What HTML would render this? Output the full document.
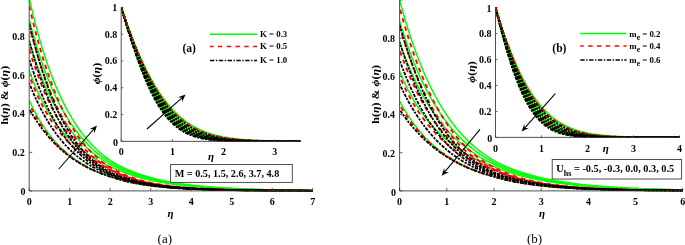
<!DOCTYPE html>
<html><head><meta charset="utf-8"><title>figure</title>
<style>
html,body{margin:0;padding:0;background:#fff;}
body{width:685px;height:245px;overflow:hidden;}
svg{display:block;}
text{font-family:"Liberation Serif","DejaVu Serif",serif;fill:#000;}
.tk{font-weight:bold;}
.it{font-style:italic;font-weight:bold;}
</style></head><body>
<svg width="685" height="245" viewBox="0 0 685 245">
<rect width="685" height="245" fill="#fff"/>
<defs>
<clipPath id="cA"><rect x="29.2" y="-5" width="284" height="196.6"/></clipPath>
<clipPath id="cB"><rect x="399.6" y="-5" width="283.7" height="196.6"/></clipPath>
<clipPath id="cAi"><rect x="121.2" y="0" width="179.4" height="142"/></clipPath>
<clipPath id="cBi"><rect x="495.5" y="0" width="184.2" height="138.1"/></clipPath>
</defs>
<g clip-path="url(#cA)">
<path d="M29.2 -1.7 L30.98 6.02 L32.77 13.43 L34.55 20.54 L36.33 27.36 L38.12 33.91 L39.9 40.19 L41.68 46.21 L43.46 51.99 L45.25 57.54 L47.03 62.87 L48.81 67.98 L50.6 72.88 L52.38 77.59 L54.16 82.11 L55.95 86.44 L57.73 90.6 L59.51 94.6 L61.29 98.43 L63.08 102.12 L64.86 105.65 L66.64 109.04 L68.43 112.3 L70.21 115.42 L71.99 118.42 L73.78 121.3 L75.56 124.07 L77.34 126.73 L79.12 129.28 L80.91 131.72 L82.69 134.07 L84.47 136.33 L86.26 138.5 L88.04 140.58 L89.82 142.57 L91.61 144.49 L93.39 146.33 L95.17 148.1 L96.95 149.8 L98.74 151.43 L100.52 153 L102.3 154.5 L104.09 155.94 L105.87 157.33 L107.65 158.66 L109.44 159.94 L111.22 161.1 L113 162.17 L114.78 163.2 L116.57 164.19 L118.35 165.15 L120.13 166.07 L121.92 166.97 L123.7 167.82 L125.48 168.65 L127.27 169.45 L129.05 170.22 L130.83 170.96 L132.62 171.68 L134.4 172.37 L136.18 173.03 L137.96 173.67 L139.75 174.29 L141.53 174.89 L143.31 175.46 L145.1 176.02 L146.88 176.55 L148.66 177.06 L150.45 177.56 L152.23 178.04 L154.01 178.5 L155.79 178.95 L157.58 179.38 L159.36 179.79 L161.14 180.19 L162.93 180.57 L164.71 180.94 L166.49 181.3 L168.28 181.64 L170.06 181.98 L171.84 182.3 L173.62 182.61 L175.41 182.9 L177.19 183.19 L178.97 183.47 L180.76 183.73 L182.54 183.99 L184.32 184.24 L186.11 184.48 L187.89 184.71 L189.67 184.93 L191.45 185.14 L193.24 185.35 L195.02 185.55 L196.8 185.74 L198.59 185.93 L200.37 186.11 L202.15 186.28 L203.94 186.44 L205.72 186.6 L207.5 186.76 L209.28 186.91 L211.07 187.05 L212.85 187.19 L214.63 187.32 L216.42 187.45 L218.2 187.57 L219.98 187.69 L221.77 187.81 L223.55 187.92 L225.33 188.03 L227.12 188.13 L228.9 188.23 L230.68 188.32 L232.46 188.42 L234.25 188.51 L236.03 188.59 L237.81 188.67 L239.6 188.75 L241.38 188.83 L243.16 188.91 L244.95 188.98 L246.73 189.05 L248.51 189.11 L250.29 189.18 L252.08 189.24 L253.86 189.3 L255.64 189.36 L257.43 189.41 L259.21 189.46 L260.99 189.52 L262.78 189.57 L264.56 189.61 L266.34 189.66 L268.12 189.7 L269.91 189.75 L271.69 189.79 L273.47 189.83 L275.26 189.87 L277.04 189.9 L278.82 189.94 L280.61 189.97 L282.39 190.01 L284.17 190.04 L285.95 190.07 L287.74 190.1 L289.52 190.13 L291.3 190.16 L293.09 190.18 L294.87 190.21 L296.65 190.23 L298.44 190.26 L300.22 190.28 L302 190.3 L303.78 190.32 L305.57 190.34 L307.35 190.36 L309.13 190.38 L310.92 190.4 L312.7 190.42" stroke="#00ff00" stroke-width="1.45" fill="none"/>
<path d="M29.2 19.49 L30.98 26.35 L32.77 32.93 L34.55 39.23 L36.33 45.26 L38.12 51.04 L39.9 56.57 L41.68 61.88 L43.46 66.97 L45.25 71.84 L47.03 76.52 L48.81 81 L50.6 85.3 L52.38 89.43 L54.16 93.39 L55.95 97.19 L57.73 100.83 L59.51 104.33 L61.29 107.69 L63.08 110.92 L64.86 114.01 L66.64 116.98 L68.43 119.84 L70.21 122.58 L71.99 125.21 L73.78 127.74 L75.56 130.17 L77.34 132.5 L79.12 134.74 L80.91 136.9 L82.69 138.97 L84.47 140.96 L86.26 142.87 L88.04 144.71 L89.82 146.47 L91.61 148.17 L93.39 149.8 L95.17 151.37 L96.95 152.87 L98.74 154.32 L100.52 155.72 L102.3 157.06 L104.09 158.34 L105.87 159.58 L107.65 160.77 L109.44 161.92 L111.22 162.98 L113 163.99 L114.78 164.95 L116.57 165.88 L118.35 166.78 L120.13 167.65 L121.92 168.48 L123.7 169.28 L125.48 170.06 L127.27 170.81 L129.05 171.53 L130.83 172.22 L132.62 172.89 L134.4 173.54 L136.18 174.16 L137.96 174.76 L139.75 175.34 L141.53 175.9 L143.31 176.44 L145.1 176.96 L146.88 177.46 L148.66 177.94 L150.45 178.41 L152.23 178.85 L154.01 179.29 L155.79 179.7 L157.58 180.1 L159.36 180.49 L161.14 180.87 L162.93 181.23 L164.71 181.57 L166.49 181.91 L168.28 182.23 L170.06 182.54 L171.84 182.84 L173.62 183.13 L175.41 183.41 L177.19 183.68 L178.97 183.94 L180.76 184.19 L182.54 184.43 L184.32 184.66 L186.11 184.88 L187.89 185.1 L189.67 185.31 L191.45 185.51 L193.24 185.7 L195.02 185.89 L196.8 186.07 L198.59 186.24 L200.37 186.41 L202.15 186.57 L203.94 186.73 L205.72 186.87 L207.5 187.02 L209.28 187.16 L211.07 187.29 L212.85 187.42 L214.63 187.55 L216.42 187.67 L218.2 187.78 L219.98 187.9 L221.77 188 L223.55 188.11 L225.33 188.21 L227.12 188.3 L228.9 188.4 L230.68 188.49 L232.46 188.57 L234.25 188.66 L236.03 188.74 L237.81 188.81 L239.6 188.89 L241.38 188.96 L243.16 189.03 L244.95 189.1 L246.73 189.16 L248.51 189.23 L250.29 189.29 L252.08 189.34 L253.86 189.4 L255.64 189.45 L257.43 189.51 L259.21 189.56 L260.99 189.6 L262.78 189.65 L264.56 189.69 L266.34 189.74 L268.12 189.78 L269.91 189.82 L271.69 189.86 L273.47 189.9 L275.26 189.93 L277.04 189.97 L278.82 190 L280.61 190.03 L282.39 190.06 L284.17 190.09 L285.95 190.12 L287.74 190.15 L289.52 190.18 L291.3 190.2 L293.09 190.23 L294.87 190.25 L296.65 190.28 L298.44 190.3 L300.22 190.32 L302 190.34 L303.78 190.36 L305.57 190.38 L307.35 190.4 L309.13 190.42 L310.92 190.43 L312.7 190.45" stroke="#00ff00" stroke-width="1.45" fill="none"/>
<path d="M29.2 40.67 L30.98 46.68 L32.77 52.42 L34.55 57.91 L36.33 63.16 L38.12 68.17 L39.9 72.97 L41.68 77.56 L43.46 81.95 L45.25 86.16 L47.03 90.19 L48.81 94.06 L50.6 97.76 L52.38 101.31 L54.16 104.71 L55.95 107.97 L57.73 111.1 L59.51 114.11 L61.29 116.99 L63.08 119.76 L64.86 122.42 L66.64 124.97 L68.43 127.43 L70.21 129.78 L71.99 132.05 L73.78 134.22 L75.56 136.31 L77.34 138.32 L79.12 140.26 L80.91 142.11 L82.69 143.9 L84.47 145.62 L86.26 147.28 L88.04 148.87 L89.82 150.4 L91.61 151.87 L93.39 153.29 L95.17 154.66 L96.95 155.97 L98.74 157.24 L100.52 158.45 L102.3 159.63 L104.09 160.76 L105.87 161.84 L107.65 162.89 L109.44 163.9 L111.22 164.87 L113 165.8 L114.78 166.7 L116.57 167.57 L118.35 168.41 L120.13 169.22 L121.92 170 L123.7 170.75 L125.48 171.47 L127.27 172.17 L129.05 172.84 L130.83 173.49 L132.62 174.11 L134.4 174.71 L136.18 175.29 L137.96 175.85 L139.75 176.39 L141.53 176.91 L143.31 177.42 L145.1 177.9 L146.88 178.37 L148.66 178.82 L150.45 179.25 L152.23 179.67 L154.01 180.07 L155.79 180.46 L157.58 180.83 L159.36 181.2 L161.14 181.54 L162.93 181.88 L164.71 182.2 L166.49 182.51 L168.28 182.82 L170.06 183.11 L171.84 183.39 L173.62 183.66 L175.41 183.92 L177.19 184.17 L178.97 184.41 L180.76 184.64 L182.54 184.86 L184.32 185.08 L186.11 185.29 L187.89 185.49 L189.67 185.69 L191.45 185.87 L193.24 186.05 L195.02 186.23 L196.8 186.39 L198.59 186.56 L200.37 186.71 L202.15 186.86 L203.94 187.01 L205.72 187.15 L207.5 187.28 L209.28 187.41 L211.07 187.54 L212.85 187.66 L214.63 187.77 L216.42 187.89 L218.2 187.99 L219.98 188.1 L221.77 188.2 L223.55 188.3 L225.33 188.39 L227.12 188.48 L228.9 188.57 L230.68 188.65 L232.46 188.73 L234.25 188.81 L236.03 188.88 L237.81 188.96 L239.6 189.03 L241.38 189.09 L243.16 189.16 L244.95 189.22 L246.73 189.28 L248.51 189.34 L250.29 189.39 L252.08 189.45 L253.86 189.5 L255.64 189.55 L257.43 189.6 L259.21 189.65 L260.99 189.69 L262.78 189.73 L264.56 189.78 L266.34 189.82 L268.12 189.86 L269.91 189.89 L271.69 189.93 L273.47 189.96 L275.26 190 L277.04 190.03 L278.82 190.06 L280.61 190.09 L282.39 190.12 L284.17 190.15 L285.95 190.18 L287.74 190.2 L289.52 190.23 L291.3 190.25 L293.09 190.27 L294.87 190.3 L296.65 190.32 L298.44 190.34 L300.22 190.36 L302 190.38 L303.78 190.4 L305.57 190.42 L307.35 190.43 L309.13 190.45 L310.92 190.47 L312.7 190.48" stroke="#00ff00" stroke-width="1.45" fill="none"/>
<path d="M29.2 70.53 L30.98 75.43 L32.77 80.07 L34.55 84.48 L36.33 88.67 L38.12 92.64 L39.9 96.43 L41.68 100.03 L43.46 103.46 L45.25 106.73 L47.03 109.85 L48.81 112.83 L50.6 115.67 L52.38 118.39 L54.16 120.99 L55.95 123.47 L57.73 125.85 L59.51 128.13 L61.29 130.32 L63.08 132.42 L64.86 134.43 L66.64 136.36 L68.43 138.21 L70.21 139.99 L71.99 141.7 L73.78 143.34 L75.56 144.92 L77.34 146.44 L79.12 147.91 L80.91 149.32 L82.69 150.67 L84.47 151.98 L86.26 153.24 L88.04 154.46 L89.82 155.63 L91.61 156.76 L93.39 157.85 L95.17 158.9 L96.95 159.91 L98.74 160.89 L100.52 161.84 L102.3 162.75 L104.09 163.63 L105.87 164.49 L107.65 165.31 L109.44 166.11 L111.22 166.95 L113 167.8 L114.78 168.63 L116.57 169.43 L118.35 170.2 L120.13 170.95 L121.92 171.66 L123.7 172.35 L125.48 173.02 L127.27 173.66 L129.05 174.28 L130.83 174.87 L132.62 175.45 L134.4 176 L136.18 176.54 L137.96 177.05 L139.75 177.55 L141.53 178.03 L143.31 178.49 L145.1 178.94 L146.88 179.37 L148.66 179.78 L150.45 180.18 L152.23 180.56 L154.01 180.93 L155.79 181.29 L157.58 181.64 L159.36 181.97 L161.14 182.29 L162.93 182.6 L164.71 182.9 L166.49 183.18 L168.28 183.46 L170.06 183.73 L171.84 183.98 L173.62 184.23 L175.41 184.47 L177.19 184.7 L178.97 184.92 L180.76 185.14 L182.54 185.35 L184.32 185.55 L186.11 185.74 L187.89 185.92 L189.67 186.1 L191.45 186.27 L193.24 186.44 L195.02 186.6 L196.8 186.75 L198.59 186.9 L200.37 187.05 L202.15 187.18 L203.94 187.32 L205.72 187.45 L207.5 187.57 L209.28 187.69 L211.07 187.8 L212.85 187.92 L214.63 188.02 L216.42 188.13 L218.2 188.23 L219.98 188.32 L221.77 188.41 L223.55 188.5 L225.33 188.59 L227.12 188.67 L228.9 188.75 L230.68 188.83 L232.46 188.9 L234.25 188.98 L236.03 189.04 L237.81 189.11 L239.6 189.18 L241.38 189.24 L243.16 189.3 L244.95 189.35 L246.73 189.41 L248.51 189.46 L250.29 189.51 L252.08 189.56 L253.86 189.61 L255.64 189.66 L257.43 189.7 L259.21 189.75 L260.99 189.79 L262.78 189.83 L264.56 189.87 L266.34 189.9 L268.12 189.94 L269.91 189.97 L271.69 190.01 L273.47 190.04 L275.26 190.07 L277.04 190.1 L278.82 190.13 L280.61 190.16 L282.39 190.18 L284.17 190.21 L285.95 190.23 L287.74 190.26 L289.52 190.28 L291.3 190.3 L293.09 190.32 L294.87 190.34 L296.65 190.36 L298.44 190.38 L300.22 190.4 L302 190.42 L303.78 190.44 L305.57 190.45 L307.35 190.47 L309.13 190.49 L310.92 190.5 L312.7 190.51" stroke="#00ff00" stroke-width="1.45" fill="none"/>
<path d="M29.2 100.38 L30.98 104.19 L32.77 107.83 L34.55 111.3 L36.33 114.61 L38.12 117.77 L39.9 120.79 L41.68 123.67 L43.46 126.43 L45.25 129.06 L47.03 131.58 L48.81 133.99 L50.6 136.3 L52.38 138.5 L54.16 140.61 L55.95 142.63 L57.73 144.56 L59.51 146.41 L61.29 148.19 L63.08 149.89 L64.86 151.51 L66.64 153.08 L68.43 154.57 L70.21 156 L71.99 157.38 L73.78 158.7 L75.56 159.96 L77.34 161.18 L79.12 162.34 L80.91 163.45 L82.69 164.53 L84.47 165.55 L86.26 166.54 L88.04 167.49 L89.82 168.4 L91.61 169.27 L93.39 170.11 L95.17 170.91 L96.95 171.69 L98.74 172.43 L100.52 173.14 L102.3 173.83 L104.09 174.49 L105.87 175.12 L107.65 175.72 L109.44 176.31 L111.22 176.91 L113 177.51 L114.78 178.09 L116.57 178.64 L118.35 179.17 L120.13 179.67 L121.92 180.16 L123.7 180.62 L125.48 181.06 L127.27 181.49 L129.05 181.89 L130.83 182.28 L132.62 182.65 L134.4 183.01 L136.18 183.35 L137.96 183.67 L139.75 183.98 L141.53 184.28 L143.31 184.57 L145.1 184.84 L146.88 185.1 L148.66 185.35 L150.45 185.59 L152.23 185.82 L154.01 186.04 L155.79 186.25 L157.58 186.45 L159.36 186.64 L161.14 186.82 L162.93 187 L164.71 187.17 L166.49 187.33 L168.28 187.48 L170.06 187.63 L171.84 187.77 L173.62 187.9 L175.41 188.03 L177.19 188.16 L178.97 188.27 L180.76 188.39 L182.54 188.5 L184.32 188.6 L186.11 188.7 L187.89 188.79 L189.67 188.88 L191.45 188.97 L193.24 189.05 L195.02 189.13 L196.8 189.21 L198.59 189.28 L200.37 189.35 L202.15 189.42 L203.94 189.48 L205.72 189.54 L207.5 189.6 L209.28 189.66 L211.07 189.71 L212.85 189.76 L214.63 189.81 L216.42 189.86 L218.2 189.9 L219.98 189.95 L221.77 189.99 L223.55 190.03 L225.33 190.06 L227.12 190.1 L228.9 190.13 L230.68 190.17 L232.46 190.2 L234.25 190.23 L236.03 190.26 L237.81 190.29 L239.6 190.31 L241.38 190.34 L243.16 190.36 L244.95 190.38 L246.73 190.41 L248.51 190.43 L250.29 190.45 L252.08 190.47 L253.86 190.49 L255.64 190.5 L257.43 190.52 L259.21 190.54 L260.99 190.55 L262.78 190.57 L264.56 190.58 L266.34 190.6 L268.12 190.61 L269.91 190.62 L271.69 190.63 L273.47 190.65 L275.26 190.66 L277.04 190.67 L278.82 190.68 L280.61 190.69 L282.39 190.7 L284.17 190.7 L285.95 190.71 L287.74 190.72 L289.52 190.73 L291.3 190.74 L293.09 190.74 L294.87 190.75 L296.65 190.76 L298.44 190.76 L300.22 190.77 L302 190.77 L303.78 190.78 L305.57 190.78 L307.35 190.79 L309.13 190.79 L310.92 190.8 L312.7 190.8" stroke="#00ff00" stroke-width="1.45" fill="none"/>
<path d="M29.2 6 L30.98 13.6 L32.77 20.93 L34.55 28 L36.33 34.82 L38.12 41.38 L39.9 47.7 L41.68 53.78 L43.46 59.63 L45.25 65.25 L47.03 70.66 L48.81 75.86 L50.6 80.84 L52.38 85.63 L54.16 90.23 L55.95 94.64 L57.73 98.87 L59.51 102.93 L61.29 106.82 L63.08 110.55 L64.86 114.12 L66.64 117.54 L68.43 120.82 L70.21 123.95 L71.99 126.96 L73.78 129.83 L75.56 132.58 L77.34 135.21 L79.12 137.73 L80.91 140.14 L82.69 142.44 L84.47 144.64 L86.26 146.75 L88.04 148.76 L89.82 150.68 L91.61 152.52 L93.39 154.27 L95.17 155.95 L96.95 157.55 L98.74 159.08 L100.52 160.54 L102.3 161.94 L104.09 163.27 L105.87 164.55 L107.65 165.76 L109.44 166.92 L111.22 168.02 L113 169.05 L114.78 170.04 L116.57 170.98 L118.35 171.88 L120.13 172.74 L121.92 173.56 L123.7 174.34 L125.48 175.09 L127.27 175.8 L129.05 176.49 L130.83 177.14 L132.62 177.76 L134.4 178.35 L136.18 178.92 L137.96 179.46 L139.75 179.98 L141.53 180.47 L143.31 180.94 L145.1 181.39 L146.88 181.82 L148.66 182.23 L150.45 182.62 L152.23 183 L154.01 183.35 L155.79 183.69 L157.58 184.02 L159.36 184.33 L161.14 184.63 L162.93 184.91 L164.71 185.18 L166.49 185.44 L168.28 185.69 L170.06 185.92 L171.84 186.15 L173.62 186.36 L175.41 186.57 L177.19 186.76 L178.97 186.95 L180.76 187.13 L182.54 187.3 L184.32 187.46 L186.11 187.62 L187.89 187.76 L189.67 187.91 L191.45 188.04 L193.24 188.17 L195.02 188.29 L196.8 188.41 L198.59 188.52 L200.37 188.63 L202.15 188.73 L203.94 188.83 L205.72 188.93 L207.5 189.01 L209.28 189.1 L211.07 189.18 L212.85 189.26 L214.63 189.33 L216.42 189.4 L218.2 189.47 L219.98 189.54 L221.77 189.6 L223.55 189.66 L225.33 189.71 L227.12 189.77 L228.9 189.82 L230.68 189.87 L232.46 189.91 L234.25 189.96 L236.03 190 L237.81 190.04 L239.6 190.08 L241.38 190.12 L243.16 190.15 L244.95 190.19 L246.73 190.22 L248.51 190.25 L250.29 190.28 L252.08 190.31 L253.86 190.33 L255.64 190.36 L257.43 190.38 L259.21 190.41 L260.99 190.43 L262.78 190.45 L264.56 190.47 L266.34 190.49 L268.12 190.51 L269.91 190.53 L271.69 190.54 L273.47 190.56 L275.26 190.57 L277.04 190.59 L278.82 190.6 L280.61 190.62 L282.39 190.63 L284.17 190.64 L285.95 190.65 L287.74 190.66 L289.52 190.68 L291.3 190.69 L293.09 190.69 L294.87 190.7 L296.65 190.71 L298.44 190.72 L300.22 190.73 L302 190.74 L303.78 190.74 L305.57 190.75 L307.35 190.76 L309.13 190.76 L310.92 190.77 L312.7 190.78" stroke="#ff0000" stroke-width="1.9" fill="none" stroke-dasharray="4.4 4.3" stroke-dashoffset="0.06"/>
<path d="M29.2 25.26 L30.98 32.13 L32.77 38.75 L34.55 45.11 L36.33 51.23 L38.12 57.12 L39.9 62.78 L41.68 68.21 L43.46 73.44 L45.25 78.45 L47.03 83.27 L48.81 87.89 L50.6 92.33 L52.38 96.58 L54.16 100.67 L55.95 104.58 L57.73 108.33 L59.51 111.93 L61.29 115.38 L63.08 118.68 L64.86 121.85 L66.64 124.88 L68.43 127.78 L70.21 130.56 L71.99 133.22 L73.78 135.77 L75.56 138.21 L77.34 140.54 L79.12 142.78 L80.91 144.91 L82.69 146.96 L84.47 148.91 L86.26 150.78 L88.04 152.57 L89.82 154.28 L91.61 155.92 L93.39 157.49 L95.17 158.98 L96.95 160.41 L98.74 161.78 L100.52 163.09 L102.3 164.33 L104.09 165.53 L105.87 166.67 L107.65 167.76 L109.44 168.8 L111.22 169.8 L113 170.75 L114.78 171.66 L116.57 172.53 L118.35 173.36 L120.13 174.15 L121.92 174.91 L123.7 175.63 L125.48 176.32 L127.27 176.98 L129.05 177.61 L130.83 178.21 L132.62 178.78 L134.4 179.33 L136.18 179.85 L137.96 180.35 L139.75 180.83 L141.53 181.28 L143.31 181.72 L145.1 182.13 L146.88 182.53 L148.66 182.91 L150.45 183.27 L152.23 183.61 L154.01 183.94 L155.79 184.26 L157.58 184.56 L159.36 184.84 L161.14 185.12 L162.93 185.38 L164.71 185.63 L166.49 185.87 L168.28 186.09 L170.06 186.31 L171.84 186.52 L173.62 186.72 L175.41 186.9 L177.19 187.08 L178.97 187.26 L180.76 187.42 L182.54 187.58 L184.32 187.73 L186.11 187.87 L187.89 188.01 L189.67 188.14 L191.45 188.26 L193.24 188.38 L195.02 188.5 L196.8 188.61 L198.59 188.71 L200.37 188.81 L202.15 188.9 L203.94 188.99 L205.72 189.08 L207.5 189.16 L209.28 189.24 L211.07 189.31 L212.85 189.39 L214.63 189.45 L216.42 189.52 L218.2 189.58 L219.98 189.64 L221.77 189.7 L223.55 189.75 L225.33 189.8 L227.12 189.85 L228.9 189.9 L230.68 189.95 L232.46 189.99 L234.25 190.03 L236.03 190.07 L237.81 190.11 L239.6 190.14 L241.38 190.18 L243.16 190.21 L244.95 190.24 L246.73 190.27 L248.51 190.3 L250.29 190.33 L252.08 190.35 L253.86 190.38 L255.64 190.4 L257.43 190.42 L259.21 190.44 L260.99 190.47 L262.78 190.49 L264.56 190.5 L266.34 190.52 L268.12 190.54 L269.91 190.56 L271.69 190.57 L273.47 190.59 L275.26 190.6 L277.04 190.61 L278.82 190.63 L280.61 190.64 L282.39 190.65 L284.17 190.66 L285.95 190.67 L287.74 190.68 L289.52 190.69 L291.3 190.7 L293.09 190.71 L294.87 190.72 L296.65 190.73 L298.44 190.74 L300.22 190.74 L302 190.75 L303.78 190.76 L305.57 190.76 L307.35 190.77 L309.13 190.78 L310.92 190.78 L312.7 190.79" stroke="#ff0000" stroke-width="1.9" fill="none" stroke-dasharray="4.4 4.3" stroke-dashoffset="1.92"/>
<path d="M29.2 48.95 L30.98 54.83 L32.77 60.45 L34.55 65.84 L36.33 71 L38.12 75.95 L39.9 80.69 L41.68 85.23 L43.46 89.59 L45.25 93.76 L47.03 97.76 L48.81 101.59 L50.6 105.26 L52.38 108.78 L54.16 112.16 L55.95 115.39 L57.73 118.49 L59.51 121.46 L61.29 124.31 L63.08 127.04 L64.86 129.66 L66.64 132.17 L68.43 134.58 L70.21 136.88 L71.99 139.1 L73.78 141.22 L75.56 143.25 L77.34 145.2 L79.12 147.07 L80.91 148.86 L82.69 150.58 L84.47 152.23 L86.26 153.81 L88.04 155.33 L89.82 156.78 L91.61 158.18 L93.39 159.51 L95.17 160.8 L96.95 162.03 L98.74 163.2 L100.52 164.34 L102.3 165.42 L104.09 166.46 L105.87 167.46 L107.65 168.41 L109.44 169.33 L111.22 170.27 L113 171.2 L114.78 172.09 L116.57 172.94 L118.35 173.75 L120.13 174.52 L121.92 175.26 L123.7 175.97 L125.48 176.64 L127.27 177.29 L129.05 177.9 L130.83 178.49 L132.62 179.05 L134.4 179.59 L136.18 180.1 L137.96 180.59 L139.75 181.05 L141.53 181.5 L143.31 181.92 L145.1 182.33 L146.88 182.71 L148.66 183.08 L150.45 183.44 L152.23 183.77 L154.01 184.1 L155.79 184.4 L157.58 184.7 L159.36 184.98 L161.14 185.24 L162.93 185.5 L164.71 185.74 L166.49 185.98 L168.28 186.2 L170.06 186.41 L171.84 186.61 L173.62 186.81 L175.41 186.99 L177.19 187.17 L178.97 187.34 L180.76 187.5 L182.54 187.65 L184.32 187.8 L186.11 187.94 L187.89 188.07 L189.67 188.2 L191.45 188.32 L193.24 188.44 L195.02 188.55 L196.8 188.66 L198.59 188.76 L200.37 188.85 L202.15 188.95 L203.94 189.04 L205.72 189.12 L207.5 189.2 L209.28 189.28 L211.07 189.35 L212.85 189.42 L214.63 189.49 L216.42 189.55 L218.2 189.61 L219.98 189.67 L221.77 189.73 L223.55 189.78 L225.33 189.83 L227.12 189.88 L228.9 189.92 L230.68 189.97 L232.46 190.01 L234.25 190.05 L236.03 190.09 L237.81 190.13 L239.6 190.16 L241.38 190.19 L243.16 190.23 L244.95 190.26 L246.73 190.29 L248.51 190.31 L250.29 190.34 L252.08 190.36 L253.86 190.39 L255.64 190.41 L257.43 190.43 L259.21 190.46 L260.99 190.48 L262.78 190.49 L264.56 190.51 L266.34 190.53 L268.12 190.55 L269.91 190.56 L271.69 190.58 L273.47 190.59 L275.26 190.61 L277.04 190.62 L278.82 190.63 L280.61 190.64 L282.39 190.66 L284.17 190.67 L285.95 190.68 L287.74 190.69 L289.52 190.7 L291.3 190.71 L293.09 190.72 L294.87 190.72 L296.65 190.73 L298.44 190.74 L300.22 190.75 L302 190.75 L303.78 190.76 L305.57 190.77 L307.35 190.77 L309.13 190.78 L310.92 190.78 L312.7 190.79" stroke="#ff0000" stroke-width="1.9" fill="none" stroke-dasharray="4.4 4.3" stroke-dashoffset="8.06"/>
<path d="M29.2 75.34 L30.98 80.06 L32.77 84.55 L34.55 88.83 L36.33 92.91 L38.12 96.81 L39.9 100.53 L41.68 104.08 L43.46 107.47 L45.25 110.71 L47.03 113.81 L48.81 116.78 L50.6 119.62 L52.38 122.33 L54.16 124.94 L55.95 127.43 L57.73 129.82 L59.51 132.11 L61.29 134.3 L63.08 136.41 L64.86 138.43 L66.64 140.37 L68.43 142.23 L70.21 144.02 L71.99 145.74 L73.78 147.39 L75.56 148.97 L77.34 150.49 L79.12 151.96 L80.91 153.37 L82.69 154.72 L84.47 156.02 L86.26 157.27 L88.04 158.48 L89.82 159.64 L91.61 160.75 L93.39 161.83 L95.17 162.86 L96.95 163.86 L98.74 164.82 L100.52 165.74 L102.3 166.63 L104.09 167.49 L105.87 168.31 L107.65 169.11 L109.44 169.88 L111.22 170.74 L113 171.65 L114.78 172.52 L116.57 173.35 L118.35 174.14 L120.13 174.9 L121.92 175.62 L123.7 176.31 L125.48 176.97 L127.27 177.6 L129.05 178.2 L130.83 178.77 L132.62 179.32 L134.4 179.84 L136.18 180.34 L137.96 180.82 L139.75 181.28 L141.53 181.71 L143.31 182.13 L145.1 182.52 L146.88 182.9 L148.66 183.26 L150.45 183.61 L152.23 183.94 L154.01 184.25 L155.79 184.55 L157.58 184.84 L159.36 185.11 L161.14 185.37 L162.93 185.62 L164.71 185.86 L166.49 186.09 L168.28 186.31 L170.06 186.51 L171.84 186.71 L173.62 186.9 L175.41 187.08 L177.19 187.25 L178.97 187.42 L180.76 187.58 L182.54 187.73 L184.32 187.87 L186.11 188.01 L187.89 188.14 L189.67 188.26 L191.45 188.38 L193.24 188.5 L195.02 188.6 L196.8 188.71 L198.59 188.81 L200.37 188.9 L202.15 188.99 L203.94 189.08 L205.72 189.16 L207.5 189.24 L209.28 189.31 L211.07 189.39 L212.85 189.45 L214.63 189.52 L216.42 189.58 L218.2 189.64 L219.98 189.7 L221.77 189.75 L223.55 189.8 L225.33 189.85 L227.12 189.9 L228.9 189.95 L230.68 189.99 L232.46 190.03 L234.25 190.07 L236.03 190.11 L237.81 190.14 L239.6 190.18 L241.38 190.21 L243.16 190.24 L244.95 190.27 L246.73 190.3 L248.51 190.33 L250.29 190.35 L252.08 190.38 L253.86 190.4 L255.64 190.42 L257.43 190.44 L259.21 190.47 L260.99 190.48 L262.78 190.5 L264.56 190.52 L266.34 190.54 L268.12 190.55 L269.91 190.57 L271.69 190.59 L273.47 190.6 L275.26 190.61 L277.04 190.63 L278.82 190.64 L280.61 190.65 L282.39 190.66 L284.17 190.67 L285.95 190.68 L287.74 190.69 L289.52 190.7 L291.3 190.71 L293.09 190.72 L294.87 190.73 L296.65 190.74 L298.44 190.74 L300.22 190.75 L302 190.76 L303.78 190.76 L305.57 190.77 L307.35 190.78 L309.13 190.78 L310.92 190.79 L312.7 190.79" stroke="#ff0000" stroke-width="1.9" fill="none" stroke-dasharray="4.4 4.3" stroke-dashoffset="4.37"/>
<path d="M29.2 104.23 L30.98 107.67 L32.77 110.96 L34.55 114.12 L36.33 117.15 L38.12 120.06 L39.9 122.85 L41.68 125.52 L43.46 128.09 L45.25 130.55 L47.03 132.92 L48.81 135.19 L50.6 137.36 L52.38 139.45 L54.16 141.46 L55.95 143.39 L57.73 145.23 L59.51 147.01 L61.29 148.72 L63.08 150.35 L64.86 151.93 L66.64 153.44 L68.43 154.89 L70.21 156.28 L71.99 157.62 L73.78 158.91 L75.56 160.15 L77.34 161.34 L79.12 162.48 L80.91 163.57 L82.69 164.63 L84.47 165.64 L86.26 166.61 L88.04 167.55 L89.82 168.45 L91.61 169.31 L93.39 170.14 L95.17 170.94 L96.95 171.71 L98.74 172.45 L100.52 173.15 L102.3 173.84 L104.09 174.49 L105.87 175.12 L107.65 175.73 L109.44 176.31 L111.22 176.91 L113 177.51 L114.78 178.09 L116.57 178.64 L118.35 179.17 L120.13 179.67 L121.92 180.16 L123.7 180.62 L125.48 181.06 L127.27 181.49 L129.05 181.89 L130.83 182.28 L132.62 182.65 L134.4 183.01 L136.18 183.35 L137.96 183.67 L139.75 183.98 L141.53 184.28 L143.31 184.57 L145.1 184.84 L146.88 185.1 L148.66 185.35 L150.45 185.59 L152.23 185.82 L154.01 186.04 L155.79 186.25 L157.58 186.45 L159.36 186.64 L161.14 186.82 L162.93 187 L164.71 187.17 L166.49 187.33 L168.28 187.48 L170.06 187.63 L171.84 187.77 L173.62 187.9 L175.41 188.03 L177.19 188.16 L178.97 188.27 L180.76 188.39 L182.54 188.5 L184.32 188.6 L186.11 188.7 L187.89 188.79 L189.67 188.88 L191.45 188.97 L193.24 189.05 L195.02 189.13 L196.8 189.21 L198.59 189.28 L200.37 189.35 L202.15 189.42 L203.94 189.48 L205.72 189.54 L207.5 189.6 L209.28 189.66 L211.07 189.71 L212.85 189.76 L214.63 189.81 L216.42 189.86 L218.2 189.9 L219.98 189.95 L221.77 189.99 L223.55 190.03 L225.33 190.06 L227.12 190.1 L228.9 190.13 L230.68 190.17 L232.46 190.2 L234.25 190.23 L236.03 190.26 L237.81 190.29 L239.6 190.31 L241.38 190.34 L243.16 190.36 L244.95 190.38 L246.73 190.41 L248.51 190.43 L250.29 190.45 L252.08 190.47 L253.86 190.49 L255.64 190.5 L257.43 190.52 L259.21 190.54 L260.99 190.55 L262.78 190.57 L264.56 190.58 L266.34 190.6 L268.12 190.61 L269.91 190.62 L271.69 190.63 L273.47 190.65 L275.26 190.66 L277.04 190.67 L278.82 190.68 L280.61 190.69 L282.39 190.7 L284.17 190.7 L285.95 190.71 L287.74 190.72 L289.52 190.73 L291.3 190.74 L293.09 190.74 L294.87 190.75 L296.65 190.76 L298.44 190.76 L300.22 190.77 L302 190.77 L303.78 190.78 L305.57 190.78 L307.35 190.79 L309.13 190.79 L310.92 190.8 L312.7 190.8" stroke="#ff0000" stroke-width="1.9" fill="none" stroke-dasharray="4.4 4.3" stroke-dashoffset="4.2"/>
<path d="M29.2 23.34 L30.98 30.58 L32.77 37.56 L34.55 44.28 L36.33 50.74 L38.12 56.96 L39.9 62.94 L41.68 68.68 L43.46 74.19 L45.25 79.48 L47.03 84.55 L48.81 89.41 L50.6 94.07 L52.38 98.54 L54.16 102.81 L55.95 106.9 L57.73 110.82 L59.51 114.57 L61.29 118.15 L63.08 121.57 L64.86 124.85 L66.64 127.97 L68.43 130.96 L70.21 133.81 L71.99 136.53 L73.78 139.13 L75.56 141.61 L77.34 143.98 L79.12 146.24 L80.91 148.39 L82.69 150.44 L84.47 152.4 L86.26 154.26 L88.04 156.04 L89.82 157.74 L91.61 159.35 L93.39 160.89 L95.17 162.35 L96.95 163.75 L98.74 165.08 L100.52 166.34 L102.3 167.54 L104.09 168.69 L105.87 169.78 L107.65 170.82 L109.44 171.81 L111.22 172.68 L113 173.47 L114.78 174.22 L116.57 174.94 L118.35 175.62 L120.13 176.28 L121.92 176.91 L123.7 177.51 L125.48 178.09 L127.27 178.64 L129.05 179.17 L130.83 179.68 L132.62 180.16 L134.4 180.62 L136.18 181.06 L137.96 181.49 L139.75 181.89 L141.53 182.28 L143.31 182.65 L145.1 183.01 L146.88 183.35 L148.66 183.67 L150.45 183.98 L152.23 184.28 L154.01 184.57 L155.79 184.84 L157.58 185.1 L159.36 185.35 L161.14 185.59 L162.93 185.82 L164.71 186.04 L166.49 186.25 L168.28 186.45 L170.06 186.64 L171.84 186.82 L173.62 187 L175.41 187.17 L177.19 187.33 L178.97 187.48 L180.76 187.63 L182.54 187.77 L184.32 187.9 L186.11 188.03 L187.89 188.16 L189.67 188.27 L191.45 188.39 L193.24 188.5 L195.02 188.6 L196.8 188.7 L198.59 188.79 L200.37 188.88 L202.15 188.97 L203.94 189.05 L205.72 189.13 L207.5 189.21 L209.28 189.28 L211.07 189.35 L212.85 189.42 L214.63 189.48 L216.42 189.54 L218.2 189.6 L219.98 189.66 L221.77 189.71 L223.55 189.76 L225.33 189.81 L227.12 189.86 L228.9 189.9 L230.68 189.95 L232.46 189.99 L234.25 190.03 L236.03 190.06 L237.81 190.1 L239.6 190.13 L241.38 190.17 L243.16 190.2 L244.95 190.23 L246.73 190.26 L248.51 190.29 L250.29 190.31 L252.08 190.34 L253.86 190.36 L255.64 190.39 L257.43 190.41 L259.21 190.43 L260.99 190.45 L262.78 190.47 L264.56 190.49 L266.34 190.5 L268.12 190.52 L269.91 190.54 L271.69 190.55 L273.47 190.57 L275.26 190.58 L277.04 190.6 L278.82 190.61 L280.61 190.62 L282.39 190.63 L284.17 190.65 L285.95 190.66 L287.74 190.67 L289.52 190.68 L291.3 190.69 L293.09 190.7 L294.87 190.7 L296.65 190.71 L298.44 190.72 L300.22 190.73 L302 190.74 L303.78 190.74 L305.57 190.75 L307.35 190.76 L309.13 190.76 L310.92 190.77 L312.7 190.77" stroke="#000000" stroke-width="1.8" fill="none" stroke-dasharray="3.4 1.2 2.2 1.2" stroke-dashoffset="0"/>
<path d="M29.2 40.67 L30.98 47.16 L32.77 53.4 L34.55 59.39 L36.33 65.15 L38.12 70.68 L39.9 75.99 L41.68 81.09 L43.46 85.97 L45.25 90.66 L47.03 95.15 L48.81 99.46 L50.6 103.58 L52.38 107.53 L54.16 111.31 L55.95 114.93 L57.73 118.39 L59.51 121.71 L61.29 124.88 L63.08 127.91 L64.86 130.81 L66.64 133.58 L68.43 136.22 L70.21 138.75 L71.99 141.17 L73.78 143.48 L75.56 145.69 L77.34 147.79 L79.12 149.8 L80.91 151.72 L82.69 153.55 L84.47 155.3 L86.26 156.97 L88.04 158.57 L89.82 160.08 L91.61 161.53 L93.39 162.92 L95.17 164.24 L96.95 165.49 L98.74 166.69 L100.52 167.84 L102.3 168.93 L104.09 169.97 L105.87 170.96 L107.65 171.91 L109.44 172.81 L111.22 173.62 L113 174.37 L114.78 175.08 L116.57 175.76 L118.35 176.41 L120.13 177.04 L121.92 177.63 L123.7 178.2 L125.48 178.75 L127.27 179.27 L129.05 179.77 L130.83 180.25 L132.62 180.71 L134.4 181.15 L136.18 181.57 L137.96 181.97 L139.75 182.36 L141.53 182.73 L143.31 183.08 L145.1 183.41 L146.88 183.74 L148.66 184.05 L150.45 184.34 L152.23 184.62 L154.01 184.89 L155.79 185.15 L157.58 185.4 L159.36 185.64 L161.14 185.86 L162.93 186.08 L164.71 186.29 L166.49 186.49 L168.28 186.68 L170.06 186.86 L171.84 187.03 L173.62 187.2 L175.41 187.36 L177.19 187.51 L178.97 187.66 L180.76 187.8 L182.54 187.93 L184.32 188.06 L186.11 188.18 L187.89 188.3 L189.67 188.41 L191.45 188.52 L193.24 188.62 L195.02 188.72 L196.8 188.81 L198.59 188.9 L200.37 188.99 L202.15 189.07 L203.94 189.15 L205.72 189.22 L207.5 189.3 L209.28 189.37 L211.07 189.43 L212.85 189.49 L214.63 189.56 L216.42 189.61 L218.2 189.67 L219.98 189.72 L221.77 189.77 L223.55 189.82 L225.33 189.87 L227.12 189.91 L228.9 189.95 L230.68 190 L232.46 190.03 L234.25 190.07 L236.03 190.11 L237.81 190.14 L239.6 190.17 L241.38 190.21 L243.16 190.24 L244.95 190.26 L246.73 190.29 L248.51 190.32 L250.29 190.34 L252.08 190.37 L253.86 190.39 L255.64 190.41 L257.43 190.43 L259.21 190.45 L260.99 190.47 L262.78 190.49 L264.56 190.51 L266.34 190.52 L268.12 190.54 L269.91 190.56 L271.69 190.57 L273.47 190.59 L275.26 190.6 L277.04 190.61 L278.82 190.62 L280.61 190.64 L282.39 190.65 L284.17 190.66 L285.95 190.67 L287.74 190.68 L289.52 190.69 L291.3 190.7 L293.09 190.71 L294.87 190.71 L296.65 190.72 L298.44 190.73 L300.22 190.74 L302 190.74 L303.78 190.75 L305.57 190.76 L307.35 190.76 L309.13 190.77 L310.92 190.78 L312.7 190.78" stroke="#000000" stroke-width="1.8" fill="none" stroke-dasharray="3.4 1.2 2.2 1.2" stroke-dashoffset="1.7"/>
<path d="M29.2 58.97 L30.98 64.66 L32.77 70.11 L34.55 75.35 L36.33 80.36 L38.12 85.17 L39.9 89.78 L41.68 94.19 L43.46 98.42 L45.25 102.47 L47.03 106.35 L48.81 110.07 L50.6 113.62 L52.38 117.03 L54.16 120.29 L55.95 123.41 L57.73 126.39 L59.51 129.25 L61.29 131.98 L63.08 134.6 L64.86 137.1 L66.64 139.49 L68.43 141.78 L70.21 143.97 L71.99 146.06 L73.78 148.06 L75.56 149.98 L77.34 151.8 L79.12 153.55 L80.91 155.22 L82.69 156.82 L84.47 158.35 L86.26 159.81 L88.04 161.2 L89.82 162.54 L91.61 163.81 L93.39 165.03 L95.17 166.19 L96.95 167.3 L98.74 168.36 L100.52 169.38 L102.3 170.35 L104.09 171.27 L105.87 172.16 L107.65 173 L109.44 173.81 L111.22 174.56 L113 175.26 L114.78 175.94 L116.57 176.58 L118.35 177.2 L120.13 177.79 L121.92 178.35 L123.7 178.89 L125.48 179.41 L127.27 179.91 L129.05 180.38 L130.83 180.83 L132.62 181.27 L134.4 181.68 L136.18 182.08 L137.96 182.46 L139.75 182.82 L141.53 183.17 L143.31 183.5 L145.1 183.82 L146.88 184.13 L148.66 184.42 L150.45 184.7 L152.23 184.96 L154.01 185.22 L155.79 185.46 L157.58 185.7 L159.36 185.92 L161.14 186.14 L162.93 186.34 L164.71 186.54 L166.49 186.73 L168.28 186.91 L170.06 187.08 L171.84 187.24 L173.62 187.4 L175.41 187.55 L177.19 187.7 L178.97 187.83 L180.76 187.97 L182.54 188.09 L184.32 188.21 L186.11 188.33 L187.89 188.44 L189.67 188.55 L191.45 188.65 L193.24 188.74 L195.02 188.84 L196.8 188.93 L198.59 189.01 L200.37 189.09 L202.15 189.17 L203.94 189.24 L205.72 189.32 L207.5 189.38 L209.28 189.45 L211.07 189.51 L212.85 189.57 L214.63 189.63 L216.42 189.68 L218.2 189.74 L219.98 189.79 L221.77 189.83 L223.55 189.88 L225.33 189.92 L227.12 189.97 L228.9 190.01 L230.68 190.04 L232.46 190.08 L234.25 190.12 L236.03 190.15 L237.81 190.18 L239.6 190.21 L241.38 190.24 L243.16 190.27 L244.95 190.3 L246.73 190.32 L248.51 190.35 L250.29 190.37 L252.08 190.4 L253.86 190.42 L255.64 190.44 L257.43 190.46 L259.21 190.48 L260.99 190.5 L262.78 190.51 L264.56 190.53 L266.34 190.55 L268.12 190.56 L269.91 190.58 L271.69 190.59 L273.47 190.6 L275.26 190.62 L277.04 190.63 L278.82 190.64 L280.61 190.65 L282.39 190.66 L284.17 190.67 L285.95 190.68 L287.74 190.69 L289.52 190.7 L291.3 190.71 L293.09 190.72 L294.87 190.72 L296.65 190.73 L298.44 190.74 L300.22 190.75 L302 190.75 L303.78 190.76 L305.57 190.77 L307.35 190.77 L309.13 190.78 L310.92 190.78 L312.7 190.79" stroke="#000000" stroke-width="1.8" fill="none" stroke-dasharray="3.4 1.2 2.2 1.2" stroke-dashoffset="3.4"/>
<path d="M29.2 83.04 L30.98 87.46 L32.77 91.71 L34.55 95.78 L36.33 99.68 L38.12 103.43 L39.9 107.03 L41.68 110.48 L43.46 113.79 L45.25 116.97 L47.03 120.02 L48.81 122.94 L50.6 125.75 L52.38 128.44 L54.16 131.02 L55.95 133.5 L57.73 135.87 L59.51 138.15 L61.29 140.33 L63.08 142.42 L64.86 144.43 L66.64 146.36 L68.43 148.2 L70.21 149.97 L71.99 151.67 L73.78 153.3 L75.56 154.86 L77.34 156.35 L79.12 157.79 L80.91 159.16 L82.69 160.48 L84.47 161.74 L86.26 162.96 L88.04 164.12 L89.82 165.23 L91.61 166.3 L93.39 167.32 L95.17 168.3 L96.95 169.24 L98.74 170.14 L100.52 171.01 L102.3 171.83 L104.09 172.63 L105.87 173.39 L107.65 174.12 L109.44 174.82 L111.22 175.5 L113 176.16 L114.78 176.8 L116.57 177.4 L118.35 177.99 L120.13 178.54 L121.92 179.07 L123.7 179.58 L125.48 180.07 L127.27 180.54 L129.05 180.98 L130.83 181.41 L132.62 181.82 L134.4 182.21 L136.18 182.58 L137.96 182.94 L139.75 183.29 L141.53 183.61 L143.31 183.93 L145.1 184.23 L146.88 184.52 L148.66 184.79 L150.45 185.05 L152.23 185.31 L154.01 185.55 L155.79 185.78 L157.58 186 L159.36 186.21 L161.14 186.41 L162.93 186.6 L164.71 186.79 L166.49 186.97 L168.28 187.14 L170.06 187.3 L171.84 187.45 L173.62 187.6 L175.41 187.74 L177.19 187.88 L178.97 188.01 L180.76 188.13 L182.54 188.25 L184.32 188.37 L186.11 188.48 L187.89 188.58 L189.67 188.68 L191.45 188.78 L193.24 188.87 L195.02 188.96 L196.8 189.04 L198.59 189.12 L200.37 189.2 L202.15 189.27 L203.94 189.34 L205.72 189.41 L207.5 189.47 L209.28 189.53 L211.07 189.59 L212.85 189.65 L214.63 189.7 L216.42 189.75 L218.2 189.8 L219.98 189.85 L221.77 189.9 L223.55 189.94 L225.33 189.98 L227.12 190.02 L228.9 190.06 L230.68 190.09 L232.46 190.13 L234.25 190.16 L236.03 190.19 L237.81 190.22 L239.6 190.25 L241.38 190.28 L243.16 190.31 L244.95 190.33 L246.73 190.36 L248.51 190.38 L250.29 190.4 L252.08 190.42 L253.86 190.45 L255.64 190.46 L257.43 190.48 L259.21 190.5 L260.99 190.52 L262.78 190.53 L264.56 190.55 L266.34 190.57 L268.12 190.58 L269.91 190.59 L271.69 190.61 L273.47 190.62 L275.26 190.63 L277.04 190.64 L278.82 190.65 L280.61 190.66 L282.39 190.68 L284.17 190.68 L285.95 190.69 L287.74 190.7 L289.52 190.71 L291.3 190.72 L293.09 190.73 L294.87 190.73 L296.65 190.74 L298.44 190.75 L300.22 190.76 L302 190.76 L303.78 190.77 L305.57 190.77 L307.35 190.78 L309.13 190.78 L310.92 190.79 L312.7 190.79" stroke="#000000" stroke-width="1.8" fill="none" stroke-dasharray="3.4 1.2 2.2 1.2" stroke-dashoffset="5.1"/>
<path d="M29.2 109.05 L30.98 112.09 L32.77 115.02 L34.55 117.85 L36.33 120.57 L38.12 123.19 L39.9 125.72 L41.68 128.15 L43.46 130.5 L45.25 132.76 L47.03 134.93 L48.81 137.03 L50.6 139.05 L52.38 140.99 L54.16 142.86 L55.95 144.67 L57.73 146.4 L59.51 148.07 L61.29 149.68 L63.08 151.23 L64.86 152.72 L66.64 154.16 L68.43 155.54 L70.21 156.88 L71.99 158.16 L73.78 159.39 L75.56 160.58 L77.34 161.72 L79.12 162.82 L80.91 163.88 L82.69 164.9 L84.47 165.88 L86.26 166.83 L88.04 167.74 L89.82 168.61 L91.61 169.45 L93.39 170.26 L95.17 171.04 L96.95 171.79 L98.74 172.52 L100.52 173.21 L102.3 173.88 L104.09 174.52 L105.87 175.14 L107.65 175.74 L109.44 176.31 L111.22 176.91 L113 177.51 L114.78 178.09 L116.57 178.64 L118.35 179.17 L120.13 179.67 L121.92 180.16 L123.7 180.62 L125.48 181.06 L127.27 181.49 L129.05 181.89 L130.83 182.28 L132.62 182.65 L134.4 183.01 L136.18 183.35 L137.96 183.67 L139.75 183.98 L141.53 184.28 L143.31 184.57 L145.1 184.84 L146.88 185.1 L148.66 185.35 L150.45 185.59 L152.23 185.82 L154.01 186.04 L155.79 186.25 L157.58 186.45 L159.36 186.64 L161.14 186.82 L162.93 187 L164.71 187.17 L166.49 187.33 L168.28 187.48 L170.06 187.63 L171.84 187.77 L173.62 187.9 L175.41 188.03 L177.19 188.16 L178.97 188.27 L180.76 188.39 L182.54 188.5 L184.32 188.6 L186.11 188.7 L187.89 188.79 L189.67 188.88 L191.45 188.97 L193.24 189.05 L195.02 189.13 L196.8 189.21 L198.59 189.28 L200.37 189.35 L202.15 189.42 L203.94 189.48 L205.72 189.54 L207.5 189.6 L209.28 189.66 L211.07 189.71 L212.85 189.76 L214.63 189.81 L216.42 189.86 L218.2 189.9 L219.98 189.95 L221.77 189.99 L223.55 190.03 L225.33 190.06 L227.12 190.1 L228.9 190.13 L230.68 190.17 L232.46 190.2 L234.25 190.23 L236.03 190.26 L237.81 190.29 L239.6 190.31 L241.38 190.34 L243.16 190.36 L244.95 190.38 L246.73 190.41 L248.51 190.43 L250.29 190.45 L252.08 190.47 L253.86 190.49 L255.64 190.5 L257.43 190.52 L259.21 190.54 L260.99 190.55 L262.78 190.57 L264.56 190.58 L266.34 190.6 L268.12 190.61 L269.91 190.62 L271.69 190.63 L273.47 190.65 L275.26 190.66 L277.04 190.67 L278.82 190.68 L280.61 190.69 L282.39 190.7 L284.17 190.7 L285.95 190.71 L287.74 190.72 L289.52 190.73 L291.3 190.74 L293.09 190.74 L294.87 190.75 L296.65 190.76 L298.44 190.76 L300.22 190.77 L302 190.77 L303.78 190.78 L305.57 190.78 L307.35 190.79 L309.13 190.79 L310.92 190.8 L312.7 190.8" stroke="#000000" stroke-width="1.8" fill="none" stroke-dasharray="3.4 1.2 2.2 1.2" stroke-dashoffset="6.8"/>
<path d="M162.85 186.6 L165.39 186.86 L167.93 187.1 L170.47 187.33 L173.01 187.55 L175.55 187.75 L178.09 187.95 L180.63 188.13 L183.17 188.29 L185.71 188.45 L188.25 188.6 L190.79 188.74 L193.33 188.87 L195.87 189 L198.41 189.11 L200.95 189.22 L203.49 189.32 L206.03 189.42 L208.57 189.51 L211.11 189.59 L213.65 189.67 L216.19 189.75 L218.73 189.82 L221.27 189.88 L223.81 189.94 L226.35 190 L228.89 190.06 L231.43 190.11 L233.97 190.16 L236.51 190.2 L239.04 190.24 L241.58 190.28 L244.12 190.32 L246.66 190.36 L249.2 190.39 L251.74 190.42 L254.28 190.45 L256.82 190.48 L259.36 190.5 L261.9 190.53 L264.44 190.55 L266.98 190.57 L269.52 190.59 L272.06 190.61 L274.6 190.63 L277.14 190.64 L279.68 190.66 L282.22 190.67 L284.76 190.69 L287.3 190.7 L289.84 190.71 L292.38 190.72 L294.92 190.73 L297.46 190.74 L300 190.75 L302.54 190.76 L305.08 190.77 L307.62 190.78 L310.16 190.79 L312.7 190.79" stroke="#000" stroke-width="1.7" fill="none"/>
</g>
<g clip-path="url(#cB)">
<path d="M399.6 0 L401.38 6.58 L403.16 12.93 L404.94 19.06 L406.72 24.98 L408.51 30.69 L410.29 36.2 L412.07 41.52 L413.85 46.65 L415.63 51.61 L417.41 56.39 L419.19 61.01 L420.97 65.47 L422.75 69.77 L424.54 73.92 L426.32 77.93 L428.1 81.81 L429.88 85.54 L431.66 89.15 L433.44 92.64 L435.22 96 L437 99.25 L438.78 102.39 L440.57 105.41 L442.35 108.34 L444.13 111.16 L445.91 113.89 L447.69 116.52 L449.47 119.06 L451.25 121.52 L453.03 123.89 L454.82 126.18 L456.6 128.39 L458.38 130.52 L460.16 132.58 L461.94 134.58 L463.72 136.5 L465.5 138.35 L467.28 140.15 L469.06 141.88 L470.85 143.55 L472.63 145.17 L474.41 146.73 L476.19 148.23 L477.97 149.69 L479.75 151.09 L481.53 152.45 L483.31 153.76 L485.09 155.03 L486.88 156.25 L488.66 157.43 L490.44 158.57 L492.22 159.67 L494 160.74 L495.78 161.67 L497.56 162.57 L499.34 163.44 L501.12 164.29 L502.91 165.11 L504.69 165.91 L506.47 166.68 L508.25 167.42 L510.03 168.15 L511.81 168.85 L513.59 169.53 L515.37 170.19 L517.15 170.83 L518.94 171.45 L520.72 172.04 L522.5 172.63 L524.28 173.19 L526.06 173.74 L527.84 174.27 L529.62 174.78 L531.4 175.28 L533.18 175.76 L534.97 176.22 L536.75 176.68 L538.53 177.12 L540.31 177.54 L542.09 177.95 L543.87 178.35 L545.65 178.74 L547.43 179.11 L549.22 179.48 L551 179.83 L552.78 180.17 L554.56 180.5 L556.34 180.82 L558.12 181.13 L559.9 181.43 L561.68 181.73 L563.46 182.01 L565.25 182.28 L567.03 182.55 L568.81 182.81 L570.59 183.06 L572.37 183.3 L574.15 183.53 L575.93 183.76 L577.71 183.98 L579.49 184.19 L581.28 184.4 L583.06 184.6 L584.84 184.79 L586.62 184.98 L588.4 185.16 L590.18 185.34 L591.96 185.51 L593.74 185.68 L595.52 185.84 L597.31 186 L599.09 186.15 L600.87 186.29 L602.65 186.44 L604.43 186.57 L606.21 186.71 L607.99 186.84 L609.77 186.96 L611.55 187.08 L613.34 187.2 L615.12 187.31 L616.9 187.43 L618.68 187.53 L620.46 187.64 L622.24 187.74 L624.02 187.83 L625.8 187.93 L627.58 188.02 L629.37 188.11 L631.15 188.2 L632.93 188.28 L634.71 188.36 L636.49 188.44 L638.27 188.51 L640.05 188.59 L641.83 188.66 L643.62 188.73 L645.4 188.79 L647.18 188.86 L648.96 188.92 L650.74 188.98 L652.52 189.04 L654.3 189.1 L656.08 189.16 L657.86 189.21 L659.65 189.26 L661.43 189.31 L663.21 189.36 L664.99 189.41 L666.77 189.45 L668.55 189.5 L670.33 189.54 L672.11 189.58 L673.89 189.62 L675.68 189.66 L677.46 189.7 L679.24 189.74 L681.02 189.77 L682.8 189.81" stroke="#00ff00" stroke-width="1.45" fill="none"/>
<path d="M399.6 21 L401.38 26.85 L403.16 32.49 L404.94 37.92 L406.72 43.16 L408.51 48.2 L410.29 53.07 L412.07 57.76 L413.85 62.28 L415.63 66.64 L417.41 70.85 L419.19 74.9 L420.97 78.82 L422.75 82.59 L424.54 86.24 L426.32 89.75 L428.1 93.15 L429.88 96.42 L431.66 99.58 L433.44 102.63 L435.22 105.58 L437 108.43 L438.78 111.17 L440.57 113.83 L442.35 116.39 L444.13 118.86 L445.91 121.25 L447.69 123.56 L449.47 125.79 L451.25 127.94 L453.03 130.03 L454.82 132.04 L456.6 133.98 L458.38 135.86 L460.16 137.67 L461.94 139.43 L463.72 141.12 L465.5 142.76 L467.28 144.34 L469.06 145.87 L470.85 147.35 L472.63 148.78 L474.41 150.16 L476.19 151.5 L477.97 152.79 L479.75 154.04 L481.53 155.24 L483.31 156.41 L485.09 157.54 L486.88 158.63 L488.66 159.69 L490.44 160.71 L492.22 161.69 L494 162.65 L495.78 163.52 L497.56 164.36 L499.34 165.18 L501.12 165.97 L502.91 166.74 L504.69 167.49 L506.47 168.21 L508.25 168.91 L510.03 169.59 L511.81 170.24 L513.59 170.88 L515.37 171.5 L517.15 172.1 L518.94 172.68 L520.72 173.24 L522.5 173.78 L524.28 174.31 L526.06 174.82 L527.84 175.32 L529.62 175.8 L531.4 176.26 L533.18 176.72 L534.97 177.15 L536.75 177.58 L538.53 177.99 L540.31 178.39 L542.09 178.77 L543.87 179.15 L545.65 179.51 L547.43 179.86 L549.22 180.2 L551 180.53 L552.78 180.85 L554.56 181.16 L556.34 181.46 L558.12 181.75 L559.9 182.03 L561.68 182.31 L563.46 182.57 L565.25 182.83 L567.03 183.08 L568.81 183.32 L570.59 183.55 L572.37 183.78 L574.15 184 L575.93 184.21 L577.71 184.42 L579.49 184.62 L581.28 184.81 L583.06 185 L584.84 185.18 L586.62 185.36 L588.4 185.53 L590.18 185.69 L591.96 185.85 L593.74 186.01 L595.52 186.16 L597.31 186.31 L599.09 186.45 L600.87 186.59 L602.65 186.72 L604.43 186.85 L606.21 186.97 L607.99 187.09 L609.77 187.21 L611.55 187.32 L613.34 187.43 L615.12 187.54 L616.9 187.65 L618.68 187.75 L620.46 187.84 L622.24 187.94 L624.02 188.03 L625.8 188.12 L627.58 188.2 L629.37 188.29 L631.15 188.37 L632.93 188.44 L634.71 188.52 L636.49 188.59 L638.27 188.67 L640.05 188.73 L641.83 188.8 L643.62 188.87 L645.4 188.93 L647.18 188.99 L648.96 189.05 L650.74 189.11 L652.52 189.16 L654.3 189.21 L656.08 189.27 L657.86 189.32 L659.65 189.37 L661.43 189.41 L663.21 189.46 L664.99 189.5 L666.77 189.55 L668.55 189.59 L670.33 189.63 L672.11 189.67 L673.89 189.71 L675.68 189.74 L677.46 189.78 L679.24 189.81 L681.02 189.85 L682.8 189.88" stroke="#00ff00" stroke-width="1.45" fill="none"/>
<path d="M399.6 42 L401.38 47.12 L403.16 52.05 L404.94 56.78 L406.72 61.34 L408.51 65.73 L410.29 69.95 L412.07 74.01 L413.85 77.92 L415.63 81.69 L417.41 85.32 L419.19 88.82 L420.97 92.19 L422.75 95.45 L424.54 98.58 L426.32 101.6 L428.1 104.52 L429.88 107.34 L431.66 110.05 L433.44 112.67 L435.22 115.2 L437 117.65 L438.78 120 L440.57 122.28 L442.35 124.48 L444.13 126.61 L445.91 128.66 L447.69 130.65 L449.47 132.56 L451.25 134.42 L453.03 136.21 L454.82 137.94 L456.6 139.62 L458.38 141.24 L460.16 142.8 L461.94 144.32 L463.72 145.78 L465.5 147.2 L467.28 148.57 L469.06 149.9 L470.85 151.18 L472.63 152.42 L474.41 153.62 L476.19 154.79 L477.97 155.91 L479.75 157 L481.53 158.06 L483.31 159.08 L485.09 160.07 L486.88 161.02 L488.66 161.95 L490.44 162.85 L492.22 163.71 L494 164.56 L495.78 165.37 L497.56 166.16 L499.34 166.92 L501.12 167.66 L502.91 168.37 L504.69 169.07 L506.47 169.74 L508.25 170.39 L510.03 171.03 L511.81 171.64 L513.59 172.23 L515.37 172.81 L517.15 173.37 L518.94 173.91 L520.72 174.43 L522.5 174.94 L524.28 175.43 L526.06 175.91 L527.84 176.37 L529.62 176.82 L531.4 177.25 L533.18 177.67 L534.97 178.08 L536.75 178.48 L538.53 178.86 L540.31 179.23 L542.09 179.59 L543.87 179.94 L545.65 180.28 L547.43 180.61 L549.22 180.92 L551 181.23 L552.78 181.53 L554.56 181.82 L556.34 182.1 L558.12 182.37 L559.9 182.63 L561.68 182.89 L563.46 183.13 L565.25 183.37 L567.03 183.61 L568.81 183.83 L570.59 184.05 L572.37 184.26 L574.15 184.46 L575.93 184.66 L577.71 184.86 L579.49 185.04 L581.28 185.22 L583.06 185.4 L584.84 185.57 L586.62 185.73 L588.4 185.89 L590.18 186.05 L591.96 186.2 L593.74 186.34 L595.52 186.48 L597.31 186.62 L599.09 186.75 L600.87 186.88 L602.65 187 L604.43 187.12 L606.21 187.24 L607.99 187.35 L609.77 187.46 L611.55 187.57 L613.34 187.67 L615.12 187.77 L616.9 187.87 L618.68 187.96 L620.46 188.05 L622.24 188.14 L624.02 188.22 L625.8 188.31 L627.58 188.39 L629.37 188.46 L631.15 188.54 L632.93 188.61 L634.71 188.68 L636.49 188.75 L638.27 188.82 L640.05 188.88 L641.83 188.94 L643.62 189 L645.4 189.06 L647.18 189.12 L648.96 189.17 L650.74 189.23 L652.52 189.28 L654.3 189.33 L656.08 189.38 L657.86 189.42 L659.65 189.47 L661.43 189.51 L663.21 189.56 L664.99 189.6 L666.77 189.64 L668.55 189.68 L670.33 189.71 L672.11 189.75 L673.89 189.79 L675.68 189.82 L677.46 189.85 L679.24 189.89 L681.02 189.92 L682.8 189.95" stroke="#00ff00" stroke-width="1.45" fill="none"/>
<path d="M399.6 71.59 L401.38 75.77 L403.16 79.76 L404.94 83.57 L406.72 87.22 L408.51 90.72 L410.29 94.06 L412.07 97.26 L413.85 100.33 L415.63 103.28 L417.41 106.1 L419.19 108.82 L420.97 111.42 L422.75 113.93 L424.54 116.33 L426.32 118.65 L428.1 120.88 L429.88 123.03 L431.66 125.09 L433.44 127.08 L435.22 129 L437 130.86 L438.78 132.64 L440.57 134.36 L442.35 136.03 L444.13 137.63 L445.91 139.18 L447.69 140.68 L449.47 142.13 L451.25 143.53 L453.03 144.89 L454.82 146.2 L456.6 147.46 L458.38 148.69 L460.16 149.88 L461.94 151.03 L463.72 152.14 L465.5 153.22 L467.28 154.27 L469.06 155.28 L470.85 156.26 L472.63 157.21 L474.41 158.14 L476.19 159.03 L477.97 159.9 L479.75 160.74 L481.53 161.56 L483.31 162.36 L485.09 163.13 L486.88 163.87 L488.66 164.6 L490.44 165.31 L492.22 165.99 L494 166.66 L495.78 167.4 L497.56 168.13 L499.34 168.83 L501.12 169.51 L502.91 170.17 L504.69 170.81 L506.47 171.43 L508.25 172.03 L510.03 172.61 L511.81 173.18 L513.59 173.72 L515.37 174.25 L517.15 174.76 L518.94 175.26 L520.72 175.74 L522.5 176.21 L524.28 176.66 L526.06 177.1 L527.84 177.53 L529.62 177.94 L531.4 178.34 L533.18 178.73 L534.97 179.1 L536.75 179.47 L538.53 179.82 L540.31 180.16 L542.09 180.49 L543.87 180.81 L545.65 181.12 L547.43 181.43 L549.22 181.72 L551 182 L552.78 182.28 L554.56 182.54 L556.34 182.8 L558.12 183.05 L559.9 183.29 L561.68 183.53 L563.46 183.75 L565.25 183.97 L567.03 184.19 L568.81 184.39 L570.59 184.59 L572.37 184.79 L574.15 184.98 L575.93 185.16 L577.71 185.34 L579.49 185.51 L581.28 185.67 L583.06 185.84 L584.84 185.99 L586.62 186.14 L588.4 186.29 L590.18 186.43 L591.96 186.57 L593.74 186.7 L595.52 186.83 L597.31 186.96 L599.09 187.08 L600.87 187.2 L602.65 187.31 L604.43 187.42 L606.21 187.53 L607.99 187.63 L609.77 187.73 L611.55 187.83 L613.34 187.93 L615.12 188.02 L616.9 188.11 L618.68 188.19 L620.46 188.28 L622.24 188.36 L624.02 188.44 L625.8 188.51 L627.58 188.59 L629.37 188.66 L631.15 188.73 L632.93 188.79 L634.71 188.86 L636.49 188.92 L638.27 188.98 L640.05 189.04 L641.83 189.1 L643.62 189.15 L645.4 189.21 L647.18 189.26 L648.96 189.31 L650.74 189.36 L652.52 189.41 L654.3 189.45 L656.08 189.5 L657.86 189.54 L659.65 189.58 L661.43 189.62 L663.21 189.66 L664.99 189.7 L666.77 189.74 L668.55 189.77 L670.33 189.81 L672.11 189.84 L673.89 189.87 L675.68 189.91 L677.46 189.94 L679.24 189.97 L681.02 190 L682.8 190.02" stroke="#00ff00" stroke-width="1.45" fill="none"/>
<path d="M399.6 101.18 L401.38 104.43 L403.16 107.55 L404.94 110.55 L406.72 113.43 L408.51 116.19 L410.29 118.85 L412.07 121.41 L413.85 123.87 L415.63 126.23 L417.41 128.51 L419.19 130.69 L420.97 132.8 L422.75 134.83 L424.54 136.78 L426.32 138.66 L428.1 140.47 L429.88 142.21 L431.66 143.89 L433.44 145.5 L435.22 147.06 L437 148.56 L438.78 150.01 L440.57 151.41 L442.35 152.75 L444.13 154.05 L445.91 155.3 L447.69 156.51 L449.47 157.68 L451.25 158.8 L453.03 159.88 L454.82 160.93 L456.6 161.94 L458.38 162.91 L460.16 163.85 L461.94 164.76 L463.72 165.64 L465.5 166.48 L467.28 167.3 L469.06 168.09 L470.85 168.85 L472.63 169.58 L474.41 170.29 L476.19 170.98 L477.97 171.64 L479.75 172.28 L481.53 172.9 L483.31 173.5 L485.09 174.07 L486.88 174.63 L488.66 175.17 L490.44 175.69 L492.22 176.19 L494 176.68 L495.78 177.2 L497.56 177.71 L499.34 178.2 L501.12 178.67 L502.91 179.12 L504.69 179.56 L506.47 179.98 L508.25 180.38 L510.03 180.77 L511.81 181.15 L513.59 181.51 L515.37 181.86 L517.15 182.19 L518.94 182.51 L520.72 182.83 L522.5 183.12 L524.28 183.41 L526.06 183.69 L527.84 183.96 L529.62 184.21 L531.4 184.46 L533.18 184.7 L534.97 184.93 L536.75 185.15 L538.53 185.36 L540.31 185.57 L542.09 185.77 L543.87 185.96 L545.65 186.14 L547.43 186.32 L549.22 186.49 L551 186.65 L552.78 186.81 L554.56 186.96 L556.34 187.1 L558.12 187.24 L559.9 187.38 L561.68 187.51 L563.46 187.64 L565.25 187.76 L567.03 187.87 L568.81 187.98 L570.59 188.09 L572.37 188.2 L574.15 188.3 L575.93 188.39 L577.71 188.49 L579.49 188.58 L581.28 188.66 L583.06 188.74 L584.84 188.82 L586.62 188.9 L588.4 188.98 L590.18 189.05 L591.96 189.12 L593.74 189.18 L595.52 189.24 L597.31 189.31 L599.09 189.37 L600.87 189.42 L602.65 189.48 L604.43 189.53 L606.21 189.58 L607.99 189.63 L609.77 189.68 L611.55 189.72 L613.34 189.77 L615.12 189.81 L616.9 189.85 L618.68 189.89 L620.46 189.92 L622.24 189.96 L624.02 190 L625.8 190.03 L627.58 190.06 L629.37 190.09 L631.15 190.12 L632.93 190.15 L634.71 190.18 L636.49 190.21 L638.27 190.23 L640.05 190.26 L641.83 190.28 L643.62 190.3 L645.4 190.32 L647.18 190.35 L648.96 190.37 L650.74 190.39 L652.52 190.41 L654.3 190.42 L656.08 190.44 L657.86 190.46 L659.65 190.47 L661.43 190.49 L663.21 190.51 L664.99 190.52 L666.77 190.53 L668.55 190.55 L670.33 190.56 L672.11 190.57 L673.89 190.59 L675.68 190.6 L677.46 190.61 L679.24 190.62 L681.02 190.63 L682.8 190.64" stroke="#00ff00" stroke-width="1.45" fill="none"/>
<path d="M399.6 7.64 L401.38 14.11 L403.16 20.38 L404.94 26.47 L406.72 32.36 L408.51 38.08 L410.29 43.61 L412.07 48.96 L413.85 54.14 L415.63 59.15 L417.41 64 L419.19 68.69 L420.97 73.21 L422.75 77.59 L424.54 81.82 L426.32 85.9 L428.1 89.84 L429.88 93.64 L431.66 97.31 L433.44 100.85 L435.22 104.27 L437 107.56 L438.78 110.74 L440.57 113.8 L442.35 116.75 L444.13 119.6 L445.91 122.34 L447.69 124.98 L449.47 127.52 L451.25 129.97 L453.03 132.33 L454.82 134.6 L456.6 136.79 L458.38 138.89 L460.16 140.92 L461.94 142.87 L463.72 144.74 L465.5 146.55 L467.28 148.29 L469.06 149.96 L470.85 151.56 L472.63 153.11 L474.41 154.6 L476.19 156.03 L477.97 157.4 L479.75 158.72 L481.53 159.99 L483.31 161.21 L485.09 162.39 L486.88 163.52 L488.66 164.6 L490.44 165.65 L492.22 166.65 L494 167.61 L495.78 168.51 L497.56 169.38 L499.34 170.22 L501.12 171.02 L502.91 171.8 L504.69 172.54 L506.47 173.25 L508.25 173.94 L510.03 174.6 L511.81 175.23 L513.59 175.84 L515.37 176.42 L517.15 176.99 L518.94 177.53 L520.72 178.05 L522.5 178.55 L524.28 179.03 L526.06 179.49 L527.84 179.93 L529.62 180.36 L531.4 180.77 L533.18 181.16 L534.97 181.54 L536.75 181.9 L538.53 182.25 L540.31 182.59 L542.09 182.91 L543.87 183.22 L545.65 183.52 L547.43 183.81 L549.22 184.08 L551 184.35 L552.78 184.6 L554.56 184.85 L556.34 185.08 L558.12 185.31 L559.9 185.52 L561.68 185.73 L563.46 185.93 L565.25 186.13 L567.03 186.31 L568.81 186.49 L570.59 186.66 L572.37 186.83 L574.15 186.98 L575.93 187.14 L577.71 187.28 L579.49 187.42 L581.28 187.56 L583.06 187.69 L584.84 187.81 L586.62 187.93 L588.4 188.05 L590.18 188.16 L591.96 188.27 L593.74 188.37 L595.52 188.47 L597.31 188.56 L599.09 188.65 L600.87 188.74 L602.65 188.82 L604.43 188.9 L606.21 188.98 L607.99 189.06 L609.77 189.13 L611.55 189.2 L613.34 189.26 L615.12 189.33 L616.9 189.39 L618.68 189.45 L620.46 189.5 L622.24 189.56 L624.02 189.61 L625.8 189.66 L627.58 189.71 L629.37 189.75 L631.15 189.8 L632.93 189.84 L634.71 189.88 L636.49 189.92 L638.27 189.96 L640.05 190 L641.83 190.03 L643.62 190.06 L645.4 190.1 L647.18 190.13 L648.96 190.16 L650.74 190.19 L652.52 190.22 L654.3 190.24 L656.08 190.27 L657.86 190.29 L659.65 190.32 L661.43 190.34 L663.21 190.36 L664.99 190.38 L666.77 190.4 L668.55 190.42 L670.33 190.44 L672.11 190.46 L673.89 190.47 L675.68 190.49 L677.46 190.51 L679.24 190.52 L681.02 190.54 L682.8 190.55" stroke="#ff0000" stroke-width="1.9" fill="none" stroke-dasharray="4.4 4.3" stroke-dashoffset="6.46"/>
<path d="M399.6 26.73 L401.38 32.58 L403.16 38.24 L404.94 43.72 L406.72 49.03 L408.51 54.16 L410.29 59.11 L412.07 63.91 L413.85 68.54 L415.63 73.02 L417.41 77.34 L419.19 81.52 L420.97 85.55 L422.75 89.44 L424.54 93.2 L426.32 96.82 L428.1 100.32 L429.88 103.7 L431.66 106.96 L433.44 110.1 L435.22 113.12 L437 116.04 L438.78 118.86 L440.57 121.57 L442.35 124.19 L444.13 126.71 L445.91 129.14 L447.69 131.48 L449.47 133.73 L451.25 135.9 L453.03 137.99 L454.82 140.01 L456.6 141.95 L458.38 143.82 L460.16 145.61 L461.94 147.35 L463.72 149.01 L465.5 150.62 L467.28 152.16 L469.06 153.65 L470.85 155.08 L472.63 156.46 L474.41 157.78 L476.19 159.06 L477.97 160.28 L479.75 161.46 L481.53 162.6 L483.31 163.69 L485.09 164.74 L486.88 165.75 L488.66 166.72 L490.44 167.66 L492.22 168.56 L494 169.42 L495.78 170.26 L497.56 171.06 L499.34 171.83 L501.12 172.57 L502.91 173.28 L504.69 173.97 L506.47 174.63 L508.25 175.26 L510.03 175.87 L511.81 176.45 L513.59 177.01 L515.37 177.55 L517.15 178.07 L518.94 178.57 L520.72 179.05 L522.5 179.51 L524.28 179.95 L526.06 180.38 L527.84 180.78 L529.62 181.18 L531.4 181.55 L533.18 181.92 L534.97 182.27 L536.75 182.6 L538.53 182.92 L540.31 183.23 L542.09 183.53 L543.87 183.82 L545.65 184.09 L547.43 184.36 L549.22 184.61 L551 184.86 L552.78 185.09 L554.56 185.32 L556.34 185.53 L558.12 185.74 L559.9 185.94 L561.68 186.14 L563.46 186.32 L565.25 186.5 L567.03 186.67 L568.81 186.83 L570.59 186.99 L572.37 187.14 L574.15 187.29 L575.93 187.43 L577.71 187.56 L579.49 187.69 L581.28 187.82 L583.06 187.94 L584.84 188.05 L586.62 188.16 L588.4 188.27 L590.18 188.37 L591.96 188.47 L593.74 188.56 L595.52 188.66 L597.31 188.74 L599.09 188.83 L600.87 188.91 L602.65 188.98 L604.43 189.06 L606.21 189.13 L607.99 189.2 L609.77 189.27 L611.55 189.33 L613.34 189.39 L615.12 189.45 L616.9 189.5 L618.68 189.56 L620.46 189.61 L622.24 189.66 L624.02 189.71 L625.8 189.76 L627.58 189.8 L629.37 189.84 L631.15 189.88 L632.93 189.92 L634.71 189.96 L636.49 190 L638.27 190.03 L640.05 190.07 L641.83 190.1 L643.62 190.13 L645.4 190.16 L647.18 190.19 L648.96 190.22 L650.74 190.24 L652.52 190.27 L654.3 190.29 L656.08 190.32 L657.86 190.34 L659.65 190.36 L661.43 190.38 L663.21 190.4 L664.99 190.42 L666.77 190.44 L668.55 190.46 L670.33 190.48 L672.11 190.49 L673.89 190.51 L675.68 190.52 L677.46 190.54 L679.24 190.55 L681.02 190.56 L682.8 190.58" stroke="#ff0000" stroke-width="1.9" fill="none" stroke-dasharray="4.4 4.3" stroke-dashoffset="0.33"/>
<path d="M399.6 50.21 L401.38 55.21 L403.16 60.03 L404.94 64.68 L406.72 69.16 L408.51 73.49 L410.29 77.65 L412.07 81.66 L413.85 85.54 L415.63 89.27 L417.41 92.87 L419.19 96.34 L420.97 99.68 L422.75 102.91 L424.54 106.02 L426.32 109.02 L428.1 111.91 L429.88 114.7 L431.66 117.39 L433.44 119.98 L435.22 122.48 L437 124.9 L438.78 127.22 L440.57 129.47 L442.35 131.63 L444.13 133.72 L445.91 135.74 L447.69 137.68 L449.47 139.55 L451.25 141.36 L453.03 143.1 L454.82 144.79 L456.6 146.41 L458.38 147.97 L460.16 149.48 L461.94 150.94 L463.72 152.34 L465.5 153.7 L467.28 155.01 L469.06 156.27 L470.85 157.48 L472.63 158.66 L474.41 159.79 L476.19 160.88 L477.97 161.94 L479.75 162.95 L481.53 163.93 L483.31 164.88 L485.09 165.79 L486.88 166.68 L488.66 167.53 L490.44 168.35 L492.22 169.14 L494 169.9 L495.78 170.72 L497.56 171.5 L499.34 172.25 L501.12 172.98 L502.91 173.68 L504.69 174.34 L506.47 174.99 L508.25 175.61 L510.03 176.2 L511.81 176.77 L513.59 177.32 L515.37 177.85 L517.15 178.35 L518.94 178.84 L520.72 179.31 L522.5 179.76 L524.28 180.19 L526.06 180.61 L527.84 181.01 L529.62 181.39 L531.4 181.76 L533.18 182.12 L534.97 182.46 L536.75 182.79 L538.53 183.1 L540.31 183.4 L542.09 183.7 L543.87 183.98 L545.65 184.24 L547.43 184.5 L549.22 184.75 L551 184.99 L552.78 185.22 L554.56 185.44 L556.34 185.65 L558.12 185.86 L559.9 186.05 L561.68 186.24 L563.46 186.42 L565.25 186.6 L567.03 186.76 L568.81 186.92 L570.59 187.08 L572.37 187.23 L574.15 187.37 L575.93 187.51 L577.71 187.64 L579.49 187.77 L581.28 187.89 L583.06 188 L584.84 188.12 L586.62 188.22 L588.4 188.33 L590.18 188.43 L591.96 188.52 L593.74 188.62 L595.52 188.71 L597.31 188.79 L599.09 188.87 L600.87 188.95 L602.65 189.03 L604.43 189.1 L606.21 189.17 L607.99 189.24 L609.77 189.3 L611.55 189.36 L613.34 189.42 L615.12 189.48 L616.9 189.54 L618.68 189.59 L620.46 189.64 L622.24 189.69 L624.02 189.74 L625.8 189.78 L627.58 189.82 L629.37 189.87 L631.15 189.91 L632.93 189.95 L634.71 189.98 L636.49 190.02 L638.27 190.05 L640.05 190.09 L641.83 190.12 L643.62 190.15 L645.4 190.18 L647.18 190.2 L648.96 190.23 L650.74 190.26 L652.52 190.28 L654.3 190.31 L656.08 190.33 L657.86 190.35 L659.65 190.37 L661.43 190.39 L663.21 190.41 L664.99 190.43 L666.77 190.45 L668.55 190.47 L670.33 190.48 L672.11 190.5 L673.89 190.52 L675.68 190.53 L677.46 190.55 L679.24 190.56 L681.02 190.57 L682.8 190.59" stroke="#ff0000" stroke-width="1.9" fill="none" stroke-dasharray="4.4 4.3" stroke-dashoffset="7.43"/>
<path d="M399.6 76.36 L401.38 80.38 L403.16 84.24 L404.94 87.94 L406.72 91.49 L408.51 94.9 L410.29 98.18 L412.07 101.33 L413.85 104.35 L415.63 107.26 L417.41 110.06 L419.19 112.75 L420.97 115.35 L422.75 117.84 L424.54 120.25 L426.32 122.56 L428.1 124.79 L429.88 126.94 L431.66 129.02 L433.44 131.01 L435.22 132.94 L437 134.8 L438.78 136.6 L440.57 138.33 L442.35 140 L444.13 141.62 L445.91 143.17 L447.69 144.68 L449.47 146.13 L451.25 147.54 L453.03 148.9 L454.82 150.21 L456.6 151.48 L458.38 152.71 L460.16 153.89 L461.94 155.04 L463.72 156.15 L465.5 157.22 L467.28 158.26 L469.06 159.26 L470.85 160.23 L472.63 161.18 L474.41 162.09 L476.19 162.97 L477.97 163.82 L479.75 164.65 L481.53 165.44 L483.31 166.22 L485.09 166.97 L486.88 167.69 L488.66 168.4 L490.44 169.08 L492.22 169.74 L494 170.38 L495.78 171.18 L497.56 171.94 L499.34 172.68 L501.12 173.39 L502.91 174.07 L504.69 174.72 L506.47 175.35 L508.25 175.95 L510.03 176.53 L511.81 177.09 L513.59 177.63 L515.37 178.14 L517.15 178.64 L518.94 179.12 L520.72 179.57 L522.5 180.01 L524.28 180.44 L526.06 180.84 L527.84 181.23 L529.62 181.61 L531.4 181.97 L533.18 182.32 L534.97 182.65 L536.75 182.97 L538.53 183.28 L540.31 183.57 L542.09 183.86 L543.87 184.13 L545.65 184.4 L547.43 184.65 L549.22 184.89 L551 185.12 L552.78 185.35 L554.56 185.56 L556.34 185.77 L558.12 185.97 L559.9 186.16 L561.68 186.35 L563.46 186.52 L565.25 186.69 L567.03 186.86 L568.81 187.01 L570.59 187.17 L572.37 187.31 L574.15 187.45 L575.93 187.58 L577.71 187.71 L579.49 187.84 L581.28 187.96 L583.06 188.07 L584.84 188.18 L586.62 188.29 L588.4 188.39 L590.18 188.48 L591.96 188.58 L593.74 188.67 L595.52 188.76 L597.31 188.84 L599.09 188.92 L600.87 189 L602.65 189.07 L604.43 189.14 L606.21 189.21 L607.99 189.27 L609.77 189.34 L611.55 189.4 L613.34 189.46 L615.12 189.51 L616.9 189.57 L618.68 189.62 L620.46 189.67 L622.24 189.72 L624.02 189.76 L625.8 189.81 L627.58 189.85 L629.37 189.89 L631.15 189.93 L632.93 189.97 L634.71 190 L636.49 190.04 L638.27 190.07 L640.05 190.1 L641.83 190.13 L643.62 190.16 L645.4 190.19 L647.18 190.22 L648.96 190.25 L650.74 190.27 L652.52 190.3 L654.3 190.32 L656.08 190.34 L657.86 190.36 L659.65 190.38 L661.43 190.4 L663.21 190.42 L664.99 190.44 L666.77 190.46 L668.55 190.48 L670.33 190.49 L672.11 190.51 L673.89 190.52 L675.68 190.54 L677.46 190.55 L679.24 190.57 L681.02 190.58 L682.8 190.59" stroke="#ff0000" stroke-width="1.9" fill="none" stroke-dasharray="4.4 4.3" stroke-dashoffset="4.98"/>
<path d="M399.6 105 L401.38 107.92 L403.16 110.75 L404.94 113.47 L406.72 116.1 L408.51 118.64 L410.29 121.09 L412.07 123.45 L413.85 125.73 L415.63 127.93 L417.41 130.05 L419.19 132.1 L420.97 134.08 L422.75 135.99 L424.54 137.83 L426.32 139.62 L428.1 141.34 L429.88 143 L431.66 144.6 L433.44 146.15 L435.22 147.64 L437 149.09 L438.78 150.48 L440.57 151.83 L442.35 153.14 L444.13 154.39 L445.91 155.61 L447.69 156.78 L449.47 157.92 L451.25 159.01 L453.03 160.07 L454.82 161.1 L456.6 162.09 L458.38 163.04 L460.16 163.97 L461.94 164.86 L463.72 165.72 L465.5 166.56 L467.28 167.36 L469.06 168.14 L470.85 168.89 L472.63 169.62 L474.41 170.33 L476.19 171.01 L477.97 171.66 L479.75 172.3 L481.53 172.91 L483.31 173.51 L485.09 174.08 L486.88 174.64 L488.66 175.17 L490.44 175.69 L492.22 176.19 L494 176.68 L495.78 177.2 L497.56 177.71 L499.34 178.2 L501.12 178.67 L502.91 179.12 L504.69 179.56 L506.47 179.98 L508.25 180.38 L510.03 180.77 L511.81 181.15 L513.59 181.51 L515.37 181.86 L517.15 182.19 L518.94 182.51 L520.72 182.83 L522.5 183.12 L524.28 183.41 L526.06 183.69 L527.84 183.96 L529.62 184.21 L531.4 184.46 L533.18 184.7 L534.97 184.93 L536.75 185.15 L538.53 185.36 L540.31 185.57 L542.09 185.77 L543.87 185.96 L545.65 186.14 L547.43 186.32 L549.22 186.49 L551 186.65 L552.78 186.81 L554.56 186.96 L556.34 187.1 L558.12 187.24 L559.9 187.38 L561.68 187.51 L563.46 187.64 L565.25 187.76 L567.03 187.87 L568.81 187.98 L570.59 188.09 L572.37 188.2 L574.15 188.3 L575.93 188.39 L577.71 188.49 L579.49 188.58 L581.28 188.66 L583.06 188.74 L584.84 188.82 L586.62 188.9 L588.4 188.98 L590.18 189.05 L591.96 189.12 L593.74 189.18 L595.52 189.24 L597.31 189.31 L599.09 189.37 L600.87 189.42 L602.65 189.48 L604.43 189.53 L606.21 189.58 L607.99 189.63 L609.77 189.68 L611.55 189.72 L613.34 189.77 L615.12 189.81 L616.9 189.85 L618.68 189.89 L620.46 189.92 L622.24 189.96 L624.02 190 L625.8 190.03 L627.58 190.06 L629.37 190.09 L631.15 190.12 L632.93 190.15 L634.71 190.18 L636.49 190.21 L638.27 190.23 L640.05 190.26 L641.83 190.28 L643.62 190.3 L645.4 190.32 L647.18 190.35 L648.96 190.37 L650.74 190.39 L652.52 190.41 L654.3 190.42 L656.08 190.44 L657.86 190.46 L659.65 190.47 L661.43 190.49 L663.21 190.51 L664.99 190.52 L666.77 190.53 L668.55 190.55 L670.33 190.56 L672.11 190.57 L673.89 190.59 L675.68 190.6 L677.46 190.61 L679.24 190.62 L681.02 190.63 L682.8 190.64" stroke="#ff0000" stroke-width="1.9" fill="none" stroke-dasharray="4.4 4.3" stroke-dashoffset="6.15"/>
<path d="M399.6 24.82 L401.38 30.99 L403.16 36.96 L404.94 42.75 L406.72 48.35 L408.51 53.77 L410.29 59 L412.07 64.07 L413.85 68.96 L415.63 73.68 L417.41 78.24 L419.19 82.64 L420.97 86.89 L422.75 90.98 L424.54 94.93 L426.32 98.73 L428.1 102.4 L429.88 105.93 L431.66 109.33 L433.44 112.61 L435.22 115.76 L437 118.79 L438.78 121.71 L440.57 124.52 L442.35 127.22 L444.13 129.81 L445.91 132.31 L447.69 134.71 L449.47 137.01 L451.25 139.23 L453.03 141.36 L454.82 143.4 L456.6 145.36 L458.38 147.25 L460.16 149.06 L461.94 150.8 L463.72 152.47 L465.5 154.07 L467.28 155.6 L469.06 157.08 L470.85 158.49 L472.63 159.85 L474.41 161.15 L476.19 162.4 L477.97 163.6 L479.75 164.75 L481.53 165.85 L483.31 166.9 L485.09 167.92 L486.88 168.89 L488.66 169.82 L490.44 170.71 L492.22 171.56 L494 172.38 L495.78 173.07 L497.56 173.73 L499.34 174.36 L501.12 174.98 L502.91 175.57 L504.69 176.13 L506.47 176.68 L508.25 177.21 L510.03 177.71 L511.81 178.2 L513.59 178.67 L515.37 179.13 L517.15 179.56 L518.94 179.98 L520.72 180.39 L522.5 180.78 L524.28 181.15 L526.06 181.51 L527.84 181.86 L529.62 182.19 L531.4 182.52 L533.18 182.83 L534.97 183.13 L536.75 183.41 L538.53 183.69 L540.31 183.96 L542.09 184.22 L543.87 184.46 L545.65 184.7 L547.43 184.93 L549.22 185.15 L551 185.36 L552.78 185.57 L554.56 185.77 L556.34 185.96 L558.12 186.14 L559.9 186.32 L561.68 186.49 L563.46 186.65 L565.25 186.81 L567.03 186.96 L568.81 187.1 L570.59 187.25 L572.37 187.38 L574.15 187.51 L575.93 187.64 L577.71 187.76 L579.49 187.87 L581.28 187.99 L583.06 188.09 L584.84 188.2 L586.62 188.3 L588.4 188.39 L590.18 188.49 L591.96 188.58 L593.74 188.66 L595.52 188.75 L597.31 188.82 L599.09 188.9 L600.87 188.98 L602.65 189.05 L604.43 189.12 L606.21 189.18 L607.99 189.25 L609.77 189.31 L611.55 189.37 L613.34 189.42 L615.12 189.48 L616.9 189.53 L618.68 189.58 L620.46 189.63 L622.24 189.68 L624.02 189.72 L625.8 189.77 L627.58 189.81 L629.37 189.85 L631.15 189.89 L632.93 189.92 L634.71 189.96 L636.49 190 L638.27 190.03 L640.05 190.06 L641.83 190.09 L643.62 190.12 L645.4 190.15 L647.18 190.18 L648.96 190.21 L650.74 190.23 L652.52 190.26 L654.3 190.28 L656.08 190.3 L657.86 190.32 L659.65 190.35 L661.43 190.37 L663.21 190.39 L664.99 190.41 L666.77 190.42 L668.55 190.44 L670.33 190.46 L672.11 190.47 L673.89 190.49 L675.68 190.51 L677.46 190.52 L679.24 190.53 L681.02 190.55 L682.8 190.56" stroke="#000000" stroke-width="1.8" fill="none" stroke-dasharray="3.4 1.2 2.2 1.2" stroke-dashoffset="0"/>
<path d="M399.6 42 L401.38 47.52 L403.16 52.87 L404.94 58.04 L406.72 63.03 L408.51 67.85 L410.29 72.51 L412.07 77.01 L413.85 81.35 L415.63 85.54 L417.41 89.58 L419.19 93.48 L420.97 97.24 L422.75 100.86 L424.54 104.35 L426.32 107.72 L428.1 110.96 L429.88 114.08 L431.66 117.09 L433.44 119.99 L435.22 122.78 L437 125.46 L438.78 128.04 L440.57 130.53 L442.35 132.92 L444.13 135.22 L445.91 137.43 L447.69 139.56 L449.47 141.61 L451.25 143.58 L453.03 145.47 L454.82 147.29 L456.6 149.04 L458.38 150.72 L460.16 152.33 L461.94 153.88 L463.72 155.37 L465.5 156.81 L467.28 158.18 L469.06 159.5 L470.85 160.77 L472.63 161.99 L474.41 163.16 L476.19 164.29 L477.97 165.37 L479.75 166.41 L481.53 167.4 L483.31 168.36 L485.09 169.27 L486.88 170.15 L488.66 171 L490.44 171.81 L492.22 172.59 L494 173.34 L495.78 173.99 L497.56 174.61 L499.34 175.22 L501.12 175.8 L502.91 176.36 L504.69 176.9 L506.47 177.41 L508.25 177.91 L510.03 178.39 L511.81 178.86 L513.59 179.3 L515.37 179.73 L517.15 180.15 L518.94 180.54 L520.72 180.93 L522.5 181.3 L524.28 181.65 L526.06 182 L527.84 182.33 L529.62 182.64 L531.4 182.95 L533.18 183.24 L534.97 183.53 L536.75 183.8 L538.53 184.06 L540.31 184.32 L542.09 184.56 L543.87 184.79 L545.65 185.02 L547.43 185.24 L549.22 185.45 L551 185.65 L552.78 185.84 L554.56 186.03 L556.34 186.21 L558.12 186.39 L559.9 186.55 L561.68 186.71 L563.46 186.87 L565.25 187.02 L567.03 187.16 L568.81 187.3 L570.59 187.43 L572.37 187.56 L574.15 187.69 L575.93 187.8 L577.71 187.92 L579.49 188.03 L581.28 188.14 L583.06 188.24 L584.84 188.34 L586.62 188.43 L588.4 188.52 L590.18 188.61 L591.96 188.7 L593.74 188.78 L595.52 188.86 L597.31 188.93 L599.09 189 L600.87 189.07 L602.65 189.14 L604.43 189.21 L606.21 189.27 L607.99 189.33 L609.77 189.39 L611.55 189.44 L613.34 189.5 L615.12 189.55 L616.9 189.6 L618.68 189.65 L620.46 189.69 L622.24 189.74 L624.02 189.78 L625.8 189.82 L627.58 189.86 L629.37 189.9 L631.15 189.94 L632.93 189.97 L634.71 190.01 L636.49 190.04 L638.27 190.07 L640.05 190.1 L641.83 190.13 L643.62 190.16 L645.4 190.19 L647.18 190.22 L648.96 190.24 L650.74 190.27 L652.52 190.29 L654.3 190.31 L656.08 190.33 L657.86 190.35 L659.65 190.37 L661.43 190.39 L663.21 190.41 L664.99 190.43 L666.77 190.45 L668.55 190.46 L670.33 190.48 L672.11 190.5 L673.89 190.51 L675.68 190.53 L677.46 190.54 L679.24 190.55 L681.02 190.57 L682.8 190.58" stroke="#000000" stroke-width="1.8" fill="none" stroke-dasharray="3.4 1.2 2.2 1.2" stroke-dashoffset="1.7"/>
<path d="M399.6 60.13 L401.38 64.98 L403.16 69.66 L404.94 74.17 L406.72 78.52 L408.51 82.72 L410.29 86.77 L412.07 90.67 L413.85 94.43 L415.63 98.06 L417.41 101.55 L419.19 104.92 L420.97 108.17 L422.75 111.29 L424.54 114.31 L426.32 117.21 L428.1 120 L429.88 122.7 L431.66 125.29 L433.44 127.79 L435.22 130.19 L437 132.5 L438.78 134.73 L440.57 136.88 L442.35 138.94 L444.13 140.93 L445.91 142.84 L447.69 144.69 L449.47 146.46 L451.25 148.16 L453.03 149.8 L454.82 151.38 L456.6 152.9 L458.38 154.36 L460.16 155.77 L461.94 157.12 L463.72 158.42 L465.5 159.68 L467.28 160.88 L469.06 162.04 L470.85 163.15 L472.63 164.22 L474.41 165.26 L476.19 166.25 L477.97 167.2 L479.75 168.12 L481.53 169 L483.31 169.85 L485.09 170.66 L486.88 171.45 L488.66 172.2 L490.44 172.92 L492.22 173.62 L494 174.29 L495.78 174.91 L497.56 175.5 L499.34 176.07 L501.12 176.62 L502.91 177.15 L504.69 177.66 L506.47 178.15 L508.25 178.62 L510.03 179.07 L511.81 179.51 L513.59 179.93 L515.37 180.34 L517.15 180.73 L518.94 181.11 L520.72 181.47 L522.5 181.82 L524.28 182.16 L526.06 182.48 L527.84 182.79 L529.62 183.09 L531.4 183.38 L533.18 183.66 L534.97 183.93 L536.75 184.19 L538.53 184.43 L540.31 184.67 L542.09 184.9 L543.87 185.13 L545.65 185.34 L547.43 185.55 L549.22 185.74 L551 185.94 L552.78 186.12 L554.56 186.3 L556.34 186.47 L558.12 186.63 L559.9 186.79 L561.68 186.94 L563.46 187.09 L565.25 187.23 L567.03 187.36 L568.81 187.5 L570.59 187.62 L572.37 187.74 L574.15 187.86 L575.93 187.97 L577.71 188.08 L579.49 188.19 L581.28 188.29 L583.06 188.38 L584.84 188.48 L586.62 188.57 L588.4 188.65 L590.18 188.74 L591.96 188.82 L593.74 188.89 L595.52 188.97 L597.31 189.04 L599.09 189.11 L600.87 189.17 L602.65 189.24 L604.43 189.3 L606.21 189.36 L607.99 189.42 L609.77 189.47 L611.55 189.52 L613.34 189.57 L615.12 189.62 L616.9 189.67 L618.68 189.72 L620.46 189.76 L622.24 189.8 L624.02 189.84 L625.8 189.88 L627.58 189.92 L629.37 189.96 L631.15 189.99 L632.93 190.02 L634.71 190.06 L636.49 190.09 L638.27 190.12 L640.05 190.15 L641.83 190.18 L643.62 190.2 L645.4 190.23 L647.18 190.25 L648.96 190.28 L650.74 190.3 L652.52 190.32 L654.3 190.34 L656.08 190.36 L657.86 190.38 L659.65 190.4 L661.43 190.42 L663.21 190.44 L664.99 190.46 L666.77 190.47 L668.55 190.49 L670.33 190.5 L672.11 190.52 L673.89 190.53 L675.68 190.55 L677.46 190.56 L679.24 190.57 L681.02 190.58 L682.8 190.6" stroke="#000000" stroke-width="1.8" fill="none" stroke-dasharray="3.4 1.2 2.2 1.2" stroke-dashoffset="3.4"/>
<path d="M399.6 84 L401.38 87.76 L403.16 91.4 L404.94 94.91 L406.72 98.3 L408.51 101.57 L410.29 104.72 L412.07 107.77 L413.85 110.71 L415.63 113.55 L417.41 116.29 L419.19 118.93 L420.97 121.49 L422.75 123.95 L424.54 126.32 L426.32 128.62 L428.1 130.83 L429.88 132.96 L431.66 135.02 L433.44 137.01 L435.22 138.93 L437 140.78 L438.78 142.56 L440.57 144.28 L442.35 145.94 L444.13 147.54 L445.91 149.09 L447.69 150.58 L449.47 152.02 L451.25 153.4 L453.03 154.74 L454.82 156.03 L456.6 157.27 L458.38 158.47 L460.16 159.63 L461.94 160.75 L463.72 161.83 L465.5 162.86 L467.28 163.87 L469.06 164.83 L470.85 165.76 L472.63 166.66 L474.41 167.53 L476.19 168.36 L477.97 169.17 L479.75 169.95 L481.53 170.7 L483.31 171.42 L485.09 172.12 L486.88 172.79 L488.66 173.44 L490.44 174.06 L492.22 174.66 L494 175.25 L495.78 175.83 L497.56 176.38 L499.34 176.92 L501.12 177.44 L502.91 177.94 L504.69 178.42 L506.47 178.88 L508.25 179.33 L510.03 179.75 L511.81 180.17 L513.59 180.56 L515.37 180.95 L517.15 181.32 L518.94 181.67 L520.72 182.01 L522.5 182.34 L524.28 182.66 L526.06 182.96 L527.84 183.26 L529.62 183.54 L531.4 183.81 L533.18 184.08 L534.97 184.33 L536.75 184.57 L538.53 184.81 L540.31 185.03 L542.09 185.25 L543.87 185.46 L545.65 185.66 L547.43 185.85 L549.22 186.04 L551 186.22 L552.78 186.39 L554.56 186.56 L556.34 186.72 L558.12 186.88 L559.9 187.03 L561.68 187.17 L563.46 187.31 L565.25 187.44 L567.03 187.57 L568.81 187.69 L570.59 187.81 L572.37 187.92 L574.15 188.03 L575.93 188.14 L577.71 188.24 L579.49 188.34 L581.28 188.44 L583.06 188.53 L584.84 188.62 L586.62 188.7 L588.4 188.78 L590.18 188.86 L591.96 188.94 L593.74 189.01 L595.52 189.08 L597.31 189.15 L599.09 189.21 L600.87 189.27 L602.65 189.33 L604.43 189.39 L606.21 189.45 L607.99 189.5 L609.77 189.55 L611.55 189.6 L613.34 189.65 L615.12 189.7 L616.9 189.74 L618.68 189.78 L620.46 189.83 L622.24 189.87 L624.02 189.9 L625.8 189.94 L627.58 189.98 L629.37 190.01 L631.15 190.04 L632.93 190.08 L634.71 190.11 L636.49 190.14 L638.27 190.16 L640.05 190.19 L641.83 190.22 L643.62 190.24 L645.4 190.27 L647.18 190.29 L648.96 190.31 L650.74 190.33 L652.52 190.36 L654.3 190.38 L656.08 190.4 L657.86 190.41 L659.65 190.43 L661.43 190.45 L663.21 190.47 L664.99 190.48 L666.77 190.5 L668.55 190.51 L670.33 190.53 L672.11 190.54 L673.89 190.55 L675.68 190.57 L677.46 190.58 L679.24 190.59 L681.02 190.6 L682.8 190.61" stroke="#000000" stroke-width="1.8" fill="none" stroke-dasharray="3.4 1.2 2.2 1.2" stroke-dashoffset="5.1"/>
<path d="M399.6 109.77 L401.38 112.36 L403.16 114.87 L404.94 117.3 L406.72 119.66 L408.51 121.94 L410.29 124.15 L412.07 126.29 L413.85 128.37 L415.63 130.38 L417.41 132.32 L419.19 134.2 L420.97 136.03 L422.75 137.8 L424.54 139.51 L426.32 141.16 L428.1 142.76 L429.88 144.32 L431.66 145.82 L433.44 147.27 L435.22 148.68 L437 150.05 L438.78 151.37 L440.57 152.65 L442.35 153.88 L444.13 155.08 L445.91 156.24 L447.69 157.36 L449.47 158.45 L451.25 159.5 L453.03 160.51 L454.82 161.5 L456.6 162.45 L458.38 163.37 L460.16 164.27 L461.94 165.13 L463.72 165.97 L465.5 166.77 L467.28 167.56 L469.06 168.32 L470.85 169.05 L472.63 169.76 L474.41 170.44 L476.19 171.11 L477.97 171.75 L479.75 172.37 L481.53 172.98 L483.31 173.56 L485.09 174.12 L486.88 174.67 L488.66 175.2 L490.44 175.71 L492.22 176.2 L494 176.68 L495.78 177.2 L497.56 177.71 L499.34 178.2 L501.12 178.67 L502.91 179.12 L504.69 179.56 L506.47 179.98 L508.25 180.38 L510.03 180.77 L511.81 181.15 L513.59 181.51 L515.37 181.86 L517.15 182.19 L518.94 182.51 L520.72 182.83 L522.5 183.12 L524.28 183.41 L526.06 183.69 L527.84 183.96 L529.62 184.21 L531.4 184.46 L533.18 184.7 L534.97 184.93 L536.75 185.15 L538.53 185.36 L540.31 185.57 L542.09 185.77 L543.87 185.96 L545.65 186.14 L547.43 186.32 L549.22 186.49 L551 186.65 L552.78 186.81 L554.56 186.96 L556.34 187.1 L558.12 187.24 L559.9 187.38 L561.68 187.51 L563.46 187.64 L565.25 187.76 L567.03 187.87 L568.81 187.98 L570.59 188.09 L572.37 188.2 L574.15 188.3 L575.93 188.39 L577.71 188.49 L579.49 188.58 L581.28 188.66 L583.06 188.74 L584.84 188.82 L586.62 188.9 L588.4 188.98 L590.18 189.05 L591.96 189.12 L593.74 189.18 L595.52 189.24 L597.31 189.31 L599.09 189.37 L600.87 189.42 L602.65 189.48 L604.43 189.53 L606.21 189.58 L607.99 189.63 L609.77 189.68 L611.55 189.72 L613.34 189.77 L615.12 189.81 L616.9 189.85 L618.68 189.89 L620.46 189.92 L622.24 189.96 L624.02 190 L625.8 190.03 L627.58 190.06 L629.37 190.09 L631.15 190.12 L632.93 190.15 L634.71 190.18 L636.49 190.21 L638.27 190.23 L640.05 190.26 L641.83 190.28 L643.62 190.3 L645.4 190.32 L647.18 190.35 L648.96 190.37 L650.74 190.39 L652.52 190.41 L654.3 190.42 L656.08 190.44 L657.86 190.46 L659.65 190.47 L661.43 190.49 L663.21 190.51 L664.99 190.52 L666.77 190.53 L668.55 190.55 L670.33 190.56 L672.11 190.57 L673.89 190.59 L675.68 190.6 L677.46 190.61 L679.24 190.62 L681.02 190.63 L682.8 190.64" stroke="#000000" stroke-width="1.8" fill="none" stroke-dasharray="3.4 1.2 2.2 1.2" stroke-dashoffset="6.8"/>
<path d="M555.36 186.63 L557.52 186.82 L559.68 187.01 L561.84 187.18 L564 187.35 L566.16 187.51 L568.32 187.66 L570.48 187.8 L572.64 187.94 L574.8 188.07 L576.96 188.2 L579.12 188.32 L581.28 188.44 L583.44 188.55 L585.6 188.65 L587.76 188.75 L589.92 188.85 L592.08 188.94 L594.24 189.03 L596.4 189.11 L598.56 189.19 L600.72 189.27 L602.88 189.34 L605.04 189.41 L607.2 189.48 L609.36 189.54 L611.52 189.6 L613.68 189.66 L615.84 189.72 L618 189.77 L620.16 189.82 L622.32 189.87 L624.48 189.91 L626.64 189.96 L628.8 190 L630.96 190.04 L633.12 190.08 L635.28 190.12 L637.44 190.15 L639.6 190.18 L641.76 190.22 L643.92 190.25 L646.08 190.28 L648.24 190.3 L650.4 190.33 L652.56 190.36 L654.72 190.38 L656.88 190.4 L659.04 190.43 L661.2 190.45 L663.36 190.47 L665.52 190.49 L667.68 190.51 L669.84 190.52 L672 190.54 L674.16 190.56 L676.32 190.57 L678.48 190.59 L680.64 190.6 L682.8 190.61" stroke="#000" stroke-width="1.7" fill="none"/>
</g>
<path d="M29.2 -2 V190.9 H312.7" stroke="#3c3c3c" stroke-width="0.9" fill="none"/>
<path d="M29.2 190.9 v-3 M69.7 190.9 v-3 M110.2 190.9 v-3 M150.7 190.9 v-3 M191.2 190.9 v-3 M231.7 190.9 v-3 M272.2 190.9 v-3 M312.7 190.9 v-3 M29.2 190.9 h3 M29.2 152.38 h3 M29.2 113.86 h3 M29.2 75.34 h3 M29.2 36.82 h3 M29.2 -1.7 h3 " stroke="#3c3c3c" stroke-width="0.8" fill="none"/>
<text x="29.2" y="204.5" text-anchor="middle" class="tk" font-size="10">0</text>
<text x="69.7" y="204.5" text-anchor="middle" class="tk" font-size="10">1</text>
<text x="110.2" y="204.5" text-anchor="middle" class="tk" font-size="10">2</text>
<text x="150.7" y="204.5" text-anchor="middle" class="tk" font-size="10">3</text>
<text x="191.2" y="204.5" text-anchor="middle" class="tk" font-size="10">4</text>
<text x="231.7" y="204.5" text-anchor="middle" class="tk" font-size="10">5</text>
<text x="272.2" y="204.5" text-anchor="middle" class="tk" font-size="10">6</text>
<text x="312.7" y="204.5" text-anchor="middle" class="tk" font-size="10">7</text>
<text x="25.5" y="195.1" text-anchor="end" class="tk" font-size="10">0</text>
<text x="24.7" y="155.78" text-anchor="end" class="tk" font-size="10">0.2</text>
<text x="24.7" y="117.26" text-anchor="end" class="tk" font-size="10">0.4</text>
<text x="24.7" y="78.74" text-anchor="end" class="tk" font-size="10">0.6</text>
<text x="24.7" y="40.22" text-anchor="end" class="tk" font-size="10">0.8</text>
<path d="M399.6 -2 V190.9 H682.8" stroke="#3c3c3c" stroke-width="0.9" fill="none"/>
<path d="M399.6 190.9 v-3 M446.8 190.9 v-3 M494 190.9 v-3 M541.2 190.9 v-3 M588.4 190.9 v-3 M635.6 190.9 v-3 M682.8 190.9 v-3 M399.6 190.9 h3 M399.6 152.72 h3 M399.6 114.54 h3 M399.6 76.36 h3 M399.6 38.18 h3 M399.6 0 h3 " stroke="#3c3c3c" stroke-width="0.8" fill="none"/>
<text x="399.6" y="204.5" text-anchor="middle" class="tk" font-size="10">0</text>
<text x="446.8" y="204.5" text-anchor="middle" class="tk" font-size="10">1</text>
<text x="494" y="204.5" text-anchor="middle" class="tk" font-size="10">2</text>
<text x="541.2" y="204.5" text-anchor="middle" class="tk" font-size="10">3</text>
<text x="588.4" y="204.5" text-anchor="middle" class="tk" font-size="10">4</text>
<text x="635.6" y="204.5" text-anchor="middle" class="tk" font-size="10">5</text>
<text x="682.8" y="204.5" text-anchor="middle" class="tk" font-size="10">6</text>
<text x="395.9" y="195.6" text-anchor="end" class="tk" font-size="10">0</text>
<text x="395.1" y="156.62" text-anchor="end" class="tk" font-size="10">0.2</text>
<text x="395.1" y="118.44" text-anchor="end" class="tk" font-size="10">0.4</text>
<text x="395.1" y="80.26" text-anchor="end" class="tk" font-size="10">0.6</text>
<text x="395.1" y="42.08" text-anchor="end" class="tk" font-size="10">0.8</text>
<g clip-path="url(#cAi)">
<path d="M121.2 7.35 L122.49 11.65 L123.78 15.91 L125.07 20.13 L126.36 24.31 L127.65 28.43 L128.94 32.49 L130.22 36.5 L131.51 40.44 L132.8 44.31 L134.09 48.11 L135.38 51.83 L136.67 55.47 L137.96 59.03 L139.25 62.51 L140.54 65.9 L141.83 69.21 L143.12 72.43 L144.41 75.55 L145.69 78.59 L146.98 81.53 L148.27 84.39 L149.56 87.15 L150.85 89.82 L152.14 92.39 L153.43 94.88 L154.72 97.28 L156.01 99.58 L157.3 101.8 L158.59 103.93 L159.88 105.98 L161.17 107.94 L162.45 109.81 L163.74 111.61 L165.03 113.32 L166.32 114.96 L167.61 116.53 L168.9 118.02 L170.19 119.43 L171.48 120.78 L172.77 122.06 L174.06 123.28 L175.35 124.43 L176.64 125.53 L177.93 126.56 L179.21 127.54 L180.5 128.46 L181.79 129.33 L183.08 130.15 L184.37 130.93 L185.66 131.66 L186.95 132.34 L188.24 132.98 L189.53 133.59 L190.82 134.15 L192.11 134.68 L193.4 135.18 L194.68 135.64 L195.97 136.08 L197.26 136.48 L198.55 136.86 L199.84 137.21 L201.13 137.54 L202.42 137.84 L203.71 138.12 L205 138.38 L206.29 138.63 L207.58 138.85 L208.87 139.06 L210.16 139.25 L211.44 139.43 L212.73 139.6 L214.02 139.75 L215.31 139.89 L216.6 140.02 L217.89 140.13 L219.18 140.24 L220.47 140.34 L221.76 140.43 L223.05 140.52 L224.34 140.59 L225.63 140.66 L226.92 140.73 L228.2 140.79 L229.49 140.84 L230.78 140.89 L232.07 140.93 L233.36 140.98 L234.65 141.01 L235.94 141.05 L237.23 141.08 L238.52 141.1 L239.81 141.13 L241.1 141.15 L242.39 141.17 L243.67 141.19 L244.96 141.21 L246.25 141.22 L247.54 141.24 L248.83 141.25 L250.12 141.26 L251.41 141.27 L252.7 141.28 L253.99 141.28 L255.28 141.29 L256.57 141.3 L257.86 141.3 L259.15 141.31 L260.43 141.31 L261.72 141.32 L263.01 141.32 L264.3 141.32 L265.59 141.33 L266.88 141.33 L268.17 141.33 L269.46 141.33 L270.75 141.34 L272.04 141.34 L273.33 141.34 L274.62 141.34 L275.91 141.34 L277.19 141.34 L278.48 141.34 L279.77 141.34 L281.06 141.35 L282.35 141.35 L283.64 141.35 L284.93 141.35 L286.22 141.35 L287.51 141.35 L288.8 141.35 L290.09 141.35 L291.38 141.35 L292.66 141.35 L293.95 141.35 L295.24 141.35 L296.53 141.35 L297.82 141.35 L299.11 141.35 L300.4 141.35" stroke="#00ff00" stroke-width="1.8" fill="none"/>
<path d="M121.2 7.35 L122.49 11.54 L123.78 15.68 L125.07 19.78 L126.36 23.82 L127.65 27.81 L128.94 31.74 L130.22 35.61 L131.51 39.42 L132.8 43.16 L134.09 46.82 L135.38 50.42 L136.67 53.93 L137.96 57.37 L139.25 60.74 L140.54 64.02 L141.83 67.22 L143.12 70.34 L144.41 73.37 L145.69 76.32 L146.98 79.19 L148.27 81.97 L149.56 84.67 L150.85 87.28 L152.14 89.81 L153.43 92.25 L154.72 94.61 L156.01 96.89 L157.3 99.09 L158.59 101.2 L159.88 103.24 L161.17 105.2 L162.45 107.09 L163.74 108.89 L165.03 110.63 L166.32 112.29 L167.61 113.88 L168.9 115.4 L170.19 116.86 L171.48 118.25 L172.77 119.57 L174.06 120.84 L175.35 122.04 L176.64 123.19 L177.93 124.28 L179.21 125.31 L180.5 126.3 L181.79 127.23 L183.08 128.12 L184.37 128.96 L185.66 129.75 L186.95 130.5 L188.24 131.21 L189.53 131.88 L190.82 132.51 L192.11 133.1 L193.4 133.66 L194.68 134.19 L195.97 134.69 L197.26 135.15 L198.55 135.59 L199.84 136 L201.13 136.38 L202.42 136.74 L203.71 137.08 L205 137.4 L206.29 137.69 L207.58 137.96 L208.87 138.22 L210.16 138.46 L211.44 138.68 L212.73 138.89 L214.02 139.08 L215.31 139.26 L216.6 139.43 L217.89 139.58 L219.18 139.73 L220.47 139.86 L221.76 139.98 L223.05 140.09 L224.34 140.2 L225.63 140.3 L226.92 140.39 L228.2 140.47 L229.49 140.54 L230.78 140.61 L232.07 140.68 L233.36 140.74 L234.65 140.79 L235.94 140.84 L237.23 140.89 L238.52 140.93 L239.81 140.97 L241.1 141 L242.39 141.03 L243.67 141.06 L244.96 141.09 L246.25 141.12 L247.54 141.14 L248.83 141.16 L250.12 141.18 L251.41 141.19 L252.7 141.21 L253.99 141.22 L255.28 141.23 L256.57 141.25 L257.86 141.26 L259.15 141.27 L260.43 141.27 L261.72 141.28 L263.01 141.29 L264.3 141.3 L265.59 141.3 L266.88 141.31 L268.17 141.31 L269.46 141.32 L270.75 141.32 L272.04 141.32 L273.33 141.33 L274.62 141.33 L275.91 141.33 L277.19 141.33 L278.48 141.33 L279.77 141.34 L281.06 141.34 L282.35 141.34 L283.64 141.34 L284.93 141.34 L286.22 141.34 L287.51 141.34 L288.8 141.34 L290.09 141.34 L291.38 141.35 L292.66 141.35 L293.95 141.35 L295.24 141.35 L296.53 141.35 L297.82 141.35 L299.11 141.35 L300.4 141.35" stroke="#00ff00" stroke-width="1.8" fill="none"/>
<path d="M121.2 7.35 L122.49 11.42 L123.78 15.45 L125.07 19.42 L126.36 23.33 L127.65 27.19 L128.94 30.99 L130.22 34.72 L131.51 38.39 L132.8 41.99 L134.09 45.52 L135.38 48.98 L136.67 52.37 L137.96 55.68 L139.25 58.92 L140.54 62.09 L141.83 65.17 L143.12 68.18 L144.41 71.12 L145.69 73.97 L146.98 76.75 L148.27 79.45 L149.56 82.07 L150.85 84.61 L152.14 87.08 L153.43 89.47 L154.72 91.79 L156.01 94.02 L157.3 96.19 L158.59 98.28 L159.88 100.3 L161.17 102.25 L162.45 104.12 L163.74 105.93 L165.03 107.67 L166.32 109.34 L167.61 110.95 L168.9 112.49 L170.19 113.98 L171.48 115.4 L172.77 116.76 L174.06 118.06 L175.35 119.31 L176.64 120.5 L177.93 121.65 L179.21 122.73 L180.5 123.77 L181.79 124.76 L183.08 125.71 L184.37 126.61 L185.66 127.46 L186.95 128.28 L188.24 129.05 L189.53 129.79 L190.82 130.48 L192.11 131.14 L193.4 131.77 L194.68 132.36 L195.97 132.93 L197.26 133.46 L198.55 133.96 L199.84 134.43 L201.13 134.88 L202.42 135.3 L203.71 135.7 L205 136.08 L206.29 136.43 L207.58 136.76 L208.87 137.07 L210.16 137.37 L211.44 137.64 L212.73 137.9 L214.02 138.14 L215.31 138.37 L216.6 138.58 L217.89 138.78 L219.18 138.97 L220.47 139.14 L221.76 139.3 L223.05 139.45 L224.34 139.6 L225.63 139.73 L226.92 139.85 L228.2 139.96 L229.49 140.07 L230.78 140.17 L232.07 140.26 L233.36 140.35 L234.65 140.43 L235.94 140.5 L237.23 140.57 L238.52 140.63 L239.81 140.69 L241.1 140.74 L242.39 140.79 L243.67 140.84 L244.96 140.88 L246.25 140.92 L247.54 140.96 L248.83 140.99 L250.12 141.02 L251.41 141.05 L252.7 141.08 L253.99 141.1 L255.28 141.12 L256.57 141.14 L257.86 141.16 L259.15 141.18 L260.43 141.19 L261.72 141.21 L263.01 141.22 L264.3 141.23 L265.59 141.24 L266.88 141.25 L268.17 141.26 L269.46 141.27 L270.75 141.28 L272.04 141.28 L273.33 141.29 L274.62 141.3 L275.91 141.3 L277.19 141.31 L278.48 141.31 L279.77 141.31 L281.06 141.32 L282.35 141.32 L283.64 141.32 L284.93 141.33 L286.22 141.33 L287.51 141.33 L288.8 141.33 L290.09 141.33 L291.38 141.34 L292.66 141.34 L293.95 141.34 L295.24 141.34 L296.53 141.34 L297.82 141.34 L299.11 141.34 L300.4 141.34" stroke="#00ff00" stroke-width="1.8" fill="none"/>
<path d="M121.2 7.35 L122.49 11.31 L123.78 15.22 L125.07 19.06 L126.36 22.85 L127.65 26.57 L128.94 30.23 L130.22 33.82 L131.51 37.35 L132.8 40.81 L134.09 44.2 L135.38 47.53 L136.67 50.78 L137.96 53.96 L139.25 57.07 L140.54 60.11 L141.83 63.07 L143.12 65.97 L144.41 68.79 L145.69 71.54 L146.98 74.22 L148.27 76.82 L149.56 79.36 L150.85 81.82 L152.14 84.21 L153.43 86.54 L154.72 88.79 L156.01 90.97 L157.3 93.09 L158.59 95.14 L159.88 97.13 L161.17 99.05 L162.45 100.9 L163.74 102.7 L165.03 104.43 L166.32 106.1 L167.61 107.71 L168.9 109.26 L170.19 110.76 L171.48 112.2 L172.77 113.58 L174.06 114.91 L175.35 116.19 L176.64 117.42 L177.93 118.61 L179.21 119.74 L180.5 120.82 L181.79 121.87 L183.08 122.86 L184.37 123.82 L185.66 124.73 L186.95 125.6 L188.24 126.44 L189.53 127.23 L190.82 128 L192.11 128.72 L193.4 129.41 L194.68 130.07 L195.97 130.7 L197.26 131.3 L198.55 131.87 L199.84 132.41 L201.13 132.92 L202.42 133.41 L203.71 133.88 L205 134.32 L206.29 134.73 L207.58 135.13 L208.87 135.5 L210.16 135.86 L211.44 136.19 L212.73 136.51 L214.02 136.81 L215.31 137.09 L216.6 137.36 L217.89 137.61 L219.18 137.85 L220.47 138.08 L221.76 138.29 L223.05 138.49 L224.34 138.68 L225.63 138.85 L226.92 139.02 L228.2 139.18 L229.49 139.32 L230.78 139.46 L232.07 139.59 L233.36 139.71 L234.65 139.82 L235.94 139.93 L237.23 140.03 L238.52 140.12 L239.81 140.21 L241.1 140.29 L242.39 140.37 L243.67 140.44 L244.96 140.5 L246.25 140.57 L247.54 140.62 L248.83 140.68 L250.12 140.73 L251.41 140.77 L252.7 140.82 L253.99 140.86 L255.28 140.9 L256.57 140.93 L257.86 140.96 L259.15 140.99 L260.43 141.02 L261.72 141.05 L263.01 141.07 L264.3 141.09 L265.59 141.11 L266.88 141.13 L268.17 141.15 L269.46 141.17 L270.75 141.18 L272.04 141.19 L273.33 141.21 L274.62 141.22 L275.91 141.23 L277.19 141.24 L278.48 141.25 L279.77 141.26 L281.06 141.27 L282.35 141.27 L283.64 141.28 L284.93 141.29 L286.22 141.29 L287.51 141.3 L288.8 141.3 L290.09 141.31 L291.38 141.31 L292.66 141.31 L293.95 141.32 L295.24 141.32 L296.53 141.32 L297.82 141.32 L299.11 141.33 L300.4 141.33" stroke="#00ff00" stroke-width="1.8" fill="none"/>
<path d="M121.2 7.35 L122.49 11.2 L123.78 14.98 L125.07 18.7 L126.36 22.36 L127.65 25.94 L128.94 29.46 L130.22 32.92 L131.51 36.3 L132.8 39.62 L134.09 42.87 L135.38 46.05 L136.67 49.16 L137.96 52.2 L139.25 55.17 L140.54 58.08 L141.83 60.91 L143.12 63.68 L144.41 66.38 L145.69 69.02 L146.98 71.58 L148.27 74.08 L149.56 76.52 L150.85 78.89 L152.14 81.19 L153.43 83.43 L154.72 85.61 L156.01 87.73 L157.3 89.78 L158.59 91.78 L159.88 93.71 L161.17 95.59 L162.45 97.4 L163.74 99.17 L165.03 100.87 L166.32 102.52 L167.61 104.12 L168.9 105.67 L170.19 107.16 L171.48 108.6 L172.77 109.99 L174.06 111.34 L175.35 112.64 L176.64 113.89 L177.93 115.1 L179.21 116.26 L180.5 117.38 L181.79 118.46 L183.08 119.5 L184.37 120.5 L185.66 121.46 L186.95 122.38 L188.24 123.27 L189.53 124.12 L190.82 124.94 L192.11 125.72 L193.4 126.48 L194.68 127.2 L195.97 127.89 L197.26 128.55 L198.55 129.19 L199.84 129.79 L201.13 130.37 L202.42 130.93 L203.71 131.46 L205 131.97 L206.29 132.45 L207.58 132.92 L208.87 133.36 L210.16 133.78 L211.44 134.18 L212.73 134.56 L214.02 134.93 L215.31 135.28 L216.6 135.61 L217.89 135.92 L219.18 136.22 L220.47 136.5 L221.76 136.78 L223.05 137.03 L224.34 137.28 L225.63 137.51 L226.92 137.73 L228.2 137.94 L229.49 138.13 L230.78 138.32 L232.07 138.5 L233.36 138.67 L234.65 138.83 L235.94 138.98 L237.23 139.12 L238.52 139.25 L239.81 139.38 L241.1 139.5 L242.39 139.61 L243.67 139.72 L244.96 139.82 L246.25 139.92 L247.54 140.01 L248.83 140.09 L250.12 140.17 L251.41 140.25 L252.7 140.32 L253.99 140.38 L255.28 140.45 L256.57 140.51 L257.86 140.56 L259.15 140.61 L260.43 140.66 L261.72 140.71 L263.01 140.75 L264.3 140.79 L265.59 140.83 L266.88 140.86 L268.17 140.9 L269.46 140.93 L270.75 140.96 L272.04 140.98 L273.33 141.01 L274.62 141.03 L275.91 141.06 L277.19 141.08 L278.48 141.1 L279.77 141.11 L281.06 141.13 L282.35 141.15 L283.64 141.16 L284.93 141.18 L286.22 141.19 L287.51 141.2 L288.8 141.21 L290.09 141.22 L291.38 141.23 L292.66 141.24 L293.95 141.25 L295.24 141.26 L296.53 141.26 L297.82 141.27 L299.11 141.28 L300.4 141.28" stroke="#00ff00" stroke-width="1.8" fill="none"/>
<path d="M121.2 7.35 L122.49 11.69 L123.78 15.99 L125.07 20.25 L126.36 24.47 L127.65 28.63 L128.94 32.74 L130.22 36.79 L131.51 40.77 L132.8 44.69 L134.09 48.53 L135.38 52.29 L136.67 55.98 L137.96 59.58 L139.25 63.09 L140.54 66.52 L141.83 69.86 L143.12 73.11 L144.41 76.26 L145.69 79.33 L146.98 82.3 L148.27 85.17 L149.56 87.95 L150.85 90.64 L152.14 93.23 L153.43 95.72 L154.72 98.13 L156.01 100.44 L157.3 102.67 L158.59 104.8 L159.88 106.84 L161.17 108.8 L162.45 110.67 L163.74 112.46 L165.03 114.17 L166.32 115.8 L167.61 117.35 L168.9 118.83 L170.19 120.23 L171.48 121.56 L172.77 122.83 L174.06 124.03 L175.35 125.16 L176.64 126.24 L177.93 127.25 L179.21 128.21 L180.5 129.11 L181.79 129.96 L183.08 130.76 L184.37 131.51 L185.66 132.22 L186.95 132.88 L188.24 133.51 L189.53 134.09 L190.82 134.63 L192.11 135.14 L193.4 135.62 L194.68 136.06 L195.97 136.47 L197.26 136.86 L198.55 137.22 L199.84 137.55 L201.13 137.86 L202.42 138.14 L203.71 138.41 L205 138.66 L206.29 138.88 L207.58 139.09 L208.87 139.29 L210.16 139.47 L211.44 139.63 L212.73 139.78 L214.02 139.92 L215.31 140.05 L216.6 140.17 L217.89 140.28 L219.18 140.38 L220.47 140.47 L221.76 140.55 L223.05 140.62 L224.34 140.69 L225.63 140.76 L226.92 140.81 L228.2 140.87 L229.49 140.91 L230.78 140.96 L232.07 141 L233.36 141.03 L234.65 141.06 L235.94 141.09 L237.23 141.12 L238.52 141.14 L239.81 141.17 L241.1 141.18 L242.39 141.2 L243.67 141.22 L244.96 141.23 L246.25 141.24 L247.54 141.26 L248.83 141.27 L250.12 141.28 L251.41 141.28 L252.7 141.29 L253.99 141.3 L255.28 141.3 L256.57 141.31 L257.86 141.31 L259.15 141.32 L260.43 141.32 L261.72 141.33 L263.01 141.33 L264.3 141.33 L265.59 141.33 L266.88 141.34 L268.17 141.34 L269.46 141.34 L270.75 141.34 L272.04 141.34 L273.33 141.34 L274.62 141.34 L275.91 141.34 L277.19 141.34 L278.48 141.35 L279.77 141.35 L281.06 141.35 L282.35 141.35 L283.64 141.35 L284.93 141.35 L286.22 141.35 L287.51 141.35 L288.8 141.35 L290.09 141.35 L291.38 141.35 L292.66 141.35 L293.95 141.35 L295.24 141.35 L296.53 141.35 L297.82 141.35 L299.11 141.35 L300.4 141.35" stroke="#ff0000" stroke-width="1.5" fill="none" stroke-dasharray="3.3 4.7"/>
<path d="M121.2 7.35 L122.49 11.57 L123.78 15.76 L125.07 19.89 L126.36 23.98 L127.65 28.02 L128.94 31.99 L130.22 35.91 L131.51 39.76 L132.8 43.54 L134.09 47.25 L135.38 50.89 L136.67 54.45 L137.96 57.93 L139.25 61.33 L140.54 64.65 L141.83 67.89 L143.12 71.04 L144.41 74.11 L145.69 77.09 L146.98 79.98 L148.27 82.79 L149.56 85.51 L150.85 88.14 L152.14 90.68 L153.43 93.14 L154.72 95.52 L156.01 97.81 L157.3 100.01 L158.59 102.13 L159.88 104.18 L161.17 106.14 L162.45 108.02 L163.74 109.82 L165.03 111.55 L166.32 113.21 L167.61 114.79 L168.9 116.3 L170.19 117.75 L171.48 119.12 L172.77 120.44 L174.06 121.69 L175.35 122.87 L176.64 124 L177.93 125.08 L179.21 126.09 L180.5 127.06 L181.79 127.97 L183.08 128.83 L184.37 129.65 L185.66 130.42 L186.95 131.15 L188.24 131.84 L189.53 132.49 L190.82 133.09 L192.11 133.67 L193.4 134.21 L194.68 134.71 L195.97 135.19 L197.26 135.63 L198.55 136.05 L199.84 136.44 L201.13 136.8 L202.42 137.14 L203.71 137.46 L205 137.76 L206.29 138.03 L207.58 138.29 L208.87 138.53 L210.16 138.75 L211.44 138.96 L212.73 139.15 L214.02 139.33 L215.31 139.5 L216.6 139.65 L217.89 139.79 L219.18 139.92 L220.47 140.04 L221.76 140.15 L223.05 140.25 L224.34 140.35 L225.63 140.44 L226.92 140.52 L228.2 140.59 L229.49 140.66 L230.78 140.72 L232.07 140.78 L233.36 140.83 L234.65 140.88 L235.94 140.92 L237.23 140.96 L238.52 141 L239.81 141.03 L241.1 141.06 L242.39 141.09 L243.67 141.11 L244.96 141.14 L246.25 141.16 L247.54 141.18 L248.83 141.19 L250.12 141.21 L251.41 141.22 L252.7 141.24 L253.99 141.25 L255.28 141.26 L256.57 141.27 L257.86 141.28 L259.15 141.28 L260.43 141.29 L261.72 141.3 L263.01 141.3 L264.3 141.31 L265.59 141.31 L266.88 141.32 L268.17 141.32 L269.46 141.32 L270.75 141.33 L272.04 141.33 L273.33 141.33 L274.62 141.33 L275.91 141.34 L277.19 141.34 L278.48 141.34 L279.77 141.34 L281.06 141.34 L282.35 141.34 L283.64 141.34 L284.93 141.34 L286.22 141.34 L287.51 141.35 L288.8 141.35 L290.09 141.35 L291.38 141.35 L292.66 141.35 L293.95 141.35 L295.24 141.35 L296.53 141.35 L297.82 141.35 L299.11 141.35 L300.4 141.35" stroke="#ff0000" stroke-width="1.5" fill="none" stroke-dasharray="3.3 4.7"/>
<path d="M121.2 7.35 L122.49 11.46 L123.78 15.52 L125.07 19.54 L126.36 23.5 L127.65 27.4 L128.94 31.24 L130.22 35.02 L131.51 38.73 L132.8 42.38 L134.09 45.96 L135.38 49.46 L136.67 52.89 L137.96 56.25 L139.25 59.53 L140.54 62.74 L141.83 65.86 L143.12 68.91 L144.41 71.88 L145.69 74.76 L146.98 77.57 L148.27 80.3 L149.56 82.95 L150.85 85.52 L152.14 88.01 L153.43 90.41 L154.72 92.75 L156.01 95 L157.3 97.18 L158.59 99.28 L159.88 101.3 L161.17 103.26 L162.45 105.14 L163.74 106.95 L165.03 108.69 L166.32 110.36 L167.61 111.96 L168.9 113.5 L170.19 114.97 L171.48 116.38 L172.77 117.74 L174.06 119.03 L175.35 120.26 L176.64 121.44 L177.93 122.57 L179.21 123.64 L180.5 124.66 L181.79 125.63 L183.08 126.56 L184.37 127.44 L185.66 128.27 L186.95 129.06 L188.24 129.82 L189.53 130.53 L190.82 131.2 L192.11 131.84 L193.4 132.45 L194.68 133.02 L195.97 133.56 L197.26 134.07 L198.55 134.55 L199.84 135 L201.13 135.43 L202.42 135.83 L203.71 136.2 L205 136.56 L206.29 136.89 L207.58 137.2 L208.87 137.5 L210.16 137.77 L211.44 138.03 L212.73 138.27 L214.02 138.49 L215.31 138.7 L216.6 138.9 L217.89 139.08 L219.18 139.25 L220.47 139.41 L221.76 139.56 L223.05 139.7 L224.34 139.83 L225.63 139.94 L226.92 140.06 L228.2 140.16 L229.49 140.25 L230.78 140.34 L232.07 140.42 L233.36 140.5 L234.65 140.57 L235.94 140.63 L237.23 140.69 L238.52 140.75 L239.81 140.8 L241.1 140.85 L242.39 140.89 L243.67 140.93 L244.96 140.97 L246.25 141 L247.54 141.03 L248.83 141.06 L250.12 141.08 L251.41 141.11 L252.7 141.13 L253.99 141.15 L255.28 141.17 L256.57 141.18 L257.86 141.2 L259.15 141.21 L260.43 141.23 L261.72 141.24 L263.01 141.25 L264.3 141.26 L265.59 141.27 L266.88 141.28 L268.17 141.28 L269.46 141.29 L270.75 141.3 L272.04 141.3 L273.33 141.31 L274.62 141.31 L275.91 141.31 L277.19 141.32 L278.48 141.32 L279.77 141.32 L281.06 141.33 L282.35 141.33 L283.64 141.33 L284.93 141.33 L286.22 141.33 L287.51 141.34 L288.8 141.34 L290.09 141.34 L291.38 141.34 L292.66 141.34 L293.95 141.34 L295.24 141.34 L296.53 141.34 L297.82 141.34 L299.11 141.35 L300.4 141.35" stroke="#ff0000" stroke-width="1.5" fill="none" stroke-dasharray="3.3 4.7"/>
<path d="M121.2 7.35 L122.49 11.35 L123.78 15.29 L125.07 19.18 L126.36 23.01 L127.65 26.78 L128.94 30.48 L130.22 34.12 L131.51 37.7 L132.8 41.21 L134.09 44.64 L135.38 48.01 L136.67 51.31 L137.96 54.54 L139.25 57.69 L140.54 60.77 L141.83 63.78 L143.12 66.71 L144.41 69.57 L145.69 72.36 L146.98 75.07 L148.27 77.71 L149.56 80.27 L150.85 82.77 L152.14 85.19 L153.43 87.53 L154.72 89.81 L156.01 92.01 L157.3 94.15 L158.59 96.21 L159.88 98.21 L161.17 100.14 L162.45 102.01 L163.74 103.81 L165.03 105.54 L166.32 107.21 L167.61 108.83 L168.9 110.38 L170.19 111.87 L171.48 113.31 L172.77 114.68 L174.06 116.01 L175.35 117.28 L176.64 118.5 L177.93 119.67 L179.21 120.79 L180.5 121.86 L181.79 122.88 L183.08 123.86 L184.37 124.8 L185.66 125.7 L186.95 126.55 L188.24 127.37 L189.53 128.14 L190.82 128.88 L192.11 129.59 L193.4 130.26 L194.68 130.89 L195.97 131.5 L197.26 132.08 L198.55 132.62 L199.84 133.14 L201.13 133.63 L202.42 134.1 L203.71 134.54 L205 134.96 L206.29 135.35 L207.58 135.73 L208.87 136.08 L210.16 136.41 L211.44 136.73 L212.73 137.03 L214.02 137.31 L215.31 137.57 L216.6 137.82 L217.89 138.05 L219.18 138.27 L220.47 138.48 L221.76 138.67 L223.05 138.86 L224.34 139.03 L225.63 139.19 L226.92 139.34 L228.2 139.48 L229.49 139.61 L230.78 139.73 L232.07 139.85 L233.36 139.96 L234.65 140.06 L235.94 140.15 L237.23 140.24 L238.52 140.32 L239.81 140.4 L241.1 140.47 L242.39 140.54 L243.67 140.6 L244.96 140.66 L246.25 140.71 L247.54 140.76 L248.83 140.8 L250.12 140.85 L251.41 140.89 L252.7 140.92 L253.99 140.96 L255.28 140.99 L256.57 141.02 L257.86 141.04 L259.15 141.07 L260.43 141.09 L261.72 141.11 L263.01 141.13 L264.3 141.15 L265.59 141.17 L266.88 141.18 L268.17 141.2 L269.46 141.21 L270.75 141.22 L272.04 141.23 L273.33 141.24 L274.62 141.25 L275.91 141.26 L277.19 141.27 L278.48 141.28 L279.77 141.28 L281.06 141.29 L282.35 141.29 L283.64 141.3 L284.93 141.3 L286.22 141.31 L287.51 141.31 L288.8 141.32 L290.09 141.32 L291.38 141.32 L292.66 141.32 L293.95 141.33 L295.24 141.33 L296.53 141.33 L297.82 141.33 L299.11 141.33 L300.4 141.34" stroke="#ff0000" stroke-width="1.5" fill="none" stroke-dasharray="3.3 4.7"/>
<path d="M121.2 7.35 L122.49 11.24 L123.78 15.06 L125.07 18.82 L126.36 22.52 L127.65 26.15 L128.94 29.72 L130.22 33.22 L131.51 36.65 L132.8 40.02 L134.09 43.31 L135.38 46.54 L136.67 49.7 L137.96 52.79 L139.25 55.81 L140.54 58.76 L141.83 61.64 L143.12 64.45 L144.41 67.19 L145.69 69.87 L146.98 72.47 L148.27 75.01 L149.56 77.48 L150.85 79.88 L152.14 82.22 L153.43 84.49 L154.72 86.69 L156.01 88.83 L157.3 90.91 L158.59 92.92 L159.88 94.88 L161.17 96.77 L162.45 98.6 L163.74 100.38 L165.03 102.09 L166.32 103.75 L167.61 105.36 L168.9 106.91 L170.19 108.4 L171.48 109.85 L172.77 111.24 L174.06 112.58 L175.35 113.88 L176.64 115.12 L177.93 116.32 L179.21 117.48 L180.5 118.59 L181.79 119.66 L183.08 120.68 L184.37 121.67 L185.66 122.61 L186.95 123.52 L188.24 124.39 L189.53 125.23 L190.82 126.03 L192.11 126.79 L193.4 127.53 L194.68 128.23 L195.97 128.9 L197.26 129.54 L198.55 130.15 L199.84 130.74 L201.13 131.3 L202.42 131.83 L203.71 132.34 L205 132.83 L206.29 133.29 L207.58 133.73 L208.87 134.15 L210.16 134.55 L211.44 134.93 L212.73 135.29 L214.02 135.63 L215.31 135.95 L216.6 136.26 L217.89 136.56 L219.18 136.84 L220.47 137.1 L221.76 137.35 L223.05 137.59 L224.34 137.81 L225.63 138.02 L226.92 138.22 L228.2 138.41 L229.49 138.59 L230.78 138.76 L232.07 138.92 L233.36 139.07 L234.65 139.22 L235.94 139.35 L237.23 139.48 L238.52 139.6 L239.81 139.71 L241.1 139.81 L242.39 139.91 L243.67 140.01 L244.96 140.1 L246.25 140.18 L247.54 140.26 L248.83 140.33 L250.12 140.4 L251.41 140.46 L252.7 140.52 L253.99 140.58 L255.28 140.63 L256.57 140.68 L257.86 140.73 L259.15 140.77 L260.43 140.81 L261.72 140.85 L263.01 140.89 L264.3 140.92 L265.59 140.95 L266.88 140.98 L268.17 141.01 L269.46 141.03 L270.75 141.05 L272.04 141.08 L273.33 141.1 L274.62 141.11 L275.91 141.13 L277.19 141.15 L278.48 141.16 L279.77 141.18 L281.06 141.19 L282.35 141.2 L283.64 141.21 L284.93 141.22 L286.22 141.23 L287.51 141.24 L288.8 141.25 L290.09 141.26 L291.38 141.27 L292.66 141.27 L293.95 141.28 L295.24 141.29 L296.53 141.29 L297.82 141.3 L299.11 141.3 L300.4 141.3" stroke="#ff0000" stroke-width="1.5" fill="none" stroke-dasharray="3.3 4.7"/>
<path d="M121.2 7.35 L122.49 11.72 L123.78 16.06 L125.07 20.37 L126.36 24.63 L127.65 28.84 L128.94 32.99 L130.22 37.08 L131.51 41.11 L132.8 45.07 L134.09 48.95 L135.38 52.76 L136.67 56.48 L137.96 60.12 L139.25 63.67 L140.54 67.13 L141.83 70.51 L143.12 73.78 L144.41 76.97 L145.69 80.06 L146.98 83.05 L148.27 85.94 L149.56 88.74 L150.85 91.44 L152.14 94.05 L153.43 96.55 L154.72 98.97 L156.01 101.29 L157.3 103.51 L158.59 105.64 L159.88 107.69 L161.17 109.64 L162.45 111.51 L163.74 113.29 L165.03 114.99 L166.32 116.61 L167.61 118.15 L168.9 119.61 L170.19 121 L171.48 122.32 L172.77 123.56 L174.06 124.75 L175.35 125.86 L176.64 126.91 L177.93 127.91 L179.21 128.85 L180.5 129.73 L181.79 130.56 L183.08 131.34 L184.37 132.07 L185.66 132.75 L186.95 133.39 L188.24 133.99 L189.53 134.55 L190.82 135.08 L192.11 135.57 L193.4 136.02 L194.68 136.45 L195.97 136.84 L197.26 137.21 L198.55 137.55 L199.84 137.86 L201.13 138.15 L202.42 138.42 L203.71 138.67 L205 138.9 L206.29 139.12 L207.58 139.31 L208.87 139.49 L210.16 139.66 L211.44 139.81 L212.73 139.95 L214.02 140.08 L215.31 140.2 L216.6 140.3 L217.89 140.4 L219.18 140.49 L220.47 140.57 L221.76 140.65 L223.05 140.72 L224.34 140.78 L225.63 140.84 L226.92 140.89 L228.2 140.93 L229.49 140.98 L230.78 141.01 L232.07 141.05 L233.36 141.08 L234.65 141.11 L235.94 141.13 L237.23 141.16 L238.52 141.18 L239.81 141.2 L241.1 141.21 L242.39 141.23 L243.67 141.24 L244.96 141.25 L246.25 141.26 L247.54 141.27 L248.83 141.28 L250.12 141.29 L251.41 141.3 L252.7 141.3 L253.99 141.31 L255.28 141.31 L256.57 141.32 L257.86 141.32 L259.15 141.32 L260.43 141.33 L261.72 141.33 L263.01 141.33 L264.3 141.34 L265.59 141.34 L266.88 141.34 L268.17 141.34 L269.46 141.34 L270.75 141.34 L272.04 141.34 L273.33 141.34 L274.62 141.34 L275.91 141.35 L277.19 141.35 L278.48 141.35 L279.77 141.35 L281.06 141.35 L282.35 141.35 L283.64 141.35 L284.93 141.35 L286.22 141.35 L287.51 141.35 L288.8 141.35 L290.09 141.35 L291.38 141.35 L292.66 141.35 L293.95 141.35 L295.24 141.35 L296.53 141.35 L297.82 141.35 L299.11 141.35 L300.4 141.35" stroke="#000000" stroke-width="2.0" fill="none" stroke-dasharray="3.4 1.2 2.2 1.2"/>
<path d="M121.2 7.35 L122.49 11.61 L123.78 15.83 L125.07 20.01 L126.36 24.14 L127.65 28.22 L128.94 32.24 L130.22 36.2 L131.51 40.1 L132.8 43.93 L134.09 47.68 L135.38 51.36 L136.67 54.96 L137.96 58.48 L139.25 61.92 L140.54 65.28 L141.83 68.55 L143.12 71.74 L144.41 74.83 L145.69 77.84 L146.98 80.76 L148.27 83.59 L149.56 86.33 L150.85 88.98 L152.14 91.55 L153.43 94.02 L154.72 96.41 L156.01 98.7 L157.3 100.92 L158.59 103.04 L159.88 105.09 L161.17 107.05 L162.45 108.93 L163.74 110.73 L165.03 112.45 L166.32 114.1 L167.61 115.67 L168.9 117.18 L170.19 118.61 L171.48 119.97 L172.77 121.27 L174.06 122.5 L175.35 123.67 L176.64 124.78 L177.93 125.84 L179.21 126.83 L180.5 127.78 L181.79 128.67 L183.08 129.51 L184.37 130.31 L185.66 131.06 L186.95 131.76 L188.24 132.43 L189.53 133.06 L190.82 133.64 L192.11 134.19 L193.4 134.71 L194.68 135.2 L195.97 135.65 L197.26 136.07 L198.55 136.47 L199.84 136.84 L201.13 137.19 L202.42 137.51 L203.71 137.81 L205 138.09 L206.29 138.35 L207.58 138.59 L208.87 138.81 L210.16 139.02 L211.44 139.21 L212.73 139.39 L214.02 139.55 L215.31 139.7 L216.6 139.84 L217.89 139.97 L219.18 140.09 L220.47 140.2 L221.76 140.3 L223.05 140.4 L224.34 140.48 L225.63 140.56 L226.92 140.63 L228.2 140.7 L229.49 140.76 L230.78 140.81 L232.07 140.86 L233.36 140.91 L234.65 140.95 L235.94 140.99 L237.23 141.02 L238.52 141.06 L239.81 141.08 L241.1 141.11 L242.39 141.13 L243.67 141.16 L244.96 141.18 L246.25 141.19 L247.54 141.21 L248.83 141.22 L250.12 141.24 L251.41 141.25 L252.7 141.26 L253.99 141.27 L255.28 141.28 L256.57 141.28 L257.86 141.29 L259.15 141.3 L260.43 141.3 L261.72 141.31 L263.01 141.31 L264.3 141.32 L265.59 141.32 L266.88 141.32 L268.17 141.33 L269.46 141.33 L270.75 141.33 L272.04 141.33 L273.33 141.34 L274.62 141.34 L275.91 141.34 L277.19 141.34 L278.48 141.34 L279.77 141.34 L281.06 141.34 L282.35 141.34 L283.64 141.34 L284.93 141.35 L286.22 141.35 L287.51 141.35 L288.8 141.35 L290.09 141.35 L291.38 141.35 L292.66 141.35 L293.95 141.35 L295.24 141.35 L296.53 141.35 L297.82 141.35 L299.11 141.35 L300.4 141.35" stroke="#000000" stroke-width="2.0" fill="none" stroke-dasharray="3.4 1.2 2.2 1.2"/>
<path d="M121.2 7.35 L122.49 11.5 L123.78 15.6 L125.07 19.66 L126.36 23.66 L127.65 27.61 L128.94 31.49 L130.22 35.32 L131.51 39.08 L132.8 42.77 L134.09 46.39 L135.38 49.94 L136.67 53.42 L137.96 56.81 L139.25 60.14 L140.54 63.38 L141.83 66.54 L143.12 69.63 L144.41 72.63 L145.69 75.55 L146.98 78.39 L148.27 81.14 L149.56 83.81 L150.85 86.4 L152.14 88.91 L153.43 91.34 L154.72 93.69 L156.01 95.95 L157.3 98.14 L158.59 100.25 L159.88 102.29 L161.17 104.24 L162.45 106.12 L163.74 107.93 L165.03 109.67 L166.32 111.34 L167.61 112.94 L168.9 114.47 L170.19 115.93 L171.48 117.33 L172.77 118.67 L174.06 119.95 L175.35 121.17 L176.64 122.33 L177.93 123.44 L179.21 124.5 L180.5 125.5 L181.79 126.45 L183.08 127.36 L184.37 128.22 L185.66 129.03 L186.95 129.8 L188.24 130.53 L189.53 131.23 L190.82 131.88 L192.11 132.5 L193.4 133.08 L194.68 133.63 L195.97 134.14 L197.26 134.63 L198.55 135.09 L199.84 135.52 L201.13 135.93 L202.42 136.31 L203.71 136.66 L205 137 L206.29 137.31 L207.58 137.6 L208.87 137.88 L210.16 138.13 L211.44 138.37 L212.73 138.6 L214.02 138.8 L215.31 139 L216.6 139.18 L217.89 139.35 L219.18 139.5 L220.47 139.65 L221.76 139.78 L223.05 139.91 L224.34 140.03 L225.63 140.13 L226.92 140.23 L228.2 140.32 L229.49 140.41 L230.78 140.49 L232.07 140.56 L233.36 140.63 L234.65 140.69 L235.94 140.75 L237.23 140.8 L238.52 140.85 L239.81 140.89 L241.1 140.93 L242.39 140.97 L243.67 141 L244.96 141.03 L246.25 141.06 L247.54 141.09 L248.83 141.11 L250.12 141.14 L251.41 141.16 L252.7 141.17 L253.99 141.19 L255.28 141.21 L256.57 141.22 L257.86 141.23 L259.15 141.24 L260.43 141.25 L261.72 141.26 L263.01 141.27 L264.3 141.28 L265.59 141.29 L266.88 141.29 L268.17 141.3 L269.46 141.3 L270.75 141.31 L272.04 141.31 L273.33 141.32 L274.62 141.32 L275.91 141.32 L277.19 141.33 L278.48 141.33 L279.77 141.33 L281.06 141.33 L282.35 141.33 L283.64 141.34 L284.93 141.34 L286.22 141.34 L287.51 141.34 L288.8 141.34 L290.09 141.34 L291.38 141.34 L292.66 141.34 L293.95 141.34 L295.24 141.35 L296.53 141.35 L297.82 141.35 L299.11 141.35 L300.4 141.35" stroke="#000000" stroke-width="2.0" fill="none" stroke-dasharray="3.4 1.2 2.2 1.2"/>
<path d="M121.2 7.35 L122.49 11.39 L123.78 15.37 L125.07 19.3 L126.36 23.17 L127.65 26.99 L128.94 30.74 L130.22 34.42 L131.51 38.05 L132.8 41.6 L134.09 45.08 L135.38 48.5 L136.67 51.84 L137.96 55.11 L139.25 58.31 L140.54 61.43 L141.83 64.48 L143.12 67.45 L144.41 70.35 L145.69 73.17 L146.98 75.92 L148.27 78.59 L149.56 81.18 L150.85 83.7 L152.14 86.14 L153.43 88.51 L154.72 90.81 L156.01 93.03 L157.3 95.18 L158.59 97.26 L159.88 99.27 L161.17 101.21 L162.45 103.08 L163.74 104.88 L165.03 106.62 L166.32 108.3 L167.61 109.91 L168.9 111.45 L170.19 112.94 L171.48 114.37 L172.77 115.74 L174.06 117.06 L175.35 118.32 L176.64 119.52 L177.93 120.68 L179.21 121.78 L180.5 122.84 L181.79 123.85 L183.08 124.81 L184.37 125.73 L185.66 126.61 L186.95 127.44 L188.24 128.24 L189.53 128.99 L190.82 129.71 L192.11 130.39 L193.4 131.04 L194.68 131.66 L195.97 132.24 L197.26 132.79 L198.55 133.32 L199.84 133.81 L201.13 134.28 L202.42 134.73 L203.71 135.15 L205 135.54 L206.29 135.92 L207.58 136.27 L208.87 136.6 L210.16 136.92 L211.44 137.21 L212.73 137.49 L214.02 137.75 L215.31 137.99 L216.6 138.22 L217.89 138.44 L219.18 138.64 L220.47 138.83 L221.76 139.01 L223.05 139.18 L224.34 139.33 L225.63 139.48 L226.92 139.61 L228.2 139.74 L229.49 139.86 L230.78 139.97 L232.07 140.07 L233.36 140.17 L234.65 140.26 L235.94 140.34 L237.23 140.42 L238.52 140.49 L239.81 140.56 L241.1 140.62 L242.39 140.68 L243.67 140.73 L244.96 140.78 L246.25 140.83 L247.54 140.87 L248.83 140.91 L250.12 140.94 L251.41 140.98 L252.7 141.01 L253.99 141.04 L255.28 141.06 L256.57 141.09 L257.86 141.11 L259.15 141.13 L260.43 141.15 L261.72 141.17 L263.01 141.18 L264.3 141.2 L265.59 141.21 L266.88 141.22 L268.17 141.23 L269.46 141.24 L270.75 141.25 L272.04 141.26 L273.33 141.27 L274.62 141.28 L275.91 141.28 L277.19 141.29 L278.48 141.3 L279.77 141.3 L281.06 141.31 L282.35 141.31 L283.64 141.31 L284.93 141.32 L286.22 141.32 L287.51 141.32 L288.8 141.33 L290.09 141.33 L291.38 141.33 L292.66 141.33 L293.95 141.33 L295.24 141.34 L296.53 141.34 L297.82 141.34 L299.11 141.34 L300.4 141.34" stroke="#000000" stroke-width="2.0" fill="none" stroke-dasharray="3.4 1.2 2.2 1.2"/>
<path d="M121.2 7.35 L122.49 11.27 L123.78 15.14 L125.07 18.94 L126.36 22.68 L127.65 26.36 L128.94 29.97 L130.22 33.52 L131.51 37 L132.8 40.42 L134.09 43.76 L135.38 47.04 L136.67 50.24 L137.96 53.38 L139.25 56.44 L140.54 59.44 L141.83 62.36 L143.12 65.21 L144.41 68 L145.69 70.71 L146.98 73.35 L148.27 75.92 L149.56 78.42 L150.85 80.86 L152.14 83.22 L153.43 85.52 L154.72 87.75 L156.01 89.91 L157.3 92.01 L158.59 94.05 L159.88 96.02 L161.17 97.92 L162.45 99.77 L163.74 101.55 L165.03 103.28 L166.32 104.94 L167.61 106.55 L168.9 108.1 L170.19 109.6 L171.48 111.04 L172.77 112.43 L174.06 113.77 L175.35 115.06 L176.64 116.3 L177.93 117.49 L179.21 118.64 L180.5 119.74 L181.79 120.79 L183.08 121.8 L184.37 122.77 L185.66 123.7 L186.95 124.6 L188.24 125.45 L189.53 126.26 L190.82 127.05 L192.11 127.79 L193.4 128.5 L194.68 129.19 L195.97 129.84 L197.26 130.46 L198.55 131.05 L199.84 131.61 L201.13 132.15 L202.42 132.66 L203.71 133.14 L205 133.61 L206.29 134.05 L207.58 134.46 L208.87 134.86 L210.16 135.24 L211.44 135.59 L212.73 135.93 L214.02 136.25 L215.31 136.56 L216.6 136.85 L217.89 137.12 L219.18 137.38 L220.47 137.62 L221.76 137.85 L223.05 138.07 L224.34 138.27 L225.63 138.47 L226.92 138.65 L228.2 138.82 L229.49 138.99 L230.78 139.14 L232.07 139.28 L233.36 139.42 L234.65 139.54 L235.94 139.66 L237.23 139.78 L238.52 139.88 L239.81 139.98 L241.1 140.07 L242.39 140.16 L243.67 140.24 L244.96 140.32 L246.25 140.39 L247.54 140.46 L248.83 140.52 L250.12 140.58 L251.41 140.64 L252.7 140.69 L253.99 140.73 L255.28 140.78 L256.57 140.82 L257.86 140.86 L259.15 140.9 L260.43 140.93 L261.72 140.96 L263.01 140.99 L264.3 141.02 L265.59 141.04 L266.88 141.07 L268.17 141.09 L269.46 141.11 L270.75 141.13 L272.04 141.14 L273.33 141.16 L274.62 141.17 L275.91 141.19 L277.19 141.2 L278.48 141.21 L279.77 141.22 L281.06 141.23 L282.35 141.24 L283.64 141.25 L284.93 141.26 L286.22 141.27 L287.51 141.27 L288.8 141.28 L290.09 141.29 L291.38 141.29 L292.66 141.3 L293.95 141.3 L295.24 141.31 L296.53 141.31 L297.82 141.31 L299.11 141.32 L300.4 141.32" stroke="#000000" stroke-width="2.0" fill="none" stroke-dasharray="3.4 1.2 2.2 1.2"/>
<path d="M121.2 7.35 L122.49 11.23 L123.78 15.05 L125.07 18.8 L126.36 22.49 L127.65 26.11 L128.94 29.67 L130.22 33.16 L131.51 36.58 L132.8 39.94 L134.09 43.23 L135.38 46.44 L136.67 49.59 L137.96 52.67 L139.25 55.68 L140.54 58.62 L141.83 61.5 L143.12 64.3 L144.41 67.03 L145.69 69.7 L146.98 72.3 L148.27 74.83 L149.56 77.29 L150.85 79.68 L152.14 82.01 L153.43 84.28 L154.72 86.48 L156.01 88.61 L157.3 90.69 L158.59 92.7 L159.88 94.65 L161.17 96.54 L162.45 98.37 L163.74 100.14 L165.03 101.85 L166.32 103.51 L167.61 105.11 L168.9 106.66 L170.19 108.16 L171.48 109.6 L172.77 110.99 L174.06 112.34 L175.35 113.63 L176.64 114.88 L177.93 116.08 L179.21 117.24 L180.5 118.35 L181.79 119.42 L183.08 120.45 L184.37 121.44 L185.66 122.39 L186.95 123.3 L188.24 124.17 L189.53 125.01 L190.82 125.82 L192.11 126.59 L193.4 127.32 L194.68 128.03 L195.97 128.7 L197.26 129.35 L198.55 129.97 L199.84 130.56 L201.13 131.12 L202.42 131.66 L203.71 132.17 L205 132.66 L206.29 133.13 L207.58 133.57 L208.87 134 L210.16 134.4 L211.44 134.78 L212.73 135.15 L214.02 135.5 L215.31 135.83 L216.6 136.14 L217.89 136.44 L219.18 136.72 L220.47 136.99 L221.76 137.24 L223.05 137.48 L224.34 137.71 L225.63 137.93 L226.92 138.13 L228.2 138.32 L229.49 138.51 L230.78 138.68 L232.07 138.84 L233.36 139 L234.65 139.14 L235.94 139.28 L237.23 139.41 L238.52 139.53 L239.81 139.65 L241.1 139.76 L242.39 139.86 L243.67 139.95 L244.96 140.05 L246.25 140.13 L247.54 140.21 L248.83 140.29 L250.12 140.36 L251.41 140.42 L252.7 140.49 L253.99 140.54 L255.28 140.6 L256.57 140.65 L257.86 140.7 L259.15 140.74 L260.43 140.78 L261.72 140.82 L263.01 140.86 L264.3 140.9 L265.59 140.93 L266.88 140.96 L268.17 140.99 L269.46 141.01 L270.75 141.04 L272.04 141.06 L273.33 141.08 L274.62 141.1 L275.91 141.12 L277.19 141.14 L278.48 141.15 L279.77 141.17 L281.06 141.18 L282.35 141.19 L283.64 141.21 L284.93 141.22 L286.22 141.23 L287.51 141.24 L288.8 141.24 L290.09 141.25 L291.38 141.26 L292.66 141.27 L293.95 141.27 L295.24 141.28 L296.53 141.29 L297.82 141.29 L299.11 141.3 L300.4 141.3" stroke="#ff0000" stroke-width="1.2" fill="none" stroke-dasharray="4.4 3.6"/>
<path d="M228.72 139.92 L230.18 140.05 L231.65 140.16 L233.11 140.26 L234.57 140.36 L236.03 140.45 L237.5 140.53 L238.96 140.6 L240.42 140.67 L241.89 140.73 L243.35 140.79 L244.81 140.84 L246.27 140.89 L247.74 140.93 L249.2 140.97 L250.66 141.01 L252.13 141.04 L253.59 141.07 L255.05 141.1 L256.51 141.12 L257.98 141.14 L259.44 141.16 L260.9 141.18 L262.37 141.2 L263.83 141.21 L265.29 141.23 L266.75 141.24 L268.22 141.25 L269.68 141.26 L271.14 141.27 L272.61 141.28 L274.07 141.29 L275.53 141.29 L276.99 141.3 L278.46 141.31 L279.92 141.31 L281.38 141.31 L282.85 141.32 L284.31 141.32 L285.77 141.32 L287.23 141.33 L288.7 141.33 L290.16 141.33 L291.62 141.33 L293.09 141.34 L294.55 141.34 L296.01 141.34 L297.47 141.34 L298.94 141.34 L300.4 141.34" stroke="#000" stroke-width="1.8" fill="none"/>
</g>
<path d="M121.2 7.35 V141.35 H300.4" stroke="#3c3c3c" stroke-width="0.9" fill="none"/>
<path d="M121.2 141.35 v-2 M172.4 141.35 v-2 M223.6 141.35 v-2 M274.8 141.35 v-2 M121.2 141.35 h2 M121.2 114.55 h2 M121.2 87.75 h2 M121.2 60.95 h2 M121.2 34.15 h2 M121.2 7.35 h2 " stroke="#3c3c3c" stroke-width="0.8" fill="none"/>
<text x="121.2" y="155.05" text-anchor="middle" class="tk" font-size="10">0</text>
<text x="172.4" y="155.05" text-anchor="middle" class="tk" font-size="10">1</text>
<text x="223.6" y="155.05" text-anchor="middle" class="tk" font-size="10">2</text>
<text x="274.8" y="155.05" text-anchor="middle" class="tk" font-size="10">3</text>
<text x="118" y="145.55" text-anchor="end" class="tk" font-size="10">0</text>
<text x="117.2" y="117.95" text-anchor="end" class="tk" font-size="10">0.2</text>
<text x="117.2" y="91.15" text-anchor="end" class="tk" font-size="10">0.4</text>
<text x="117.2" y="64.35" text-anchor="end" class="tk" font-size="10">0.6</text>
<text x="117.2" y="37.55" text-anchor="end" class="tk" font-size="10">0.8</text>
<text x="117.2" y="10.75" text-anchor="end" class="tk" font-size="10">1</text>
<g clip-path="url(#cBi)">
<path d="M495.5 7.6 L496.82 12.83 L498.15 17.98 L499.47 23.04 L500.79 27.99 L502.12 32.85 L503.44 37.59 L504.77 42.22 L506.09 46.73 L507.41 51.12 L508.74 55.38 L510.06 59.52 L511.38 63.52 L512.71 67.39 L514.03 71.13 L515.36 74.74 L516.68 78.21 L518 81.55 L519.33 84.76 L520.65 87.83 L521.97 90.77 L523.3 93.59 L524.62 96.28 L525.95 98.85 L527.27 101.29 L528.59 103.61 L529.92 105.82 L531.24 107.92 L532.56 109.9 L533.89 111.78 L535.21 113.56 L536.54 115.23 L537.86 116.81 L539.18 118.3 L540.51 119.7 L541.83 121.01 L543.15 122.24 L544.48 123.4 L545.8 124.48 L547.13 125.49 L548.45 126.43 L549.77 127.31 L551.1 128.13 L552.42 128.89 L553.74 129.59 L555.07 130.25 L556.39 130.86 L557.72 131.42 L559.04 131.94 L560.36 132.42 L561.69 132.86 L563.01 133.27 L564.33 133.64 L565.66 133.99 L566.98 134.3 L568.31 134.59 L569.63 134.86 L570.95 135.1 L572.28 135.32 L573.6 135.52 L574.92 135.71 L576.25 135.88 L577.57 136.03 L578.9 136.17 L580.22 136.29 L581.54 136.41 L582.87 136.51 L584.19 136.6 L585.51 136.69 L586.84 136.77 L588.16 136.83 L589.49 136.9 L590.81 136.95 L592.13 137 L593.46 137.04 L594.78 137.08 L596.1 137.12 L597.43 137.15 L598.75 137.18 L600.08 137.21 L601.4 137.23 L602.72 137.25 L604.05 137.27 L605.37 137.28 L606.69 137.3 L608.02 137.31 L609.34 137.32 L610.67 137.33 L611.99 137.34 L613.31 137.35 L614.64 137.35 L615.96 137.36 L617.28 137.36 L618.61 137.37 L619.93 137.37 L621.26 137.38 L622.58 137.38 L623.9 137.38 L625.23 137.38 L626.55 137.39 L627.87 137.39 L629.2 137.39 L630.52 137.39 L631.85 137.39 L633.17 137.39 L634.49 137.39 L635.82 137.4 L637.14 137.4 L638.46 137.4 L639.79 137.4 L641.11 137.4 L642.44 137.4 L643.76 137.4 L645.08 137.4 L646.41 137.4 L647.73 137.4 L649.05 137.4 L650.38 137.4 L651.7 137.4 L653.03 137.4 L654.35 137.4 L655.67 137.4 L657 137.4 L658.32 137.4 L659.64 137.4 L660.97 137.4 L662.29 137.4 L663.62 137.4 L664.94 137.4 L666.26 137.4 L667.59 137.4 L668.91 137.4 L670.23 137.4 L671.56 137.4 L672.88 137.4 L674.21 137.4 L675.53 137.4 L676.85 137.4 L678.18 137.4 L679.5 137.4" stroke="#00ff00" stroke-width="1.8" fill="none"/>
<path d="M495.5 7.6 L496.82 12.62 L498.15 17.55 L499.47 22.38 L500.79 27.13 L502.12 31.77 L503.44 36.31 L504.77 40.74 L506.09 45.07 L507.41 49.27 L508.74 53.37 L510.06 57.34 L511.38 61.2 L512.71 64.93 L514.03 68.55 L515.36 72.04 L516.68 75.41 L518 78.66 L519.33 81.8 L520.65 84.81 L521.97 87.7 L523.3 90.48 L524.62 93.14 L525.95 95.69 L527.27 98.13 L528.59 100.46 L529.92 102.68 L531.24 104.8 L532.56 106.81 L533.89 108.73 L535.21 110.55 L536.54 112.28 L537.86 113.92 L539.18 115.47 L540.51 116.94 L541.83 118.33 L543.15 119.63 L544.48 120.87 L545.8 122.03 L547.13 123.12 L548.45 124.15 L549.77 125.12 L551.1 126.02 L552.42 126.87 L553.74 127.66 L555.07 128.4 L556.39 129.1 L557.72 129.74 L559.04 130.34 L560.36 130.91 L561.69 131.43 L563.01 131.91 L564.33 132.36 L565.66 132.78 L566.98 133.17 L568.31 133.52 L569.63 133.85 L570.95 134.16 L572.28 134.44 L573.6 134.7 L574.92 134.94 L576.25 135.16 L577.57 135.36 L578.9 135.55 L580.22 135.72 L581.54 135.87 L582.87 136.02 L584.19 136.15 L585.51 136.27 L586.84 136.38 L588.16 136.47 L589.49 136.57 L590.81 136.65 L592.13 136.72 L593.46 136.79 L594.78 136.85 L596.1 136.91 L597.43 136.96 L598.75 137 L600.08 137.04 L601.4 137.08 L602.72 137.12 L604.05 137.15 L605.37 137.17 L606.69 137.2 L608.02 137.22 L609.34 137.24 L610.67 137.26 L611.99 137.27 L613.31 137.29 L614.64 137.3 L615.96 137.31 L617.28 137.32 L618.61 137.33 L619.93 137.34 L621.26 137.35 L622.58 137.35 L623.9 137.36 L625.23 137.36 L626.55 137.37 L627.87 137.37 L629.2 137.37 L630.52 137.38 L631.85 137.38 L633.17 137.38 L634.49 137.39 L635.82 137.39 L637.14 137.39 L638.46 137.39 L639.79 137.39 L641.11 137.39 L642.44 137.39 L643.76 137.39 L645.08 137.4 L646.41 137.4 L647.73 137.4 L649.05 137.4 L650.38 137.4 L651.7 137.4 L653.03 137.4 L654.35 137.4 L655.67 137.4 L657 137.4 L658.32 137.4 L659.64 137.4 L660.97 137.4 L662.29 137.4 L663.62 137.4 L664.94 137.4 L666.26 137.4 L667.59 137.4 L668.91 137.4 L670.23 137.4 L671.56 137.4 L672.88 137.4 L674.21 137.4 L675.53 137.4 L676.85 137.4 L678.18 137.4 L679.5 137.4" stroke="#00ff00" stroke-width="1.8" fill="none"/>
<path d="M495.5 7.6 L496.82 12.4 L498.15 17.11 L499.47 21.73 L500.79 26.26 L502.12 30.69 L503.44 35.02 L504.77 39.24 L506.09 43.37 L507.41 47.39 L508.74 51.3 L510.06 55.1 L511.38 58.8 L512.71 62.38 L514.03 65.86 L515.36 69.23 L516.68 72.48 L518 75.63 L519.33 78.67 L520.65 81.6 L521.97 84.43 L523.3 87.15 L524.62 89.76 L525.95 92.28 L527.27 94.69 L528.59 97.01 L529.92 99.22 L531.24 101.35 L532.56 103.38 L533.89 105.32 L535.21 107.17 L536.54 108.94 L537.86 110.62 L539.18 112.23 L540.51 113.75 L541.83 115.2 L543.15 116.58 L544.48 117.88 L545.8 119.12 L547.13 120.29 L548.45 121.4 L549.77 122.45 L551.1 123.44 L552.42 124.37 L553.74 125.25 L555.07 126.08 L556.39 126.86 L557.72 127.6 L559.04 128.29 L560.36 128.94 L561.69 129.54 L563.01 130.11 L564.33 130.65 L565.66 131.15 L566.98 131.61 L568.31 132.05 L569.63 132.46 L570.95 132.84 L572.28 133.19 L573.6 133.52 L574.92 133.82 L576.25 134.11 L577.57 134.37 L578.9 134.62 L580.22 134.84 L581.54 135.05 L582.87 135.25 L584.19 135.43 L585.51 135.59 L586.84 135.75 L588.16 135.89 L589.49 136.02 L590.81 136.14 L592.13 136.25 L593.46 136.35 L594.78 136.45 L596.1 136.53 L597.43 136.61 L598.75 136.68 L600.08 136.75 L601.4 136.81 L602.72 136.86 L604.05 136.91 L605.37 136.96 L606.69 137 L608.02 137.04 L609.34 137.07 L610.67 137.11 L611.99 137.14 L613.31 137.16 L614.64 137.18 L615.96 137.21 L617.28 137.23 L618.61 137.24 L619.93 137.26 L621.26 137.27 L622.58 137.29 L623.9 137.3 L625.23 137.31 L626.55 137.32 L627.87 137.33 L629.2 137.34 L630.52 137.34 L631.85 137.35 L633.17 137.35 L634.49 137.36 L635.82 137.36 L637.14 137.37 L638.46 137.37 L639.79 137.37 L641.11 137.38 L642.44 137.38 L643.76 137.38 L645.08 137.38 L646.41 137.39 L647.73 137.39 L649.05 137.39 L650.38 137.39 L651.7 137.39 L653.03 137.39 L654.35 137.39 L655.67 137.39 L657 137.39 L658.32 137.4 L659.64 137.4 L660.97 137.4 L662.29 137.4 L663.62 137.4 L664.94 137.4 L666.26 137.4 L667.59 137.4 L668.91 137.4 L670.23 137.4 L671.56 137.4 L672.88 137.4 L674.21 137.4 L675.53 137.4 L676.85 137.4 L678.18 137.4 L679.5 137.4" stroke="#00ff00" stroke-width="1.8" fill="none"/>
<path d="M495.5 7.6 L496.82 12.18 L498.15 16.67 L499.47 21.07 L500.79 25.38 L502.12 29.59 L503.44 33.7 L504.77 37.72 L506.09 41.64 L507.41 45.46 L508.74 49.18 L510.06 52.81 L511.38 56.33 L512.71 59.75 L514.03 63.07 L515.36 66.29 L516.68 69.42 L518 72.44 L519.33 75.37 L520.65 78.2 L521.97 80.94 L523.3 83.58 L524.62 86.13 L525.95 88.58 L527.27 90.95 L528.59 93.23 L529.92 95.42 L531.24 97.53 L532.56 99.56 L533.89 101.5 L535.21 103.36 L536.54 105.15 L537.86 106.86 L539.18 108.5 L540.51 110.06 L541.83 111.56 L543.15 112.99 L544.48 114.36 L545.8 115.66 L547.13 116.9 L548.45 118.08 L549.77 119.2 L551.1 120.27 L552.42 121.28 L553.74 122.25 L555.07 123.16 L556.39 124.03 L557.72 124.86 L559.04 125.63 L560.36 126.37 L561.69 127.07 L563.01 127.73 L564.33 128.35 L565.66 128.94 L566.98 129.49 L568.31 130.01 L569.63 130.51 L570.95 130.97 L572.28 131.4 L573.6 131.81 L574.92 132.2 L576.25 132.56 L577.57 132.9 L578.9 133.21 L580.22 133.51 L581.54 133.79 L582.87 134.05 L584.19 134.29 L585.51 134.52 L586.84 134.73 L588.16 134.93 L589.49 135.12 L590.81 135.29 L592.13 135.45 L593.46 135.6 L594.78 135.74 L596.1 135.87 L597.43 135.99 L598.75 136.1 L600.08 136.2 L601.4 136.3 L602.72 136.39 L604.05 136.47 L605.37 136.54 L606.69 136.62 L608.02 136.68 L609.34 136.74 L610.67 136.8 L611.99 136.85 L613.31 136.89 L614.64 136.94 L615.96 136.98 L617.28 137.01 L618.61 137.05 L619.93 137.08 L621.26 137.11 L622.58 137.13 L623.9 137.16 L625.23 137.18 L626.55 137.2 L627.87 137.22 L629.2 137.23 L630.52 137.25 L631.85 137.26 L633.17 137.28 L634.49 137.29 L635.82 137.3 L637.14 137.31 L638.46 137.32 L639.79 137.32 L641.11 137.33 L642.44 137.34 L643.76 137.34 L645.08 137.35 L646.41 137.35 L647.73 137.36 L649.05 137.36 L650.38 137.37 L651.7 137.37 L653.03 137.37 L654.35 137.38 L655.67 137.38 L657 137.38 L658.32 137.38 L659.64 137.38 L660.97 137.39 L662.29 137.39 L663.62 137.39 L664.94 137.39 L666.26 137.39 L667.59 137.39 L668.91 137.39 L670.23 137.39 L671.56 137.39 L672.88 137.39 L674.21 137.4 L675.53 137.4 L676.85 137.4 L678.18 137.4 L679.5 137.4" stroke="#00ff00" stroke-width="1.8" fill="none"/>
<path d="M495.5 7.6 L496.82 11.96 L498.15 16.23 L499.47 20.41 L500.79 24.49 L502.12 28.48 L503.44 32.37 L504.77 36.18 L506.09 39.88 L507.41 43.5 L508.74 47.02 L510.06 50.44 L511.38 53.78 L512.71 57.02 L514.03 60.17 L515.36 63.23 L516.68 66.2 L518 69.09 L519.33 71.88 L520.65 74.59 L521.97 77.22 L523.3 79.76 L524.62 82.21 L525.95 84.59 L527.27 86.89 L528.59 89.1 L529.92 91.25 L531.24 93.31 L532.56 95.31 L533.89 97.23 L535.21 99.08 L536.54 100.86 L537.86 102.57 L539.18 104.22 L540.51 105.81 L541.83 107.33 L543.15 108.79 L544.48 110.19 L545.8 111.54 L547.13 112.83 L548.45 114.06 L549.77 115.25 L551.1 116.38 L552.42 117.47 L553.74 118.5 L555.07 119.49 L556.39 120.44 L557.72 121.34 L559.04 122.21 L560.36 123.03 L561.69 123.81 L563.01 124.56 L564.33 125.27 L565.66 125.95 L566.98 126.59 L568.31 127.2 L569.63 127.79 L570.95 128.34 L572.28 128.86 L573.6 129.36 L574.92 129.83 L576.25 130.28 L577.57 130.71 L578.9 131.11 L580.22 131.49 L581.54 131.85 L582.87 132.19 L584.19 132.51 L585.51 132.81 L586.84 133.1 L588.16 133.37 L589.49 133.63 L590.81 133.87 L592.13 134.09 L593.46 134.31 L594.78 134.51 L596.1 134.7 L597.43 134.88 L598.75 135.04 L600.08 135.2 L601.4 135.35 L602.72 135.49 L604.05 135.62 L605.37 135.74 L606.69 135.85 L608.02 135.96 L609.34 136.06 L610.67 136.15 L611.99 136.24 L613.31 136.32 L614.64 136.4 L615.96 136.47 L617.28 136.54 L618.61 136.6 L619.93 136.66 L621.26 136.71 L622.58 136.77 L623.9 136.81 L625.23 136.86 L626.55 136.9 L627.87 136.93 L629.2 136.97 L630.52 137 L631.85 137.03 L633.17 137.06 L634.49 137.09 L635.82 137.11 L637.14 137.13 L638.46 137.16 L639.79 137.18 L641.11 137.19 L642.44 137.21 L643.76 137.22 L645.08 137.24 L646.41 137.25 L647.73 137.26 L649.05 137.28 L650.38 137.29 L651.7 137.3 L653.03 137.3 L654.35 137.31 L655.67 137.32 L657 137.33 L658.32 137.33 L659.64 137.34 L660.97 137.34 L662.29 137.35 L663.62 137.35 L664.94 137.36 L666.26 137.36 L667.59 137.36 L668.91 137.37 L670.23 137.37 L671.56 137.37 L672.88 137.38 L674.21 137.38 L675.53 137.38 L676.85 137.38 L678.18 137.38 L679.5 137.38" stroke="#00ff00" stroke-width="1.8" fill="none"/>
<path d="M495.5 7.6 L496.82 12.9 L498.15 18.12 L499.47 23.25 L500.79 28.28 L502.12 33.2 L503.44 38.01 L504.77 42.71 L506.09 47.28 L507.41 51.73 L508.74 56.04 L510.06 60.23 L511.38 64.28 L512.71 68.19 L514.03 71.97 L515.36 75.61 L516.68 79.11 L518 82.48 L519.33 85.71 L520.65 88.8 L521.97 91.76 L523.3 94.58 L524.62 97.28 L525.95 99.84 L527.27 102.28 L528.59 104.6 L529.92 106.8 L531.24 108.89 L532.56 110.86 L533.89 112.72 L535.21 114.48 L536.54 116.14 L537.86 117.69 L539.18 119.16 L540.51 120.53 L541.83 121.82 L543.15 123.02 L544.48 124.15 L545.8 125.2 L547.13 126.18 L548.45 127.1 L549.77 127.95 L551.1 128.74 L552.42 129.47 L553.74 130.15 L555.07 130.77 L556.39 131.35 L557.72 131.89 L559.04 132.38 L560.36 132.84 L561.69 133.26 L563.01 133.64 L564.33 133.99 L565.66 134.31 L566.98 134.61 L568.31 134.88 L569.63 135.12 L570.95 135.35 L572.28 135.55 L573.6 135.74 L574.92 135.91 L576.25 136.06 L577.57 136.2 L578.9 136.32 L580.22 136.44 L581.54 136.54 L582.87 136.63 L584.19 136.72 L585.51 136.79 L586.84 136.86 L588.16 136.92 L589.49 136.97 L590.81 137.02 L592.13 137.06 L593.46 137.1 L594.78 137.14 L596.1 137.17 L597.43 137.2 L598.75 137.22 L600.08 137.24 L601.4 137.26 L602.72 137.28 L604.05 137.29 L605.37 137.31 L606.69 137.32 L608.02 137.33 L609.34 137.34 L610.67 137.35 L611.99 137.35 L613.31 137.36 L614.64 137.36 L615.96 137.37 L617.28 137.37 L618.61 137.38 L619.93 137.38 L621.26 137.38 L622.58 137.38 L623.9 137.39 L625.23 137.39 L626.55 137.39 L627.87 137.39 L629.2 137.39 L630.52 137.39 L631.85 137.39 L633.17 137.4 L634.49 137.4 L635.82 137.4 L637.14 137.4 L638.46 137.4 L639.79 137.4 L641.11 137.4 L642.44 137.4 L643.76 137.4 L645.08 137.4 L646.41 137.4 L647.73 137.4 L649.05 137.4 L650.38 137.4 L651.7 137.4 L653.03 137.4 L654.35 137.4 L655.67 137.4 L657 137.4 L658.32 137.4 L659.64 137.4 L660.97 137.4 L662.29 137.4 L663.62 137.4 L664.94 137.4 L666.26 137.4 L667.59 137.4 L668.91 137.4 L670.23 137.4 L671.56 137.4 L672.88 137.4 L674.21 137.4 L675.53 137.4 L676.85 137.4 L678.18 137.4 L679.5 137.4" stroke="#ff0000" stroke-width="1.5" fill="none" stroke-dasharray="3.3 4.7"/>
<path d="M495.5 7.6 L496.82 12.69 L498.15 17.69 L499.47 22.6 L500.79 27.42 L502.12 32.13 L503.44 36.74 L504.77 41.24 L506.09 45.62 L507.41 49.89 L508.74 54.04 L510.06 58.07 L511.38 61.98 L512.71 65.76 L514.03 69.42 L515.36 72.95 L516.68 76.36 L518 79.64 L519.33 82.8 L520.65 85.84 L521.97 88.75 L523.3 91.54 L524.62 94.21 L525.95 96.77 L527.27 99.21 L528.59 101.54 L529.92 103.76 L531.24 105.87 L532.56 107.88 L533.89 109.79 L535.21 111.59 L536.54 113.31 L537.86 114.93 L539.18 116.46 L540.51 117.9 L541.83 119.27 L543.15 120.55 L544.48 121.76 L545.8 122.89 L547.13 123.96 L548.45 124.96 L549.77 125.89 L551.1 126.77 L552.42 127.59 L553.74 128.35 L555.07 129.07 L556.39 129.73 L557.72 130.35 L559.04 130.92 L560.36 131.45 L561.69 131.95 L563.01 132.41 L564.33 132.83 L565.66 133.22 L566.98 133.58 L568.31 133.92 L569.63 134.23 L570.95 134.51 L572.28 134.77 L573.6 135.01 L574.92 135.23 L576.25 135.43 L577.57 135.62 L578.9 135.78 L580.22 135.94 L581.54 136.08 L582.87 136.21 L584.19 136.32 L585.51 136.43 L586.84 136.53 L588.16 136.61 L589.49 136.69 L590.81 136.77 L592.13 136.83 L593.46 136.89 L594.78 136.94 L596.1 136.99 L597.43 137.04 L598.75 137.07 L600.08 137.11 L601.4 137.14 L602.72 137.17 L604.05 137.2 L605.37 137.22 L606.69 137.24 L608.02 137.26 L609.34 137.27 L610.67 137.29 L611.99 137.3 L613.31 137.31 L614.64 137.32 L615.96 137.33 L617.28 137.34 L618.61 137.35 L619.93 137.35 L621.26 137.36 L622.58 137.36 L623.9 137.37 L625.23 137.37 L626.55 137.38 L627.87 137.38 L629.2 137.38 L630.52 137.38 L631.85 137.39 L633.17 137.39 L634.49 137.39 L635.82 137.39 L637.14 137.39 L638.46 137.39 L639.79 137.39 L641.11 137.39 L642.44 137.4 L643.76 137.4 L645.08 137.4 L646.41 137.4 L647.73 137.4 L649.05 137.4 L650.38 137.4 L651.7 137.4 L653.03 137.4 L654.35 137.4 L655.67 137.4 L657 137.4 L658.32 137.4 L659.64 137.4 L660.97 137.4 L662.29 137.4 L663.62 137.4 L664.94 137.4 L666.26 137.4 L667.59 137.4 L668.91 137.4 L670.23 137.4 L671.56 137.4 L672.88 137.4 L674.21 137.4 L675.53 137.4 L676.85 137.4 L678.18 137.4 L679.5 137.4" stroke="#ff0000" stroke-width="1.5" fill="none" stroke-dasharray="3.3 4.7"/>
<path d="M495.5 7.6 L496.82 12.47 L498.15 17.25 L499.47 21.95 L500.79 26.55 L502.12 31.05 L503.44 35.45 L504.77 39.75 L506.09 43.94 L507.41 48.02 L508.74 51.99 L510.06 55.86 L511.38 59.61 L512.71 63.24 L514.03 66.77 L515.36 70.18 L516.68 73.48 L518 76.66 L519.33 79.73 L520.65 82.69 L521.97 85.54 L523.3 88.28 L524.62 90.92 L525.95 93.44 L527.27 95.87 L528.59 98.19 L529.92 100.41 L531.24 102.54 L532.56 104.56 L533.89 106.5 L535.21 108.34 L536.54 110.1 L537.86 111.77 L539.18 113.36 L540.51 114.86 L541.83 116.29 L543.15 117.65 L544.48 118.93 L545.8 120.15 L547.13 121.29 L548.45 122.38 L549.77 123.4 L551.1 124.36 L552.42 125.26 L553.74 126.12 L555.07 126.92 L556.39 127.67 L557.72 128.37 L559.04 129.03 L560.36 129.65 L561.69 130.23 L563.01 130.77 L564.33 131.28 L565.66 131.75 L566.98 132.19 L568.31 132.59 L569.63 132.97 L570.95 133.33 L572.28 133.66 L573.6 133.96 L574.92 134.24 L576.25 134.5 L577.57 134.75 L578.9 134.97 L580.22 135.18 L581.54 135.37 L582.87 135.54 L584.19 135.71 L585.51 135.85 L586.84 135.99 L588.16 136.12 L589.49 136.23 L590.81 136.34 L592.13 136.44 L593.46 136.53 L594.78 136.61 L596.1 136.68 L597.43 136.75 L598.75 136.81 L600.08 136.87 L601.4 136.92 L602.72 136.97 L604.05 137.01 L605.37 137.05 L606.69 137.08 L608.02 137.11 L609.34 137.14 L610.67 137.17 L611.99 137.19 L613.31 137.21 L614.64 137.23 L615.96 137.25 L617.28 137.27 L618.61 137.28 L619.93 137.29 L621.26 137.3 L622.58 137.32 L623.9 137.32 L625.23 137.33 L626.55 137.34 L627.87 137.35 L629.2 137.35 L630.52 137.36 L631.85 137.36 L633.17 137.37 L634.49 137.37 L635.82 137.37 L637.14 137.38 L638.46 137.38 L639.79 137.38 L641.11 137.38 L642.44 137.39 L643.76 137.39 L645.08 137.39 L646.41 137.39 L647.73 137.39 L649.05 137.39 L650.38 137.39 L651.7 137.39 L653.03 137.4 L654.35 137.4 L655.67 137.4 L657 137.4 L658.32 137.4 L659.64 137.4 L660.97 137.4 L662.29 137.4 L663.62 137.4 L664.94 137.4 L666.26 137.4 L667.59 137.4 L668.91 137.4 L670.23 137.4 L671.56 137.4 L672.88 137.4 L674.21 137.4 L675.53 137.4 L676.85 137.4 L678.18 137.4 L679.5 137.4" stroke="#ff0000" stroke-width="1.5" fill="none" stroke-dasharray="3.3 4.7"/>
<path d="M495.5 7.6 L496.82 12.25 L498.15 16.82 L499.47 21.29 L500.79 25.67 L502.12 29.96 L503.44 34.14 L504.77 38.23 L506.09 42.22 L507.41 46.11 L508.74 49.9 L510.06 53.58 L511.38 57.16 L512.71 60.64 L514.03 64.01 L515.36 67.28 L516.68 70.45 L518 73.52 L519.33 76.49 L520.65 79.36 L521.97 82.12 L523.3 84.79 L524.62 87.37 L525.95 89.85 L527.27 92.23 L528.59 94.53 L529.92 96.73 L531.24 98.85 L532.56 100.88 L533.89 102.82 L535.21 104.68 L536.54 106.47 L537.86 108.17 L539.18 109.8 L540.51 111.35 L541.83 112.84 L543.15 114.25 L544.48 115.6 L545.8 116.88 L547.13 118.1 L548.45 119.26 L549.77 120.35 L551.1 121.4 L552.42 122.39 L553.74 123.33 L555.07 124.21 L556.39 125.05 L557.72 125.85 L559.04 126.6 L560.36 127.3 L561.69 127.97 L563.01 128.6 L564.33 129.19 L565.66 129.75 L566.98 130.27 L568.31 130.77 L569.63 131.23 L570.95 131.66 L572.28 132.07 L573.6 132.45 L574.92 132.81 L576.25 133.14 L577.57 133.45 L578.9 133.75 L580.22 134.02 L581.54 134.27 L582.87 134.51 L584.19 134.73 L585.51 134.94 L586.84 135.13 L588.16 135.31 L589.49 135.47 L590.81 135.62 L592.13 135.77 L593.46 135.9 L594.78 136.02 L596.1 136.13 L597.43 136.24 L598.75 136.33 L600.08 136.42 L601.4 136.5 L602.72 136.58 L604.05 136.65 L605.37 136.71 L606.69 136.77 L608.02 136.83 L609.34 136.88 L610.67 136.92 L611.99 136.97 L613.31 137.01 L614.64 137.04 L615.96 137.07 L617.28 137.1 L618.61 137.13 L619.93 137.16 L621.26 137.18 L622.58 137.2 L623.9 137.22 L625.23 137.24 L626.55 137.25 L627.87 137.27 L629.2 137.28 L630.52 137.29 L631.85 137.3 L633.17 137.31 L634.49 137.32 L635.82 137.33 L637.14 137.33 L638.46 137.34 L639.79 137.35 L641.11 137.35 L642.44 137.36 L643.76 137.36 L645.08 137.37 L646.41 137.37 L647.73 137.37 L649.05 137.38 L650.38 137.38 L651.7 137.38 L653.03 137.38 L654.35 137.38 L655.67 137.39 L657 137.39 L658.32 137.39 L659.64 137.39 L660.97 137.39 L662.29 137.39 L663.62 137.39 L664.94 137.39 L666.26 137.39 L667.59 137.4 L668.91 137.4 L670.23 137.4 L671.56 137.4 L672.88 137.4 L674.21 137.4 L675.53 137.4 L676.85 137.4 L678.18 137.4 L679.5 137.4" stroke="#ff0000" stroke-width="1.5" fill="none" stroke-dasharray="3.3 4.7"/>
<path d="M495.5 7.6 L496.82 12.03 L498.15 16.38 L499.47 20.63 L500.79 24.79 L502.12 28.85 L503.44 32.82 L504.77 36.69 L506.09 40.47 L507.41 44.16 L508.74 47.74 L510.06 51.24 L511.38 54.64 L512.71 57.94 L514.03 61.15 L515.36 64.27 L516.68 67.29 L518 70.22 L519.33 73.07 L520.65 75.82 L521.97 78.48 L523.3 81.06 L524.62 83.55 L525.95 85.96 L527.27 88.28 L528.59 90.52 L529.92 92.68 L531.24 94.77 L532.56 96.77 L533.89 98.7 L535.21 100.56 L536.54 102.35 L537.86 104.06 L539.18 105.71 L540.51 107.29 L541.83 108.81 L543.15 110.26 L544.48 111.66 L545.8 112.99 L547.13 114.27 L548.45 115.49 L549.77 116.65 L551.1 117.77 L552.42 118.83 L553.74 119.84 L555.07 120.81 L556.39 121.73 L557.72 122.61 L559.04 123.45 L560.36 124.24 L561.69 125 L563.01 125.72 L564.33 126.4 L565.66 127.05 L566.98 127.66 L568.31 128.24 L569.63 128.79 L570.95 129.32 L572.28 129.81 L573.6 130.28 L574.92 130.72 L576.25 131.14 L577.57 131.53 L578.9 131.91 L580.22 132.26 L581.54 132.59 L582.87 132.9 L584.19 133.2 L585.51 133.47 L586.84 133.73 L588.16 133.98 L589.49 134.21 L590.81 134.43 L592.13 134.63 L593.46 134.82 L594.78 135 L596.1 135.16 L597.43 135.32 L598.75 135.47 L600.08 135.6 L601.4 135.73 L602.72 135.85 L604.05 135.96 L605.37 136.07 L606.69 136.17 L608.02 136.26 L609.34 136.34 L610.67 136.42 L611.99 136.49 L613.31 136.56 L614.64 136.63 L615.96 136.69 L617.28 136.74 L618.61 136.79 L619.93 136.84 L621.26 136.88 L622.58 136.92 L623.9 136.96 L625.23 137 L626.55 137.03 L627.87 137.06 L629.2 137.09 L630.52 137.11 L631.85 137.14 L633.17 137.16 L634.49 137.18 L635.82 137.2 L637.14 137.21 L638.46 137.23 L639.79 137.24 L641.11 137.26 L642.44 137.27 L643.76 137.28 L645.08 137.29 L646.41 137.3 L647.73 137.31 L649.05 137.32 L650.38 137.32 L651.7 137.33 L653.03 137.34 L654.35 137.34 L655.67 137.35 L657 137.35 L658.32 137.36 L659.64 137.36 L660.97 137.36 L662.29 137.37 L663.62 137.37 L664.94 137.37 L666.26 137.38 L667.59 137.38 L668.91 137.38 L670.23 137.38 L671.56 137.38 L672.88 137.39 L674.21 137.39 L675.53 137.39 L676.85 137.39 L678.18 137.39 L679.5 137.39" stroke="#ff0000" stroke-width="1.5" fill="none" stroke-dasharray="3.3 4.7"/>
<path d="M495.5 7.6 L496.82 12.98 L498.15 18.27 L499.47 23.47 L500.79 28.57 L502.12 33.56 L503.44 38.43 L504.77 43.19 L506.09 47.82 L507.41 52.33 L508.74 56.7 L510.06 60.93 L511.38 65.03 L512.71 68.99 L514.03 72.8 L515.36 76.47 L516.68 80 L518 83.39 L519.33 86.64 L520.65 89.75 L521.97 92.72 L523.3 95.55 L524.62 98.25 L525.95 100.82 L527.27 103.25 L528.59 105.57 L529.92 107.76 L531.24 109.83 L532.56 111.78 L533.89 113.63 L535.21 115.37 L536.54 117 L537.86 118.54 L539.18 119.98 L540.51 121.33 L541.83 122.59 L543.15 123.77 L544.48 124.86 L545.8 125.89 L547.13 126.84 L548.45 127.73 L549.77 128.55 L551.1 129.31 L552.42 130.01 L553.74 130.66 L555.07 131.26 L556.39 131.82 L557.72 132.32 L559.04 132.79 L560.36 133.22 L561.69 133.62 L563.01 133.98 L564.33 134.31 L565.66 134.61 L566.98 134.88 L568.31 135.14 L569.63 135.36 L570.95 135.57 L572.28 135.76 L573.6 135.93 L574.92 136.08 L576.25 136.22 L577.57 136.35 L578.9 136.46 L580.22 136.56 L581.54 136.66 L582.87 136.74 L584.19 136.81 L585.51 136.88 L586.84 136.94 L588.16 136.99 L589.49 137.04 L590.81 137.08 L592.13 137.12 L593.46 137.15 L594.78 137.18 L596.1 137.21 L597.43 137.23 L598.75 137.25 L600.08 137.27 L601.4 137.29 L602.72 137.3 L604.05 137.31 L605.37 137.33 L606.69 137.33 L608.02 137.34 L609.34 137.35 L610.67 137.36 L611.99 137.36 L613.31 137.37 L614.64 137.37 L615.96 137.38 L617.28 137.38 L618.61 137.38 L619.93 137.38 L621.26 137.39 L622.58 137.39 L623.9 137.39 L625.23 137.39 L626.55 137.39 L627.87 137.39 L629.2 137.39 L630.52 137.4 L631.85 137.4 L633.17 137.4 L634.49 137.4 L635.82 137.4 L637.14 137.4 L638.46 137.4 L639.79 137.4 L641.11 137.4 L642.44 137.4 L643.76 137.4 L645.08 137.4 L646.41 137.4 L647.73 137.4 L649.05 137.4 L650.38 137.4 L651.7 137.4 L653.03 137.4 L654.35 137.4 L655.67 137.4 L657 137.4 L658.32 137.4 L659.64 137.4 L660.97 137.4 L662.29 137.4 L663.62 137.4 L664.94 137.4 L666.26 137.4 L667.59 137.4 L668.91 137.4 L670.23 137.4 L671.56 137.4 L672.88 137.4 L674.21 137.4 L675.53 137.4 L676.85 137.4 L678.18 137.4 L679.5 137.4" stroke="#000000" stroke-width="2.0" fill="none" stroke-dasharray="3.4 1.2 2.2 1.2"/>
<path d="M495.5 7.6 L496.82 12.76 L498.15 17.84 L499.47 22.82 L500.79 27.71 L502.12 32.49 L503.44 37.17 L504.77 41.73 L506.09 46.18 L507.41 50.51 L508.74 54.71 L510.06 58.8 L511.38 62.75 L512.71 66.58 L514.03 70.28 L515.36 73.85 L516.68 77.29 L518 80.6 L519.33 83.79 L520.65 86.84 L521.97 89.77 L523.3 92.58 L524.62 95.26 L525.95 97.82 L527.27 100.26 L528.59 102.59 L529.92 104.81 L531.24 106.91 L532.56 108.91 L533.89 110.8 L535.21 112.59 L536.54 114.29 L537.86 115.89 L539.18 117.4 L540.51 118.82 L541.83 120.16 L543.15 121.42 L544.48 122.6 L545.8 123.71 L547.13 124.75 L548.45 125.72 L549.77 126.62 L551.1 127.47 L552.42 128.26 L553.74 129 L555.07 129.68 L556.39 130.31 L557.72 130.9 L559.04 131.45 L560.36 131.96 L561.69 132.42 L563.01 132.86 L564.33 133.26 L565.66 133.62 L566.98 133.96 L568.31 134.27 L569.63 134.56 L570.95 134.82 L572.28 135.06 L573.6 135.28 L574.92 135.48 L576.25 135.67 L577.57 135.84 L578.9 135.99 L580.22 136.13 L581.54 136.26 L582.87 136.37 L584.19 136.47 L585.51 136.57 L586.84 136.66 L588.16 136.73 L589.49 136.8 L590.81 136.87 L592.13 136.92 L593.46 136.97 L594.78 137.02 L596.1 137.06 L597.43 137.1 L598.75 137.13 L600.08 137.16 L601.4 137.19 L602.72 137.21 L604.05 137.24 L605.37 137.25 L606.69 137.27 L608.02 137.29 L609.34 137.3 L610.67 137.31 L611.99 137.32 L613.31 137.33 L614.64 137.34 L615.96 137.35 L617.28 137.35 L618.61 137.36 L619.93 137.36 L621.26 137.37 L622.58 137.37 L623.9 137.38 L625.23 137.38 L626.55 137.38 L627.87 137.38 L629.2 137.39 L630.52 137.39 L631.85 137.39 L633.17 137.39 L634.49 137.39 L635.82 137.39 L637.14 137.39 L638.46 137.4 L639.79 137.4 L641.11 137.4 L642.44 137.4 L643.76 137.4 L645.08 137.4 L646.41 137.4 L647.73 137.4 L649.05 137.4 L650.38 137.4 L651.7 137.4 L653.03 137.4 L654.35 137.4 L655.67 137.4 L657 137.4 L658.32 137.4 L659.64 137.4 L660.97 137.4 L662.29 137.4 L663.62 137.4 L664.94 137.4 L666.26 137.4 L667.59 137.4 L668.91 137.4 L670.23 137.4 L671.56 137.4 L672.88 137.4 L674.21 137.4 L675.53 137.4 L676.85 137.4 L678.18 137.4 L679.5 137.4" stroke="#000000" stroke-width="2.0" fill="none" stroke-dasharray="3.4 1.2 2.2 1.2"/>
<path d="M495.5 7.6 L496.82 12.54 L498.15 17.4 L499.47 22.17 L500.79 26.84 L502.12 31.41 L503.44 35.88 L504.77 40.25 L506.09 44.5 L507.41 48.65 L508.74 52.68 L510.06 56.6 L511.38 60.41 L512.71 64.09 L514.03 67.66 L515.36 71.12 L516.68 74.45 L518 77.67 L519.33 80.77 L520.65 83.76 L521.97 86.63 L523.3 89.39 L524.62 92.04 L525.95 94.58 L527.27 97.01 L528.59 99.34 L529.92 101.56 L531.24 103.68 L532.56 105.71 L533.89 107.64 L535.21 109.47 L536.54 111.21 L537.86 112.87 L539.18 114.44 L540.51 115.93 L541.83 117.34 L543.15 118.67 L544.48 119.93 L545.8 121.12 L547.13 122.24 L548.45 123.29 L549.77 124.28 L551.1 125.22 L552.42 126.09 L553.74 126.92 L555.07 127.69 L556.39 128.41 L557.72 129.09 L559.04 129.72 L560.36 130.31 L561.69 130.86 L563.01 131.37 L564.33 131.85 L565.66 132.29 L566.98 132.7 L568.31 133.08 L569.63 133.44 L570.95 133.77 L572.28 134.07 L573.6 134.35 L574.92 134.61 L576.25 134.85 L577.57 135.07 L578.9 135.28 L580.22 135.47 L581.54 135.64 L582.87 135.8 L584.19 135.94 L585.51 136.08 L586.84 136.2 L588.16 136.31 L589.49 136.41 L590.81 136.51 L592.13 136.59 L593.46 136.67 L594.78 136.74 L596.1 136.8 L597.43 136.86 L598.75 136.92 L600.08 136.97 L601.4 137.01 L602.72 137.05 L604.05 137.08 L605.37 137.12 L606.69 137.15 L608.02 137.17 L609.34 137.2 L610.67 137.22 L611.99 137.24 L613.31 137.26 L614.64 137.27 L615.96 137.29 L617.28 137.3 L618.61 137.31 L619.93 137.32 L621.26 137.33 L622.58 137.34 L623.9 137.34 L625.23 137.35 L626.55 137.36 L627.87 137.36 L629.2 137.37 L630.52 137.37 L631.85 137.37 L633.17 137.38 L634.49 137.38 L635.82 137.38 L637.14 137.38 L638.46 137.39 L639.79 137.39 L641.11 137.39 L642.44 137.39 L643.76 137.39 L645.08 137.39 L646.41 137.39 L647.73 137.39 L649.05 137.4 L650.38 137.4 L651.7 137.4 L653.03 137.4 L654.35 137.4 L655.67 137.4 L657 137.4 L658.32 137.4 L659.64 137.4 L660.97 137.4 L662.29 137.4 L663.62 137.4 L664.94 137.4 L666.26 137.4 L667.59 137.4 L668.91 137.4 L670.23 137.4 L671.56 137.4 L672.88 137.4 L674.21 137.4 L675.53 137.4 L676.85 137.4 L678.18 137.4 L679.5 137.4" stroke="#000000" stroke-width="2.0" fill="none" stroke-dasharray="3.4 1.2 2.2 1.2"/>
<path d="M495.5 7.6 L496.82 12.33 L498.15 16.96 L499.47 21.51 L500.79 25.96 L502.12 30.32 L503.44 34.58 L504.77 38.74 L506.09 42.8 L507.41 46.75 L508.74 50.6 L510.06 54.35 L511.38 57.98 L512.71 61.52 L514.03 64.94 L515.36 68.26 L516.68 71.48 L518 74.59 L519.33 77.59 L520.65 80.49 L521.97 83.29 L523.3 85.98 L524.62 88.58 L525.95 91.08 L527.27 93.48 L528.59 95.78 L529.92 98 L531.24 100.12 L532.56 102.15 L533.89 104.09 L535.21 105.95 L536.54 107.73 L537.86 109.42 L539.18 111.04 L540.51 112.58 L541.83 114.05 L543.15 115.44 L544.48 116.77 L545.8 118.03 L547.13 119.23 L548.45 120.36 L549.77 121.44 L551.1 122.45 L552.42 123.42 L553.74 124.32 L555.07 125.18 L556.39 125.99 L557.72 126.76 L559.04 127.48 L560.36 128.16 L561.69 128.79 L563.01 129.39 L564.33 129.96 L565.66 130.48 L566.98 130.98 L568.31 131.44 L569.63 131.88 L570.95 132.28 L572.28 132.66 L573.6 133.02 L574.92 133.35 L576.25 133.66 L577.57 133.94 L578.9 134.21 L580.22 134.46 L581.54 134.69 L582.87 134.91 L584.19 135.11 L585.51 135.29 L586.84 135.46 L588.16 135.62 L589.49 135.77 L590.81 135.9 L592.13 136.03 L593.46 136.15 L594.78 136.25 L596.1 136.35 L597.43 136.44 L598.75 136.52 L600.08 136.6 L601.4 136.67 L602.72 136.74 L604.05 136.8 L605.37 136.85 L606.69 136.9 L608.02 136.95 L609.34 136.99 L610.67 137.03 L611.99 137.06 L613.31 137.09 L614.64 137.12 L615.96 137.15 L617.28 137.17 L618.61 137.19 L619.93 137.21 L621.26 137.23 L622.58 137.25 L623.9 137.26 L625.23 137.28 L626.55 137.29 L627.87 137.3 L629.2 137.31 L630.52 137.32 L631.85 137.33 L633.17 137.34 L634.49 137.34 L635.82 137.35 L637.14 137.35 L638.46 137.36 L639.79 137.36 L641.11 137.37 L642.44 137.37 L643.76 137.37 L645.08 137.38 L646.41 137.38 L647.73 137.38 L649.05 137.38 L650.38 137.39 L651.7 137.39 L653.03 137.39 L654.35 137.39 L655.67 137.39 L657 137.39 L658.32 137.39 L659.64 137.39 L660.97 137.39 L662.29 137.4 L663.62 137.4 L664.94 137.4 L666.26 137.4 L667.59 137.4 L668.91 137.4 L670.23 137.4 L671.56 137.4 L672.88 137.4 L674.21 137.4 L675.53 137.4 L676.85 137.4 L678.18 137.4 L679.5 137.4" stroke="#000000" stroke-width="2.0" fill="none" stroke-dasharray="3.4 1.2 2.2 1.2"/>
<path d="M495.5 7.6 L496.82 12.11 L498.15 16.52 L499.47 20.85 L500.79 25.08 L502.12 29.22 L503.44 33.26 L504.77 37.21 L506.09 41.06 L507.41 44.81 L508.74 48.47 L510.06 52.03 L511.38 55.49 L512.71 58.85 L514.03 62.12 L515.36 65.29 L516.68 68.36 L518 71.34 L519.33 74.23 L520.65 77.02 L521.97 79.72 L523.3 82.33 L524.62 84.85 L525.95 87.29 L527.27 89.63 L528.59 91.9 L529.92 94.08 L531.24 96.17 L532.56 98.19 L533.89 100.13 L535.21 101.99 L536.54 103.78 L537.86 105.49 L539.18 107.14 L540.51 108.71 L541.83 110.22 L543.15 111.66 L544.48 113.04 L545.8 114.36 L547.13 115.62 L548.45 116.82 L549.77 117.97 L551.1 119.06 L552.42 120.1 L553.74 121.09 L555.07 122.03 L556.39 122.93 L557.72 123.78 L559.04 124.59 L560.36 125.35 L561.69 126.08 L563.01 126.77 L564.33 127.42 L565.66 128.04 L566.98 128.62 L568.31 129.18 L569.63 129.7 L570.95 130.19 L572.28 130.65 L573.6 131.09 L574.92 131.51 L576.25 131.9 L577.57 132.26 L578.9 132.61 L580.22 132.93 L581.54 133.23 L582.87 133.52 L584.19 133.79 L585.51 134.04 L586.84 134.27 L588.16 134.49 L589.49 134.7 L590.81 134.89 L592.13 135.08 L593.46 135.24 L594.78 135.4 L596.1 135.55 L597.43 135.69 L598.75 135.81 L600.08 135.93 L601.4 136.04 L602.72 136.15 L604.05 136.24 L605.37 136.33 L606.69 136.42 L608.02 136.49 L609.34 136.56 L610.67 136.63 L611.99 136.69 L613.31 136.75 L614.64 136.8 L615.96 136.85 L617.28 136.89 L618.61 136.94 L619.93 136.97 L621.26 137.01 L622.58 137.04 L623.9 137.07 L625.23 137.1 L626.55 137.13 L627.87 137.15 L629.2 137.17 L630.52 137.19 L631.85 137.21 L633.17 137.23 L634.49 137.24 L635.82 137.26 L637.14 137.27 L638.46 137.28 L639.79 137.29 L641.11 137.3 L642.44 137.31 L643.76 137.32 L645.08 137.33 L646.41 137.33 L647.73 137.34 L649.05 137.34 L650.38 137.35 L651.7 137.35 L653.03 137.36 L654.35 137.36 L655.67 137.37 L657 137.37 L658.32 137.37 L659.64 137.38 L660.97 137.38 L662.29 137.38 L663.62 137.38 L664.94 137.38 L666.26 137.39 L667.59 137.39 L668.91 137.39 L670.23 137.39 L671.56 137.39 L672.88 137.39 L674.21 137.39 L675.53 137.39 L676.85 137.39 L678.18 137.39 L679.5 137.4" stroke="#000000" stroke-width="2.0" fill="none" stroke-dasharray="3.4 1.2 2.2 1.2"/>
<path d="M495.5 7.6 L496.82 12.02 L498.15 16.35 L499.47 20.58 L500.79 24.73 L502.12 28.78 L503.44 32.73 L504.77 36.59 L506.09 40.35 L507.41 44.02 L508.74 47.6 L510.06 51.08 L511.38 54.46 L512.71 57.76 L514.03 60.96 L515.36 64.06 L516.68 67.07 L518 70 L519.33 72.83 L520.65 75.57 L521.97 78.23 L523.3 80.8 L524.62 83.29 L525.95 85.69 L527.27 88 L528.59 90.24 L529.92 92.4 L531.24 94.48 L532.56 96.48 L533.89 98.41 L535.21 100.27 L536.54 102.06 L537.86 103.77 L539.18 105.42 L540.51 107 L541.83 108.52 L543.15 109.98 L544.48 111.37 L545.8 112.71 L547.13 113.99 L548.45 115.21 L549.77 116.38 L551.1 117.5 L552.42 118.57 L553.74 119.58 L555.07 120.56 L556.39 121.48 L557.72 122.37 L559.04 123.21 L560.36 124.01 L561.69 124.77 L563.01 125.49 L564.33 126.18 L565.66 126.84 L566.98 127.46 L568.31 128.04 L569.63 128.6 L570.95 129.13 L572.28 129.63 L573.6 130.1 L574.92 130.55 L576.25 130.98 L577.57 131.38 L578.9 131.76 L580.22 132.11 L581.54 132.45 L582.87 132.77 L584.19 133.07 L585.51 133.35 L586.84 133.62 L588.16 133.87 L589.49 134.1 L590.81 134.32 L592.13 134.53 L593.46 134.72 L594.78 134.91 L596.1 135.08 L597.43 135.24 L598.75 135.39 L600.08 135.53 L601.4 135.66 L602.72 135.79 L604.05 135.9 L605.37 136.01 L606.69 136.11 L608.02 136.2 L609.34 136.29 L610.67 136.37 L611.99 136.45 L613.31 136.52 L614.64 136.59 L615.96 136.65 L617.28 136.7 L618.61 136.76 L619.93 136.81 L621.26 136.85 L622.58 136.9 L623.9 136.94 L625.23 136.97 L626.55 137.01 L627.87 137.04 L629.2 137.07 L630.52 137.09 L631.85 137.12 L633.17 137.14 L634.49 137.16 L635.82 137.18 L637.14 137.2 L638.46 137.22 L639.79 137.23 L641.11 137.25 L642.44 137.26 L643.76 137.27 L645.08 137.28 L646.41 137.29 L647.73 137.3 L649.05 137.31 L650.38 137.32 L651.7 137.32 L653.03 137.33 L654.35 137.34 L655.67 137.34 L657 137.35 L658.32 137.35 L659.64 137.36 L660.97 137.36 L662.29 137.36 L663.62 137.37 L664.94 137.37 L666.26 137.37 L667.59 137.38 L668.91 137.38 L670.23 137.38 L671.56 137.38 L672.88 137.38 L674.21 137.39 L675.53 137.39 L676.85 137.39 L678.18 137.39 L679.5 137.39" stroke="#ff0000" stroke-width="1.2" fill="none" stroke-dasharray="4.4 3.6"/>
<path d="M592.1 136.16 L593.88 136.31 L595.67 136.43 L597.45 136.55 L599.23 136.65 L601.02 136.74 L602.8 136.82 L604.59 136.89 L606.37 136.95 L608.15 137.01 L609.94 137.06 L611.72 137.1 L613.5 137.14 L615.29 137.17 L617.07 137.2 L618.86 137.23 L620.64 137.25 L622.42 137.27 L624.21 137.29 L625.99 137.3 L627.77 137.32 L629.56 137.33 L631.34 137.34 L633.12 137.35 L634.91 137.35 L636.69 137.36 L638.48 137.37 L640.26 137.37 L642.04 137.38 L643.83 137.38 L645.61 137.38 L647.39 137.39 L649.18 137.39 L650.96 137.39 L652.74 137.39 L654.53 137.39 L656.31 137.39 L658.1 137.39 L659.88 137.4 L661.66 137.4 L663.45 137.4 L665.23 137.4 L667.01 137.4 L668.8 137.4 L670.58 137.4 L672.37 137.4 L674.15 137.4 L675.93 137.4 L677.72 137.4 L679.5 137.4" stroke="#000" stroke-width="1.8" fill="none"/>
</g>
<path d="M495.5 7.6 V137.4 H679.5" stroke="#3c3c3c" stroke-width="0.9" fill="none"/>
<path d="M495.5 137.4 v-2 M541.5 137.4 v-2 M587.5 137.4 v-2 M633.5 137.4 v-2 M679.5 137.4 v-2 M495.5 137.4 h2 M495.5 111.44 h2 M495.5 85.48 h2 M495.5 59.52 h2 M495.5 33.56 h2 M495.5 7.6 h2 " stroke="#3c3c3c" stroke-width="0.8" fill="none"/>
<text x="495.5" y="151.6" text-anchor="middle" class="tk" font-size="10">0</text>
<text x="541.5" y="151.6" text-anchor="middle" class="tk" font-size="10">1</text>
<text x="587.5" y="151.6" text-anchor="middle" class="tk" font-size="10">2</text>
<text x="633.5" y="151.6" text-anchor="middle" class="tk" font-size="10">3</text>
<text x="679.5" y="151.6" text-anchor="middle" class="tk" font-size="10">4</text>
<text x="492.3" y="142.1" text-anchor="end" class="tk" font-size="10">0</text>
<text x="491.5" y="115.34" text-anchor="end" class="tk" font-size="10">0.2</text>
<text x="491.5" y="89.38" text-anchor="end" class="tk" font-size="10">0.4</text>
<text x="491.5" y="63.42" text-anchor="end" class="tk" font-size="10">0.6</text>
<text x="491.5" y="37.46" text-anchor="end" class="tk" font-size="10">0.8</text>
<text x="491.5" y="11.5" text-anchor="end" class="tk" font-size="10">1</text>
<path d="M58.75 169 L93.78 129.16" stroke="#000" stroke-width="1.05" fill="none"/><path d="M97 125.5 L94.38 133.18 L93.78 129.16 L89.72 129.09 Z" fill="#000"/>
<path d="M147 129 L181.96 97.84" stroke="#000" stroke-width="1.05" fill="none"/><path d="M185.6 94.6 L182.06 101.9 L181.96 97.84 L177.94 97.28 Z" fill="#000"/>
<path d="M480 129.3 L444.8 171.94" stroke="#000" stroke-width="1.05" fill="none"/><path d="M441.7 175.7 L444.08 167.94 L444.8 171.94 L448.87 171.89 Z" fill="#000"/>
<path d="M555.3 93.6 L524.83 127.95" stroke="#000" stroke-width="1.05" fill="none"/><path d="M521.6 131.6 L524.26 123.93 L524.83 127.95 L528.9 128.05 Z" fill="#000"/>
<path d="M210 34.2 H257" stroke="#00ff00" stroke-width="1.4" fill="none"/>
<text x="260" y="37.2" class="tk" font-size="8.8">K = 0.3</text>
<path d="M210 46.4 H257" stroke="#ff0000" stroke-width="1.5" fill="none" stroke-dasharray="4.4 4.4" stroke-dashoffset="0.9"/>
<text x="260" y="49.4" class="tk" font-size="8.8">K = 0.5</text>
<path d="M210 60.4 H257" stroke="#000000" stroke-width="1.5" fill="none" stroke-dasharray="4.4 1.5 1.4 1.5"/>
<text x="260" y="63.4" class="tk" font-size="8.8">K = 1.0</text>
<path d="M580.3 33.5 H626.5" stroke="#00ff00" stroke-width="1.4" fill="none"/>
<text x="629.3" y="36.5" class="tk" font-size="8.8">m<tspan font-size="7.5" dy="3">e</tspan><tspan dy="-3"> = 0.2</tspan></text>
<path d="M580.3 45.9 H626.5" stroke="#ff0000" stroke-width="1.5" fill="none" stroke-dasharray="4.4 4.4" stroke-dashoffset="0.9"/>
<text x="629.3" y="48.9" class="tk" font-size="8.8">m<tspan font-size="7.5" dy="3">e</tspan><tspan dy="-3"> = 0.4</tspan></text>
<path d="M580.3 59.9 H626.5" stroke="#000000" stroke-width="1.5" fill="none" stroke-dasharray="4.4 1.5 1.4 1.5"/>
<text x="629.3" y="62.9" class="tk" font-size="8.8">m<tspan font-size="7.5" dy="3">e</tspan><tspan dy="-3"> = 0.6</tspan></text>
<text x="189.2" y="51.7" text-anchor="middle" class="tk" font-size="11.6">(a)</text>
<text x="559.4" y="52" text-anchor="middle" class="tk" font-size="11.6">(b)</text>
<rect x="170.6" y="164.5" width="121.7" height="17.9" fill="#fff" stroke="#3c3c3c" stroke-width="0.9"/>
<text x="174.7" y="177.2" class="tk" font-size="10.2">M = 0.5, 1.5, 2.6, 3.7, 4.8</text>
<rect x="552.2" y="159.5" width="129.4" height="19.5" fill="#fff" stroke="#3c3c3c" stroke-width="0.9"/>
<text x="556.2" y="172.4" class="tk" font-size="10.3">U<tspan font-size="8.2" dy="3.6">hs</tspan><tspan dy="-3.6"> = -0.5, -0.3, 0.0, 0.3, 0.5</tspan></text>
<text x="170.5" y="217" text-anchor="middle" class="it" font-size="11">η</text>
<text x="542" y="217" text-anchor="middle" class="it" font-size="11">η</text>
<text x="211" y="160" text-anchor="middle" class="it" font-size="11">η</text>
<text x="605.7" y="152.2" text-anchor="middle" class="it" font-size="11">η</text>
<text transform="translate(8.3,95.2) rotate(-90) scale(1,0.8)" text-anchor="middle" class="tk" font-size="12">h(<tspan class="it">η</tspan>) &amp; <tspan class="it">ϕ</tspan>(<tspan class="it">η</tspan>)</text>
<text transform="translate(378.6,94.4) rotate(-90) scale(1,0.8)" text-anchor="middle" class="tk" font-size="12">h(<tspan class="it">η</tspan>) &amp; <tspan class="it">ϕ</tspan>(<tspan class="it">η</tspan>)</text>
<text transform="translate(100.3,73.6) rotate(-90) scale(1,0.9)" text-anchor="middle" class="tk" font-size="12"><tspan class="it">ϕ</tspan>(<tspan class="it">η</tspan>)</text>
<text transform="translate(474.5,72) rotate(-90) scale(1,0.9)" text-anchor="middle" class="tk" font-size="12"><tspan class="it">ϕ</tspan>(<tspan class="it">η</tspan>)</text>
<text x="164.8" y="242.8" text-anchor="middle" font-size="13">(a)</text>
<text x="534.6" y="242.8" text-anchor="middle" font-size="13">(b)</text>
</svg></body></html>
